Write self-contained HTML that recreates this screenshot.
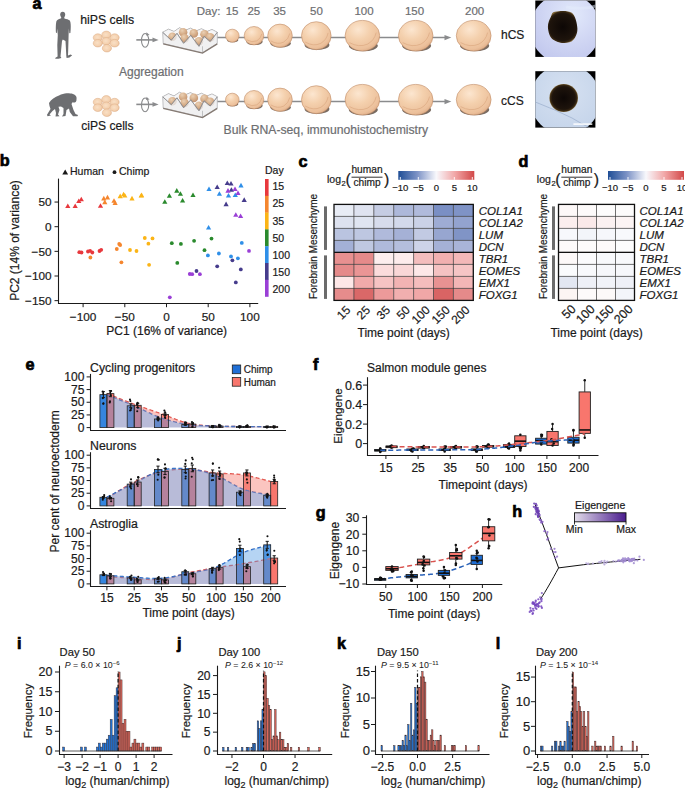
<!DOCTYPE html>
<html><head><meta charset="utf-8"><style>
html,body{margin:0;padding:0;background:#fff;width:685px;height:790px;overflow:hidden}
svg{display:block;font-family:"Liberation Sans", sans-serif}

</style></head><body>
<svg width="685" height="790" viewBox="0 0 685 790">
<text x="32.50" y="9.30" font-size="16.2" font-weight="bold" fill="#000" stroke="#000" stroke-width="0.7">a</text>
<defs>
<radialGradient id="org" cx="0.38" cy="0.3" r="0.75">
 <stop offset="0" stop-color="#fce6d0"/><stop offset="0.45" stop-color="#f4d0ad"/>
 <stop offset="0.85" stop-color="#ecc09b"/><stop offset="1" stop-color="#dcab86"/>
</radialGradient>
<radialGradient id="cell" cx="0.45" cy="0.45" r="0.6">
 <stop offset="0" stop-color="#f9e0c6"/><stop offset="0.7" stop-color="#f4d0ae"/><stop offset="1" stop-color="#e6b690"/>
</radialGradient>
<radialGradient id="ph1" cx="0.6" cy="0.3" r="0.7">
 <stop offset="0" stop-color="#e2e9fb"/><stop offset="0.6" stop-color="#cfd5f3"/><stop offset="1" stop-color="#c3c9ee"/>
</radialGradient>
<radialGradient id="ph2" cx="0.5" cy="0.4" r="0.7">
 <stop offset="0" stop-color="#d6e1f1"/><stop offset="1" stop-color="#c2d2e9"/>
</radialGradient>
<radialGradient id="dark" cx="0.5" cy="0.5" r="0.5">
 <stop offset="0" stop-color="#0d0705"/><stop offset="0.8" stop-color="#1e140c"/><stop offset="0.93" stop-color="#3a2a14"/><stop offset="1" stop-color="#7d6436"/>
</radialGradient>
</defs>
<ellipse cx="62.7" cy="14.6" rx="2.5" ry="2.9" fill="#6d6e71"/>
<path fill="#6d6e71" d="M61.2,16.6 L64.2,16.6 L64.4,18.4 C66.5,19 68.8,19.4 69.8,20.5 C70.8,22 70.9,26 70.7,29 L70.4,33 L69.3,33.2 L68.9,28.5 L68.6,35 C68.4,42 68.3,50 68,55.5 L70.5,54.6 L72.2,55.2 L69.5,57.5 L66.6,58 L66.3,56 L65.5,41 L62.8,39.5 L62,41 L60.5,56.5 L61.4,58 L58.5,58.8 L55.2,58.8 L55.5,57.8 L57.6,56.5 L57.3,45 L57.8,35 L57.1,28.5 L56.9,33 L56,32.8 C55.7,29 55.8,23 56.5,21 C57.5,19.4 59.5,18.9 61.2,18.3 Z"/>
<path fill="#6d6e71" d="M49,103 C51,99.5 55,97 59,95.5 C62,94 65,93 67.5,93.3 C69.5,93.6 71,93.2 73,94 C75.5,94.6 76.5,96.5 76.6,98 C76.3,99.5 76.8,100.5 76,101.5 C75.6,102.6 74,102.8 72.5,102.3 L71.5,104 L73.5,110 L75.5,114 L78,115 L77.5,116.3 L73,116.3 L69.8,112 L69,108.5 L66.5,110 L65.5,116 L62,116.5 L63.5,114 L63.5,108 L61,106.5 L58.5,106.8 L59.5,110 L58,114.5 L59.5,116.2 L55.5,116.5 L56,113 L55,109 L52.5,111 L49.5,114.5 L51,115.5 L47.5,116.3 L47,114.8 L50.5,109 L49.5,106 Z"/>
<text x="80.20" y="24.00" font-size="12.3" fill="#1a1a1a" stroke="#1a1a1a" stroke-width="0.2">hiPS cells</text>
<text x="81.20" y="130.30" font-size="12.1" fill="#1a1a1a" stroke="#1a1a1a" stroke-width="0.2">ciPS cells</text>
<text x="119.00" y="76.30" font-size="12" fill="#6d6e71" stroke="#6d6e71" stroke-width="0.2">Aggregation</text>
<text x="223.60" y="134.20" font-size="12.2" fill="#6d6e71" stroke="#6d6e71" stroke-width="0.2">Bulk RNA-seq, immunohistochemistry</text>
<ellipse cx="97.8" cy="37.6" rx="4.6" ry="3.8" fill="url(#cell)" stroke="#dcae88" stroke-width="0.5"/>
<ellipse cx="114.6" cy="37.6" rx="4.6" ry="3.8" fill="url(#cell)" stroke="#dcae88" stroke-width="0.5"/>
<ellipse cx="106.3" cy="34.9" rx="4.6" ry="3.8" fill="url(#cell)" stroke="#dcae88" stroke-width="0.5"/>
<ellipse cx="106.3" cy="41.3" rx="4.6" ry="3.8" fill="url(#cell)" stroke="#dcae88" stroke-width="0.5"/>
<ellipse cx="97.8" cy="43.2" rx="4.6" ry="3.8" fill="url(#cell)" stroke="#dcae88" stroke-width="0.5"/>
<ellipse cx="114.6" cy="43.2" rx="4.6" ry="3.8" fill="url(#cell)" stroke="#dcae88" stroke-width="0.5"/>
<ellipse cx="106.9" cy="48.2" rx="4.6" ry="3.8" fill="url(#cell)" stroke="#dcae88" stroke-width="0.5"/>
<ellipse cx="97.8" cy="102.1" rx="4.6" ry="3.8" fill="url(#cell)" stroke="#dcae88" stroke-width="0.5"/>
<ellipse cx="114.6" cy="102.1" rx="4.6" ry="3.8" fill="url(#cell)" stroke="#dcae88" stroke-width="0.5"/>
<ellipse cx="106.3" cy="99.4" rx="4.6" ry="3.8" fill="url(#cell)" stroke="#dcae88" stroke-width="0.5"/>
<ellipse cx="106.3" cy="105.8" rx="4.6" ry="3.8" fill="url(#cell)" stroke="#dcae88" stroke-width="0.5"/>
<ellipse cx="97.8" cy="107.7" rx="4.6" ry="3.8" fill="url(#cell)" stroke="#dcae88" stroke-width="0.5"/>
<ellipse cx="114.6" cy="107.7" rx="4.6" ry="3.8" fill="url(#cell)" stroke="#dcae88" stroke-width="0.5"/>
<ellipse cx="106.9" cy="112.7" rx="4.6" ry="3.8" fill="url(#cell)" stroke="#dcae88" stroke-width="0.5"/>
<line x1="136.30" y1="39.90" x2="153.50" y2="39.90" stroke="#8a8b8d" stroke-width="1.6"/>
<path d="M152.5,37.5 L158.6,39.9 L152.5,42.3Z" fill="#8a8b8d"/>
<ellipse cx="145.1" cy="40.4" rx="3.6" ry="6.9" fill="none" stroke="#8a8b8d" stroke-width="1.1"/>
<path d="M146.5,32.3 L149.6,35.1 L146.2,35.5Z" fill="#8a8b8d"/>
<line x1="136.30" y1="104.40" x2="153.50" y2="104.40" stroke="#8a8b8d" stroke-width="1.6"/>
<path d="M152.5,102.0 L158.6,104.4 L152.5,106.8Z" fill="#8a8b8d"/>
<ellipse cx="145.1" cy="104.9" rx="3.6" ry="6.9" fill="none" stroke="#8a8b8d" stroke-width="1.1"/>
<path d="M146.5,96.8 L149.6,99.6 L146.2,100.0Z" fill="#8a8b8d"/>
<defs><radialGradient id="pcell" cx="0.4" cy="0.3" r="0.7">
 <stop offset="0" stop-color="#ead0b4"/><stop offset="0.6" stop-color="#d6ad88"/><stop offset="1" stop-color="#c19372"/></radialGradient></defs>
<polyline points="162.7,32.3 168.5,29.2 174,31.5 179.5,27.8 185,30.5 190.5,28.2 196,31.0 201.5,28.8 207,31.5 212,29.5 217.3,32.3" fill="none" stroke="#7f8083" stroke-width="0.7"/>
<polygon points="162.7,32.3 168.5,29.2 174,31.5 179.5,27.8 185,30.5 190.5,28.2 196,31.0 201.5,28.8 207,31.5 212,29.5 217.3,32.3 217.3,36.0 162.7,36.0" fill="#f0f0f1" fill-opacity="0.6"/>
<circle cx="183.1" cy="32.2" r="4.3" fill="url(#pcell)"/>
<circle cx="193.8" cy="33.4" r="4.3" fill="url(#pcell)"/>
<circle cx="204.5" cy="34.2" r="4.3" fill="url(#pcell)"/>
<circle cx="172.4" cy="36.8" r="4.3" fill="url(#pcell)"/>
<circle cx="184.6" cy="38.4" r="4.3" fill="url(#pcell)"/>
<circle cx="198.9" cy="41.2" r="4.3" fill="url(#pcell)"/>
<circle cx="210.2" cy="37.4" r="4.3" fill="url(#pcell)"/>
<polygon points="162.7,32.3 171.3,40.2 177,33.3 183.6,43.3 190.8,35.3 199,46.3 204,36.3 210.2,41.5 217.3,32.3 217.3,43.5 202.5,52.7 163.2,43.5" fill="#ececed" fill-opacity="0.78" stroke="#9a9b9d" stroke-width="0.6"/>
<polyline points="162.7,32.3 171.3,40.2 177,33.3 183.6,43.3 190.8,35.3 199,46.3 204,36.3 210.2,41.5 217.3,32.3" fill="none" stroke="#7f8083" stroke-width="0.7"/>
<line x1="202.5" y1="46.3" x2="202.5" y2="52.7" stroke="#a0a1a3" stroke-width="0.6"/>
<polyline points="163.2,43.9 202.5,53.1 217.3,43.9" fill="none" stroke="#857a73" stroke-width="1.3"/>
<polyline points="162.7,96.8 168.5,93.7 174,96.0 179.5,92.3 185,95.0 190.5,92.7 196,95.5 201.5,93.3 207,96.0 212,94.0 217.3,96.8" fill="none" stroke="#7f8083" stroke-width="0.7"/>
<polygon points="162.7,96.8 168.5,93.7 174,96.0 179.5,92.3 185,95.0 190.5,92.7 196,95.5 201.5,93.3 207,96.0 212,94.0 217.3,96.8 217.3,100.5 162.7,100.5" fill="#f0f0f1" fill-opacity="0.6"/>
<circle cx="183.1" cy="96.7" r="4.3" fill="url(#pcell)"/>
<circle cx="193.8" cy="97.9" r="4.3" fill="url(#pcell)"/>
<circle cx="204.5" cy="98.7" r="4.3" fill="url(#pcell)"/>
<circle cx="172.4" cy="101.3" r="4.3" fill="url(#pcell)"/>
<circle cx="184.6" cy="102.9" r="4.3" fill="url(#pcell)"/>
<circle cx="198.9" cy="105.7" r="4.3" fill="url(#pcell)"/>
<circle cx="210.2" cy="101.9" r="4.3" fill="url(#pcell)"/>
<polygon points="162.7,96.8 171.3,104.7 177,97.8 183.6,107.8 190.8,99.8 199,110.8 204,100.8 210.2,106.0 217.3,96.8 217.3,108.0 202.5,117.2 163.2,108.0" fill="#ececed" fill-opacity="0.78" stroke="#9a9b9d" stroke-width="0.6"/>
<polyline points="162.7,96.8 171.3,104.7 177,97.8 183.6,107.8 190.8,99.8 199,110.8 204,100.8 210.2,106.0 217.3,96.8" fill="none" stroke="#7f8083" stroke-width="0.7"/>
<line x1="202.5" y1="110.8" x2="202.5" y2="117.2" stroke="#a0a1a3" stroke-width="0.6"/>
<polyline points="163.2,108.4 202.5,117.6 217.3,108.4" fill="none" stroke="#857a73" stroke-width="1.3"/>
<line x1="217.50" y1="37.60" x2="445.00" y2="37.60" stroke="#8a8b8d" stroke-width="1.5"/>
<path d="M444.5,35.0 L451.3,37.6 L444.5,40.2Z" fill="#8a8b8d"/>
<ellipse cx="232.6" cy="40.0" rx="5.7" ry="2.3" fill="#7a6c62"/>
<ellipse cx="232.3" cy="35.7" rx="6.8" ry="6.5" fill="url(#org)" stroke="#c08c66" stroke-width="0.6"/>
<ellipse cx="254.5" cy="41.8" rx="8.2" ry="3.3" fill="#7a6c62"/>
<ellipse cx="254.0" cy="35.7" rx="9.8" ry="9.2" fill="url(#org)" stroke="#c08c66" stroke-width="0.6"/>
<path d="M246.7,39.8 Q252.0,43.1 256.9,40.8 Q260.9,38.5 261.8,33.9" fill="none" stroke="#d9a47c" stroke-width="0.6"/>
<ellipse cx="280.6" cy="43.4" rx="10.3" ry="4.2" fill="#7a6c62"/>
<ellipse cx="280.0" cy="35.7" rx="12.3" ry="11.6" fill="url(#org)" stroke="#c08c66" stroke-width="0.6"/>
<path d="M270.8,40.9 Q277.5,45.0 283.7,42.1 Q288.6,39.2 289.8,33.4" fill="none" stroke="#d9a47c" stroke-width="0.6"/>
<ellipse cx="317.0" cy="44.9" rx="12.4" ry="5.0" fill="#7a6c62"/>
<ellipse cx="316.3" cy="35.7" rx="14.8" ry="14.0" fill="url(#org)" stroke="#c08c66" stroke-width="0.6"/>
<path d="M305.2,42.0 Q313.3,46.9 320.7,43.4 Q326.7,39.9 328.1,32.9" fill="none" stroke="#d9a47c" stroke-width="0.6"/>
<ellipse cx="363.3" cy="45.8" rx="14.5" ry="5.5" fill="#7a6c62"/>
<ellipse cx="362.4" cy="35.7" rx="17.3" ry="15.3" fill="url(#org)" stroke="#c08c66" stroke-width="0.6"/>
<path d="M349.4,42.6 Q358.9,47.9 367.6,44.1 Q374.5,40.3 376.2,32.6" fill="none" stroke="#d9a47c" stroke-width="0.6"/>
<ellipse cx="416.6" cy="45.8" rx="14.5" ry="5.5" fill="#7a6c62"/>
<ellipse cx="415.7" cy="35.7" rx="17.3" ry="15.3" fill="url(#org)" stroke="#c08c66" stroke-width="0.6"/>
<path d="M402.7,42.6 Q412.2,47.9 420.9,44.1 Q427.8,40.3 429.5,32.6" fill="none" stroke="#d9a47c" stroke-width="0.6"/>
<ellipse cx="474.6" cy="45.8" rx="14.6" ry="5.5" fill="#7a6c62"/>
<ellipse cx="473.7" cy="35.7" rx="17.4" ry="15.3" fill="url(#org)" stroke="#c08c66" stroke-width="0.6"/>
<path d="M460.6,42.6 Q470.2,47.9 478.9,44.1 Q485.9,40.3 487.6,32.6" fill="none" stroke="#d9a47c" stroke-width="0.6"/>
<line x1="217.50" y1="101.60" x2="445.00" y2="101.60" stroke="#8a8b8d" stroke-width="1.5"/>
<path d="M444.5,99.0 L451.3,101.6 L444.5,104.2Z" fill="#8a8b8d"/>
<ellipse cx="232.6" cy="104.0" rx="5.7" ry="2.3" fill="#7a6c62"/>
<ellipse cx="232.3" cy="99.7" rx="6.8" ry="6.5" fill="url(#org)" stroke="#c08c66" stroke-width="0.6"/>
<ellipse cx="254.5" cy="105.8" rx="8.2" ry="3.3" fill="#7a6c62"/>
<ellipse cx="254.0" cy="99.7" rx="9.8" ry="9.2" fill="url(#org)" stroke="#c08c66" stroke-width="0.6"/>
<path d="M246.7,103.8 Q252.0,107.1 256.9,104.8 Q260.9,102.5 261.8,97.9" fill="none" stroke="#d9a47c" stroke-width="0.6"/>
<ellipse cx="280.6" cy="107.4" rx="10.3" ry="4.2" fill="#7a6c62"/>
<ellipse cx="280.0" cy="99.7" rx="12.3" ry="11.6" fill="url(#org)" stroke="#c08c66" stroke-width="0.6"/>
<path d="M270.8,104.9 Q277.5,109.0 283.7,106.1 Q288.6,103.2 289.8,97.4" fill="none" stroke="#d9a47c" stroke-width="0.6"/>
<ellipse cx="317.0" cy="108.9" rx="12.4" ry="5.0" fill="#7a6c62"/>
<ellipse cx="316.3" cy="99.7" rx="14.8" ry="14.0" fill="url(#org)" stroke="#c08c66" stroke-width="0.6"/>
<path d="M305.2,106.0 Q313.3,110.9 320.7,107.4 Q326.7,103.9 328.1,96.9" fill="none" stroke="#d9a47c" stroke-width="0.6"/>
<ellipse cx="363.3" cy="109.8" rx="14.5" ry="5.5" fill="#7a6c62"/>
<ellipse cx="362.4" cy="99.7" rx="17.3" ry="15.3" fill="url(#org)" stroke="#c08c66" stroke-width="0.6"/>
<path d="M349.4,106.6 Q358.9,111.9 367.6,108.1 Q374.5,104.3 376.2,96.6" fill="none" stroke="#d9a47c" stroke-width="0.6"/>
<ellipse cx="416.6" cy="109.8" rx="14.5" ry="5.5" fill="#7a6c62"/>
<ellipse cx="415.7" cy="99.7" rx="17.3" ry="15.3" fill="url(#org)" stroke="#c08c66" stroke-width="0.6"/>
<path d="M402.7,106.6 Q412.2,111.9 420.9,108.1 Q427.8,104.3 429.5,96.6" fill="none" stroke="#d9a47c" stroke-width="0.6"/>
<ellipse cx="474.6" cy="109.8" rx="14.6" ry="5.5" fill="#7a6c62"/>
<ellipse cx="473.7" cy="99.7" rx="17.4" ry="15.3" fill="url(#org)" stroke="#c08c66" stroke-width="0.6"/>
<path d="M460.6,106.6 Q470.2,111.9 478.9,108.1 Q485.9,104.3 487.6,96.6" fill="none" stroke="#d9a47c" stroke-width="0.6"/>
<text x="196.80" y="15.20" font-size="11.5" fill="#6d6e71" stroke="#6d6e71" stroke-width="0.2">Day:</text>
<text x="232.10" y="15.20" font-size="11.5" text-anchor="middle" fill="#6d6e71" stroke="#6d6e71" stroke-width="0.2">15</text>
<text x="253.80" y="15.20" font-size="11.5" text-anchor="middle" fill="#6d6e71" stroke="#6d6e71" stroke-width="0.2">25</text>
<text x="279.60" y="15.20" font-size="11.5" text-anchor="middle" fill="#6d6e71" stroke="#6d6e71" stroke-width="0.2">35</text>
<text x="316.50" y="15.20" font-size="11.5" text-anchor="middle" fill="#6d6e71" stroke="#6d6e71" stroke-width="0.2">50</text>
<text x="364.00" y="15.20" font-size="11.5" text-anchor="middle" fill="#6d6e71" stroke="#6d6e71" stroke-width="0.2">100</text>
<text x="414.50" y="15.20" font-size="11.5" text-anchor="middle" fill="#6d6e71" stroke="#6d6e71" stroke-width="0.2">150</text>
<text x="474.60" y="15.20" font-size="11.5" text-anchor="middle" fill="#6d6e71" stroke="#6d6e71" stroke-width="0.2">200</text>
<text x="501.00" y="38.70" font-size="12" fill="#1a1a1a" stroke="#1a1a1a" stroke-width="0.2">hCS</text>
<text x="501.00" y="104.70" font-size="12" fill="#1a1a1a" stroke="#1a1a1a" stroke-width="0.2">cCS</text>
<defs><radialGradient id="dark2" gradientUnits="userSpaceOnUse" cx="562.8" cy="27" r="16.5"><stop offset="0" stop-color="#0d0705"/><stop offset="0.82" stop-color="#1e140c"/><stop offset="0.94" stop-color="#3a2a14"/><stop offset="1" stop-color="#7d6436"/></radialGradient></defs>
<clipPath id="cp0"><rect x="535.3" y="0.5" width="60.1" height="56.4"/></clipPath>
<rect x="535.30" y="0.50" width="60.10" height="56.40" fill="#000" stroke="none" stroke-width="0"/>
<circle cx="565.3" cy="28.7" r="35.2" fill="url(#ph1)" clip-path="url(#cp0)"/>
<ellipse cx="562.8" cy="26.5" rx="0.01" ry="0.01" fill="url(#dark)"/>
<path d="M555.00,11.70 C558.48,11.05 568.07,10.02 571.80,12.80 C575.53,15.58 577.17,23.87 577.40,28.40 C577.63,32.93 575.53,37.57 573.20,40.00 C570.87,42.43 566.98,43.27 563.40,43.00 C559.82,42.73 554.28,41.12 551.70,38.40 C549.12,35.68 548.03,30.32 547.90,26.70 C547.77,23.08 549.72,19.20 550.90,16.70 C552.08,14.20 551.52,12.35 555.00,11.70 Z" fill="url(#dark2)"/>
<path d="M596,6 Q585,10 566,7" fill="none" stroke="#e3ebfb" stroke-width="3" stroke-opacity="0.5" clip-path="url(#cp0)"/>
<clipPath id="cp71"><rect x="535.3" y="71.2" width="60.1" height="56.4"/></clipPath>
<rect x="535.30" y="71.20" width="60.10" height="56.40" fill="#000" stroke="none" stroke-width="0"/>
<circle cx="565.3" cy="99.4" r="35.2" fill="url(#ph2)" clip-path="url(#cp71)"/>
<path d="M535.3,102 Q556,110 572,118 Q582,124 590,128" fill="none" stroke="#9fb2cf" stroke-width="0.8" clip-path="url(#cp71)"/>
<ellipse cx="563.7" cy="98" rx="14.3" ry="14.1" fill="url(#dark)"/>
<rect x="573.40" y="123.40" width="18.90" height="1.40" fill="#ffffff" stroke="none" stroke-width="0"/>
<text x="-0.30" y="165.60" font-size="16.2" font-weight="bold" fill="#000" stroke="#000" stroke-width="0.7">b</text>
<line x1="58.50" y1="178.60" x2="58.50" y2="304.00" stroke="#1a1a1a" stroke-width="1.1"/>
<line x1="58.00" y1="303.50" x2="258.20" y2="303.50" stroke="#1a1a1a" stroke-width="1.1"/>
<line x1="54.50" y1="202.05" x2="58.50" y2="202.05" stroke="#1a1a1a" stroke-width="1"/>
<text x="51.60" y="206.25" font-size="11.8" text-anchor="end" fill="#1a1a1a" stroke="#1a1a1a" stroke-width="0.2">50</text>
<line x1="54.50" y1="226.70" x2="58.50" y2="226.70" stroke="#1a1a1a" stroke-width="1"/>
<text x="51.60" y="230.90" font-size="11.8" text-anchor="end" fill="#1a1a1a" stroke="#1a1a1a" stroke-width="0.2">0</text>
<line x1="54.50" y1="251.35" x2="58.50" y2="251.35" stroke="#1a1a1a" stroke-width="1"/>
<text x="51.60" y="255.55" font-size="11.8" text-anchor="end" fill="#1a1a1a" stroke="#1a1a1a" stroke-width="0.2">−50</text>
<line x1="54.50" y1="276.00" x2="58.50" y2="276.00" stroke="#1a1a1a" stroke-width="1"/>
<text x="51.60" y="280.20" font-size="11.8" text-anchor="end" fill="#1a1a1a" stroke="#1a1a1a" stroke-width="0.2">−100</text>
<line x1="54.50" y1="300.65" x2="58.50" y2="300.65" stroke="#1a1a1a" stroke-width="1"/>
<text x="51.60" y="304.85" font-size="11.8" text-anchor="end" fill="#1a1a1a" stroke="#1a1a1a" stroke-width="0.2">−150</text>
<line x1="83.10" y1="303.50" x2="83.10" y2="307.20" stroke="#1a1a1a" stroke-width="1"/>
<text x="83.10" y="321.30" font-size="11.8" text-anchor="middle" fill="#1a1a1a" stroke="#1a1a1a" stroke-width="0.2">−100</text>
<line x1="124.80" y1="303.50" x2="124.80" y2="307.20" stroke="#1a1a1a" stroke-width="1"/>
<text x="124.80" y="321.30" font-size="11.8" text-anchor="middle" fill="#1a1a1a" stroke="#1a1a1a" stroke-width="0.2">−50</text>
<line x1="166.50" y1="303.50" x2="166.50" y2="307.20" stroke="#1a1a1a" stroke-width="1"/>
<text x="166.50" y="321.30" font-size="11.8" text-anchor="middle" fill="#1a1a1a" stroke="#1a1a1a" stroke-width="0.2">0</text>
<line x1="208.20" y1="303.50" x2="208.20" y2="307.20" stroke="#1a1a1a" stroke-width="1"/>
<text x="208.20" y="321.30" font-size="11.8" text-anchor="middle" fill="#1a1a1a" stroke="#1a1a1a" stroke-width="0.2">50</text>
<line x1="249.90" y1="303.50" x2="249.90" y2="307.20" stroke="#1a1a1a" stroke-width="1"/>
<text x="249.90" y="321.30" font-size="11.8" text-anchor="middle" fill="#1a1a1a" stroke="#1a1a1a" stroke-width="0.2">100</text>
<text x="166.70" y="334.80" font-size="12" text-anchor="middle" fill="#1a1a1a" stroke="#1a1a1a" stroke-width="0.2">PC1 (16% of variance)</text>
<text x="18.60" y="240.50" font-size="12" text-anchor="middle" fill="#1a1a1a" transform="rotate(-90 18.6 240.5)" stroke="#1a1a1a" stroke-width="0.2">PC2 (14% of variance)</text>
<path d="M62.3,174.6 L65.2,169.5 L68.1,174.6Z" fill="#1a1a1a"/>
<text x="70.00" y="174.60" font-size="10.5" fill="#1a1a1a" stroke="#1a1a1a" stroke-width="0.2">Human</text>
<circle cx="114.50" cy="172.20" r="1.9" fill="#1a1a1a"/>
<text x="119.00" y="174.60" font-size="10.5" fill="#1a1a1a" stroke="#1a1a1a" stroke-width="0.2">Chimp</text>
<text x="265.00" y="174.30" font-size="10.5" fill="#1a1a1a" stroke="#1a1a1a" stroke-width="0.2">Day</text>
<rect x="265.00" y="179.00" width="3.60" height="17.00" fill="#e8383d" stroke="none" stroke-width="0"/>
<rect x="265.00" y="195.80" width="3.60" height="17.00" fill="#f5862e" stroke="none" stroke-width="0"/>
<rect x="265.00" y="212.60" width="3.60" height="17.00" fill="#fbb416" stroke="none" stroke-width="0"/>
<rect x="265.00" y="229.40" width="3.60" height="17.00" fill="#2a8a2d" stroke="none" stroke-width="0"/>
<rect x="265.00" y="246.20" width="3.60" height="17.00" fill="#2f8fe8" stroke="none" stroke-width="0"/>
<rect x="265.00" y="263.00" width="3.60" height="17.00" fill="#463c8c" stroke="none" stroke-width="0"/>
<rect x="265.00" y="279.80" width="3.60" height="17.00" fill="#9a3fd6" stroke="none" stroke-width="0"/>
<text x="272.50" y="190.30" font-size="10.5" fill="#1a1a1a" stroke="#1a1a1a" stroke-width="0.2">15</text>
<text x="272.50" y="207.45" font-size="10.5" fill="#1a1a1a" stroke="#1a1a1a" stroke-width="0.2">25</text>
<text x="272.50" y="224.60" font-size="10.5" fill="#1a1a1a" stroke="#1a1a1a" stroke-width="0.2">35</text>
<text x="272.50" y="241.75" font-size="10.5" fill="#1a1a1a" stroke="#1a1a1a" stroke-width="0.2">50</text>
<text x="272.50" y="258.90" font-size="10.5" fill="#1a1a1a" stroke="#1a1a1a" stroke-width="0.2">100</text>
<text x="272.50" y="276.05" font-size="10.5" fill="#1a1a1a" stroke="#1a1a1a" stroke-width="0.2">150</text>
<text x="272.50" y="293.20" font-size="10.5" fill="#1a1a1a" stroke="#1a1a1a" stroke-width="0.2">200</text>
<path d="M65.2,208.0 L67.8,203.4 L70.4,208.0Z" fill="#e8383d"/>
<path d="M72.6,208.0 L75.2,203.4 L77.8,208.0Z" fill="#e8383d"/>
<path d="M76.2,203.0 L78.8,198.4 L81.4,203.0Z" fill="#e8383d"/>
<path d="M78.7,201.3 L81.3,196.7 L83.9,201.3Z" fill="#e8383d"/>
<path d="M97.9,207.8 L100.5,203.2 L103.1,207.8Z" fill="#e8383d"/>
<path d="M101.2,200.4 L103.8,195.8 L106.4,200.4Z" fill="#f5862e"/>
<path d="M104.9,199.4 L107.5,194.8 L110.1,199.4Z" fill="#f5862e"/>
<path d="M102.2,204.2 L104.8,199.6 L107.4,204.2Z" fill="#f5862e"/>
<path d="M111.4,202.8 L114.0,198.2 L116.6,202.8Z" fill="#f5862e"/>
<path d="M112.5,205.0 L115.1,200.4 L117.7,205.0Z" fill="#f5862e"/>
<path d="M117.6,198.2 L120.2,193.6 L122.8,198.2Z" fill="#fbb416"/>
<path d="M121.0,196.3 L123.6,191.7 L126.2,196.3Z" fill="#fbb416"/>
<path d="M122.2,197.5 L124.8,192.9 L127.4,197.5Z" fill="#fbb416"/>
<path d="M129.4,200.4 L132.0,195.8 L134.6,200.4Z" fill="#fbb416"/>
<path d="M139.0,197.2 L141.6,192.6 L144.2,197.2Z" fill="#fbb416"/>
<path d="M138.6,197.5 L141.2,192.9 L143.8,197.5Z" fill="#fbb416"/>
<path d="M162.2,203.8 L164.8,199.2 L167.4,203.8Z" fill="#2a8a2d"/>
<path d="M166.8,197.8 L169.4,193.2 L172.0,197.8Z" fill="#2a8a2d"/>
<path d="M174.2,192.7 L176.8,188.1 L179.4,192.7Z" fill="#2a8a2d"/>
<path d="M177.8,195.8 L180.4,191.2 L183.0,195.8Z" fill="#2a8a2d"/>
<path d="M180.0,202.6 L182.6,198.0 L185.2,202.6Z" fill="#2a8a2d"/>
<path d="M190.4,197.0 L193.0,192.4 L195.6,197.0Z" fill="#2a8a2d"/>
<path d="M206.4,191.0 L209.0,186.4 L211.6,191.0Z" fill="#2f8fe8"/>
<path d="M216.8,195.8 L219.4,191.2 L222.0,195.8Z" fill="#2f8fe8"/>
<path d="M225.9,197.5 L228.5,192.9 L231.1,197.5Z" fill="#2f8fe8"/>
<path d="M232.7,197.0 L235.3,192.4 L237.9,197.0Z" fill="#2f8fe8"/>
<path d="M238.4,187.4 L241.0,182.8 L243.6,187.4Z" fill="#2f8fe8"/>
<path d="M206.0,229.5 L208.6,224.9 L211.2,229.5Z" fill="#2f8fe8"/>
<path d="M214.6,189.0 L217.2,184.4 L219.8,189.0Z" fill="#463c8c"/>
<path d="M224.7,185.0 L227.3,180.4 L229.9,185.0Z" fill="#463c8c"/>
<path d="M228.4,185.5 L231.0,180.9 L233.6,185.5Z" fill="#463c8c"/>
<path d="M228.8,191.8 L231.4,187.2 L234.0,191.8Z" fill="#463c8c"/>
<path d="M223.5,206.2 L226.1,201.6 L228.7,206.2Z" fill="#463c8c"/>
<path d="M241.6,201.9 L244.2,197.3 L246.8,201.9Z" fill="#463c8c"/>
<path d="M225.4,192.7 L228.0,188.1 L230.6,192.7Z" fill="#9a3fd6"/>
<path d="M232.4,191.0 L235.0,186.4 L237.6,191.0Z" fill="#9a3fd6"/>
<path d="M235.4,195.0 L238.0,190.4 L240.6,195.0Z" fill="#9a3fd6"/>
<path d="M233.2,216.8 L235.8,212.2 L238.4,216.8Z" fill="#9a3fd6"/>
<path d="M238.0,218.0 L240.6,213.4 L243.2,218.0Z" fill="#9a3fd6"/>
<circle cx="79.30" cy="252.20" r="1.9" fill="#e8383d"/>
<circle cx="81.50" cy="252.50" r="1.9" fill="#e8383d"/>
<circle cx="88.00" cy="251.50" r="1.9" fill="#e8383d"/>
<circle cx="90.10" cy="250.80" r="1.9" fill="#e8383d"/>
<circle cx="92.30" cy="252.50" r="1.9" fill="#e8383d"/>
<circle cx="99.50" cy="251.00" r="1.9" fill="#e8383d"/>
<circle cx="101.20" cy="249.80" r="1.9" fill="#e8383d"/>
<circle cx="90.40" cy="257.50" r="1.9" fill="#f5862e"/>
<circle cx="116.80" cy="249.00" r="1.9" fill="#f5862e"/>
<circle cx="119.20" cy="244.00" r="1.9" fill="#f5862e"/>
<circle cx="120.20" cy="245.00" r="1.9" fill="#f5862e"/>
<circle cx="121.40" cy="262.30" r="1.9" fill="#f5862e"/>
<circle cx="130.00" cy="250.00" r="1.9" fill="#fbb416"/>
<circle cx="136.50" cy="251.00" r="1.9" fill="#fbb416"/>
<circle cx="144.80" cy="238.00" r="1.9" fill="#fbb416"/>
<circle cx="148.40" cy="243.70" r="1.9" fill="#fbb416"/>
<circle cx="152.50" cy="238.40" r="1.9" fill="#fbb416"/>
<circle cx="149.10" cy="264.80" r="1.9" fill="#fbb416"/>
<circle cx="171.80" cy="243.20" r="1.9" fill="#2a8a2d"/>
<circle cx="180.90" cy="243.90" r="1.9" fill="#2a8a2d"/>
<circle cx="194.10" cy="240.80" r="1.9" fill="#2a8a2d"/>
<circle cx="211.50" cy="238.60" r="1.9" fill="#2a8a2d"/>
<circle cx="204.50" cy="250.20" r="1.9" fill="#2a8a2d"/>
<circle cx="177.30" cy="262.90" r="1.9" fill="#2a8a2d"/>
<circle cx="207.90" cy="255.40" r="1.9" fill="#2f8fe8"/>
<circle cx="218.90" cy="253.50" r="1.9" fill="#2f8fe8"/>
<circle cx="231.00" cy="256.40" r="1.9" fill="#2f8fe8"/>
<circle cx="237.90" cy="258.30" r="1.9" fill="#2f8fe8"/>
<circle cx="241.80" cy="242.90" r="1.9" fill="#2f8fe8"/>
<circle cx="196.50" cy="271.00" r="1.9" fill="#463c8c"/>
<circle cx="217.20" cy="266.30" r="1.9" fill="#463c8c"/>
<circle cx="232.40" cy="260.30" r="1.9" fill="#463c8c"/>
<circle cx="240.80" cy="269.40" r="1.9" fill="#463c8c"/>
<circle cx="235.80" cy="282.40" r="1.9" fill="#463c8c"/>
<circle cx="189.80" cy="274.00" r="1.9" fill="#9a3fd6"/>
<circle cx="192.20" cy="274.20" r="1.9" fill="#9a3fd6"/>
<circle cx="199.90" cy="274.20" r="1.9" fill="#9a3fd6"/>
<circle cx="249.00" cy="250.90" r="1.9" fill="#9a3fd6"/>
<circle cx="169.80" cy="297.30" r="1.9" fill="#9a3fd6"/>
<defs><linearGradient id="hmgrad" x1="0" x2="1" y1="0" y2="0"><stop offset="0" stop-color="#1f4e96"/><stop offset="0.25" stop-color="#7d93c6"/><stop offset="0.5" stop-color="#f8f8fc"/><stop offset="0.75" stop-color="#f1a5a5"/><stop offset="1" stop-color="#d24848"/></linearGradient></defs>
<text x="298.50" y="166.50" font-size="16.2" font-weight="bold" fill="#000" stroke="#000" stroke-width="0.7">c</text>
<rect x="334.00" y="204.40" width="19.90" height="12.00" fill="#e8ecf5" stroke="none" stroke-width="0"/>
<rect x="353.90" y="204.40" width="19.90" height="12.00" fill="#dfe3f0" stroke="none" stroke-width="0"/>
<rect x="373.80" y="204.40" width="19.90" height="12.00" fill="#c5cce3" stroke="none" stroke-width="0"/>
<rect x="393.70" y="204.40" width="19.90" height="12.00" fill="#adb8da" stroke="none" stroke-width="0"/>
<rect x="413.60" y="204.40" width="19.90" height="12.00" fill="#b0badb" stroke="none" stroke-width="0"/>
<rect x="433.50" y="204.40" width="19.90" height="12.00" fill="#7a8fc4" stroke="none" stroke-width="0"/>
<rect x="453.40" y="204.40" width="19.90" height="12.00" fill="#7f93c6" stroke="none" stroke-width="0"/>
<rect x="334.00" y="216.40" width="19.90" height="12.00" fill="#dde2ef" stroke="none" stroke-width="0"/>
<rect x="353.90" y="216.40" width="19.90" height="12.00" fill="#e0e5f1" stroke="none" stroke-width="0"/>
<rect x="373.80" y="216.40" width="19.90" height="12.00" fill="#d7dcec" stroke="none" stroke-width="0"/>
<rect x="393.70" y="216.40" width="19.90" height="12.00" fill="#d3d9eb" stroke="none" stroke-width="0"/>
<rect x="413.60" y="216.40" width="19.90" height="12.00" fill="#cbd2e7" stroke="none" stroke-width="0"/>
<rect x="433.50" y="216.40" width="19.90" height="12.00" fill="#9eacd4" stroke="none" stroke-width="0"/>
<rect x="453.40" y="216.40" width="19.90" height="12.00" fill="#93a3cf" stroke="none" stroke-width="0"/>
<rect x="334.00" y="228.40" width="19.90" height="12.00" fill="#bac4e0" stroke="none" stroke-width="0"/>
<rect x="353.90" y="228.40" width="19.90" height="12.00" fill="#bec7e1" stroke="none" stroke-width="0"/>
<rect x="373.80" y="228.40" width="19.90" height="12.00" fill="#b0badb" stroke="none" stroke-width="0"/>
<rect x="393.70" y="228.40" width="19.90" height="12.00" fill="#a5b1d6" stroke="none" stroke-width="0"/>
<rect x="413.60" y="228.40" width="19.90" height="12.00" fill="#c2cae3" stroke="none" stroke-width="0"/>
<rect x="433.50" y="228.40" width="19.90" height="12.00" fill="#97a6d0" stroke="none" stroke-width="0"/>
<rect x="453.40" y="228.40" width="19.90" height="12.00" fill="#8094c6" stroke="none" stroke-width="0"/>
<rect x="334.00" y="240.40" width="19.90" height="12.00" fill="#a3b0d6" stroke="none" stroke-width="0"/>
<rect x="353.90" y="240.40" width="19.90" height="12.00" fill="#bfc8e1" stroke="none" stroke-width="0"/>
<rect x="373.80" y="240.40" width="19.90" height="12.00" fill="#afbadb" stroke="none" stroke-width="0"/>
<rect x="393.70" y="240.40" width="19.90" height="12.00" fill="#b4bedd" stroke="none" stroke-width="0"/>
<rect x="413.60" y="240.40" width="19.90" height="12.00" fill="#cdd3e8" stroke="none" stroke-width="0"/>
<rect x="433.50" y="240.40" width="19.90" height="12.00" fill="#a5b1d6" stroke="none" stroke-width="0"/>
<rect x="453.40" y="240.40" width="19.90" height="12.00" fill="#a9b4d8" stroke="none" stroke-width="0"/>
<rect x="334.00" y="252.40" width="19.90" height="12.00" fill="#e89090" stroke="none" stroke-width="0"/>
<rect x="353.90" y="252.40" width="19.90" height="12.00" fill="#e58a8a" stroke="none" stroke-width="0"/>
<rect x="373.80" y="252.40" width="19.90" height="12.00" fill="#fdeeee" stroke="none" stroke-width="0"/>
<rect x="393.70" y="252.40" width="19.90" height="12.00" fill="#fdecec" stroke="none" stroke-width="0"/>
<rect x="413.60" y="252.40" width="19.90" height="12.00" fill="#f4bdbd" stroke="none" stroke-width="0"/>
<rect x="433.50" y="252.40" width="19.90" height="12.00" fill="#f1b0b0" stroke="none" stroke-width="0"/>
<rect x="453.40" y="252.40" width="19.90" height="12.00" fill="#f3b8b8" stroke="none" stroke-width="0"/>
<rect x="334.00" y="264.40" width="19.90" height="12.00" fill="#e58a8a" stroke="none" stroke-width="0"/>
<rect x="353.90" y="264.40" width="19.90" height="12.00" fill="#ea9595" stroke="none" stroke-width="0"/>
<rect x="373.80" y="264.40" width="19.90" height="12.00" fill="#fbdcdc" stroke="none" stroke-width="0"/>
<rect x="393.70" y="264.40" width="19.90" height="12.00" fill="#f9d7d7" stroke="none" stroke-width="0"/>
<rect x="413.60" y="264.40" width="19.90" height="12.00" fill="#fde8e8" stroke="none" stroke-width="0"/>
<rect x="433.50" y="264.40" width="19.90" height="12.00" fill="#f5c2c2" stroke="none" stroke-width="0"/>
<rect x="453.40" y="264.40" width="19.90" height="12.00" fill="#f6c5c5" stroke="none" stroke-width="0"/>
<rect x="334.00" y="276.40" width="19.90" height="12.00" fill="#fde7e7" stroke="none" stroke-width="0"/>
<rect x="353.90" y="276.40" width="19.90" height="12.00" fill="#f1aaaa" stroke="none" stroke-width="0"/>
<rect x="373.80" y="276.40" width="19.90" height="12.00" fill="#f6c3c3" stroke="none" stroke-width="0"/>
<rect x="393.70" y="276.40" width="19.90" height="12.00" fill="#f2b3b3" stroke="none" stroke-width="0"/>
<rect x="413.60" y="276.40" width="19.90" height="12.00" fill="#f5bdbd" stroke="none" stroke-width="0"/>
<rect x="433.50" y="276.40" width="19.90" height="12.00" fill="#e89292" stroke="none" stroke-width="0"/>
<rect x="453.40" y="276.40" width="19.90" height="12.00" fill="#f3b6b6" stroke="none" stroke-width="0"/>
<rect x="334.00" y="288.40" width="19.90" height="12.00" fill="#e68c8c" stroke="none" stroke-width="0"/>
<rect x="353.90" y="288.40" width="19.90" height="12.00" fill="#da6868" stroke="none" stroke-width="0"/>
<rect x="373.80" y="288.40" width="19.90" height="12.00" fill="#ec9a9a" stroke="none" stroke-width="0"/>
<rect x="393.70" y="288.40" width="19.90" height="12.00" fill="#f1afaf" stroke="none" stroke-width="0"/>
<rect x="413.60" y="288.40" width="19.90" height="12.00" fill="#f0a7a7" stroke="none" stroke-width="0"/>
<rect x="433.50" y="288.40" width="19.90" height="12.00" fill="#d96464" stroke="none" stroke-width="0"/>
<rect x="453.40" y="288.40" width="19.90" height="12.00" fill="#e58a8a" stroke="none" stroke-width="0"/>
<line x1="334.00" y1="216.40" x2="473.30" y2="216.40" stroke="#333" stroke-width="0.7"/>
<line x1="334.00" y1="228.40" x2="473.30" y2="228.40" stroke="#333" stroke-width="0.7"/>
<line x1="334.00" y1="240.40" x2="473.30" y2="240.40" stroke="#333" stroke-width="0.7"/>
<line x1="334.00" y1="252.40" x2="473.30" y2="252.40" stroke="#333" stroke-width="0.7"/>
<line x1="334.00" y1="264.40" x2="473.30" y2="264.40" stroke="#333" stroke-width="0.7"/>
<line x1="334.00" y1="276.40" x2="473.30" y2="276.40" stroke="#333" stroke-width="0.7"/>
<line x1="334.00" y1="288.40" x2="473.30" y2="288.40" stroke="#333" stroke-width="0.7"/>
<line x1="353.90" y1="204.40" x2="353.90" y2="300.40" stroke="#333" stroke-width="0.7"/>
<line x1="373.80" y1="204.40" x2="373.80" y2="300.40" stroke="#333" stroke-width="0.7"/>
<line x1="393.70" y1="204.40" x2="393.70" y2="300.40" stroke="#333" stroke-width="0.7"/>
<line x1="413.60" y1="204.40" x2="413.60" y2="300.40" stroke="#333" stroke-width="0.7"/>
<line x1="433.50" y1="204.40" x2="433.50" y2="300.40" stroke="#333" stroke-width="0.7"/>
<line x1="453.40" y1="204.40" x2="453.40" y2="300.40" stroke="#333" stroke-width="0.7"/>
<rect x="334.00" y="204.40" width="139.30" height="96.00" fill="none" stroke="#111" stroke-width="1.3"/>
<line x1="334.00" y1="252.40" x2="473.30" y2="252.40" stroke="#111" stroke-width="1.4"/>
<rect x="324.00" y="206.40" width="3.00" height="43.50" fill="#6b6b6b" stroke="none" stroke-width="0"/>
<rect x="324.00" y="255.40" width="3.00" height="43.50" fill="#6b6b6b" stroke="none" stroke-width="0"/>
<text x="317.50" y="223.60" font-size="10" text-anchor="middle" fill="#1a1a1a" transform="rotate(-90 317.5 223.6)" stroke="#1a1a1a" stroke-width="0.2">Mesenchyme</text>
<text x="317.50" y="277.60" font-size="10" text-anchor="middle" fill="#1a1a1a" transform="rotate(-90 317.5 277.59999999999997)" stroke="#1a1a1a" stroke-width="0.2">Forebrain</text>
<text x="478.70" y="214.50" font-size="11.5" font-style="italic" fill="#1a1a1a" stroke="#1a1a1a" stroke-width="0.2">COL1A1</text>
<text x="478.70" y="226.50" font-size="11.5" font-style="italic" fill="#1a1a1a" stroke="#1a1a1a" stroke-width="0.2">COL1A2</text>
<text x="478.70" y="238.50" font-size="11.5" font-style="italic" fill="#1a1a1a" stroke="#1a1a1a" stroke-width="0.2">LUM</text>
<text x="478.70" y="250.50" font-size="11.5" font-style="italic" fill="#1a1a1a" stroke="#1a1a1a" stroke-width="0.2">DCN</text>
<text x="478.70" y="262.50" font-size="11.5" font-style="italic" fill="#1a1a1a" stroke="#1a1a1a" stroke-width="0.2">TBR1</text>
<text x="478.70" y="274.50" font-size="11.5" font-style="italic" fill="#1a1a1a" stroke="#1a1a1a" stroke-width="0.2">EOMES</text>
<text x="478.70" y="286.50" font-size="11.5" font-style="italic" fill="#1a1a1a" stroke="#1a1a1a" stroke-width="0.2">EMX1</text>
<text x="478.70" y="298.50" font-size="11.5" font-style="italic" fill="#1a1a1a" stroke="#1a1a1a" stroke-width="0.2">FOXG1</text>
<text x="351.15" y="310.70" font-size="12" text-anchor="end" fill="#1a1a1a" transform="rotate(-45 351.15 310.7)" stroke="#1a1a1a" stroke-width="0.2">15</text>
<text x="371.05" y="310.70" font-size="12" text-anchor="end" fill="#1a1a1a" transform="rotate(-45 371.05 310.7)" stroke="#1a1a1a" stroke-width="0.2">25</text>
<text x="390.95" y="310.70" font-size="12" text-anchor="end" fill="#1a1a1a" transform="rotate(-45 390.95 310.7)" stroke="#1a1a1a" stroke-width="0.2">35</text>
<text x="410.85" y="310.70" font-size="12" text-anchor="end" fill="#1a1a1a" transform="rotate(-45 410.84999999999997 310.7)" stroke="#1a1a1a" stroke-width="0.2">50</text>
<text x="430.75" y="310.70" font-size="12" text-anchor="end" fill="#1a1a1a" transform="rotate(-45 430.75 310.7)" stroke="#1a1a1a" stroke-width="0.2">100</text>
<text x="450.65" y="310.70" font-size="12" text-anchor="end" fill="#1a1a1a" transform="rotate(-45 450.65 310.7)" stroke="#1a1a1a" stroke-width="0.2">150</text>
<text x="470.55" y="310.70" font-size="12" text-anchor="end" fill="#1a1a1a" transform="rotate(-45 470.55 310.7)" stroke="#1a1a1a" stroke-width="0.2">200</text>
<text x="403.65" y="336.60" font-size="12" text-anchor="middle" fill="#1a1a1a" stroke="#1a1a1a" stroke-width="0.2">Time point (days)</text>
<text x="327.00" y="182.50" font-size="10.5" fill="#1a1a1a" stroke="#1a1a1a" stroke-width="0.2">log</text>
<text x="341.60" y="185.50" font-size="7.5" fill="#1a1a1a" stroke="#1a1a1a" stroke-width="0.2">2</text>
<text x="345.50" y="184.50" font-size="16" fill="#1a1a1a" stroke="#1a1a1a" stroke-width="0.2">(</text>
<text x="367.00" y="173.30" font-size="10.2" text-anchor="middle" fill="#1a1a1a" stroke="#1a1a1a" stroke-width="0.2">human</text>
<line x1="351.50" y1="177.20" x2="382.50" y2="177.20" stroke="#1a1a1a" stroke-width="0.9"/>
<text x="367.00" y="185.50" font-size="10.2" text-anchor="middle" fill="#1a1a1a" stroke="#1a1a1a" stroke-width="0.2">chimp</text>
<text x="384.00" y="184.50" font-size="16" fill="#1a1a1a" stroke="#1a1a1a" stroke-width="0.2">)</text>
<rect x="398.3" y="171" width="76" height="8.8" fill="url(#hmgrad)"/>
<line x1="400.30" y1="177.00" x2="400.30" y2="179.80" stroke="#fff" stroke-width="0.9"/>
<line x1="418.30" y1="177.00" x2="418.30" y2="179.80" stroke="#fff" stroke-width="0.9"/>
<line x1="454.30" y1="177.00" x2="454.30" y2="179.80" stroke="#fff" stroke-width="0.9"/>
<line x1="472.30" y1="177.00" x2="472.30" y2="179.80" stroke="#fff" stroke-width="0.9"/>
<text x="400.30" y="190.70" font-size="9.5" text-anchor="middle" fill="#1a1a1a" stroke="#1a1a1a" stroke-width="0.2">−10</text>
<text x="418.30" y="190.70" font-size="9.5" text-anchor="middle" fill="#1a1a1a" stroke="#1a1a1a" stroke-width="0.2">−5</text>
<text x="436.30" y="190.70" font-size="9.5" text-anchor="middle" fill="#1a1a1a" stroke="#1a1a1a" stroke-width="0.2">0</text>
<text x="454.30" y="190.70" font-size="9.5" text-anchor="middle" fill="#1a1a1a" stroke="#1a1a1a" stroke-width="0.2">5</text>
<text x="472.30" y="190.70" font-size="9.5" text-anchor="middle" fill="#1a1a1a" stroke="#1a1a1a" stroke-width="0.2">10</text>
<text x="518.50" y="166.50" font-size="16.2" font-weight="bold" fill="#000" stroke="#000" stroke-width="0.7">d</text>
<rect x="558.50" y="204.40" width="19.00" height="12.00" fill="#fdf8f8" stroke="none" stroke-width="0"/>
<rect x="577.50" y="204.40" width="19.00" height="12.00" fill="#fdfafa" stroke="none" stroke-width="0"/>
<rect x="596.50" y="204.40" width="19.00" height="12.00" fill="#fdfcfc" stroke="none" stroke-width="0"/>
<rect x="615.50" y="204.40" width="19.00" height="12.00" fill="#fcfbfb" stroke="none" stroke-width="0"/>
<rect x="558.50" y="216.40" width="19.00" height="12.00" fill="#fbeeee" stroke="none" stroke-width="0"/>
<rect x="577.50" y="216.40" width="19.00" height="12.00" fill="#fae9e9" stroke="none" stroke-width="0"/>
<rect x="596.50" y="216.40" width="19.00" height="12.00" fill="#fbf1f1" stroke="none" stroke-width="0"/>
<rect x="615.50" y="216.40" width="19.00" height="12.00" fill="#fcf4f4" stroke="none" stroke-width="0"/>
<rect x="558.50" y="228.40" width="19.00" height="12.00" fill="#f7f8fc" stroke="none" stroke-width="0"/>
<rect x="577.50" y="228.40" width="19.00" height="12.00" fill="#f3f5fa" stroke="none" stroke-width="0"/>
<rect x="596.50" y="228.40" width="19.00" height="12.00" fill="#f6f7fb" stroke="none" stroke-width="0"/>
<rect x="615.50" y="228.40" width="19.00" height="12.00" fill="#f8f9fc" stroke="none" stroke-width="0"/>
<rect x="558.50" y="240.40" width="19.00" height="12.00" fill="#fdfafa" stroke="none" stroke-width="0"/>
<rect x="577.50" y="240.40" width="19.00" height="12.00" fill="#fdfbfb" stroke="none" stroke-width="0"/>
<rect x="596.50" y="240.40" width="19.00" height="12.00" fill="#fdfafa" stroke="none" stroke-width="0"/>
<rect x="615.50" y="240.40" width="19.00" height="12.00" fill="#fcfcfd" stroke="none" stroke-width="0"/>
<rect x="558.50" y="252.40" width="19.00" height="12.00" fill="#fdf9f9" stroke="none" stroke-width="0"/>
<rect x="577.50" y="252.40" width="19.00" height="12.00" fill="#fbfbfd" stroke="none" stroke-width="0"/>
<rect x="596.50" y="252.40" width="19.00" height="12.00" fill="#f8f9fc" stroke="none" stroke-width="0"/>
<rect x="615.50" y="252.40" width="19.00" height="12.00" fill="#f8f9fc" stroke="none" stroke-width="0"/>
<rect x="558.50" y="264.40" width="19.00" height="12.00" fill="#fafbfd" stroke="none" stroke-width="0"/>
<rect x="577.50" y="264.40" width="19.00" height="12.00" fill="#f8f9fc" stroke="none" stroke-width="0"/>
<rect x="596.50" y="264.40" width="19.00" height="12.00" fill="#f6f7fb" stroke="none" stroke-width="0"/>
<rect x="615.50" y="264.40" width="19.00" height="12.00" fill="#f6f7fb" stroke="none" stroke-width="0"/>
<rect x="558.50" y="276.40" width="19.00" height="12.00" fill="#e3e7f2" stroke="none" stroke-width="0"/>
<rect x="577.50" y="276.40" width="19.00" height="12.00" fill="#eef0f7" stroke="none" stroke-width="0"/>
<rect x="596.50" y="276.40" width="19.00" height="12.00" fill="#f1f3f9" stroke="none" stroke-width="0"/>
<rect x="615.50" y="276.40" width="19.00" height="12.00" fill="#eef0f7" stroke="none" stroke-width="0"/>
<rect x="558.50" y="288.40" width="19.00" height="12.00" fill="#fcf5f3" stroke="none" stroke-width="0"/>
<rect x="577.50" y="288.40" width="19.00" height="12.00" fill="#fdfafa" stroke="none" stroke-width="0"/>
<rect x="596.50" y="288.40" width="19.00" height="12.00" fill="#fcf9f9" stroke="none" stroke-width="0"/>
<rect x="615.50" y="288.40" width="19.00" height="12.00" fill="#f3f5fa" stroke="none" stroke-width="0"/>
<line x1="558.50" y1="216.40" x2="634.50" y2="216.40" stroke="#333" stroke-width="0.7"/>
<line x1="558.50" y1="228.40" x2="634.50" y2="228.40" stroke="#333" stroke-width="0.7"/>
<line x1="558.50" y1="240.40" x2="634.50" y2="240.40" stroke="#333" stroke-width="0.7"/>
<line x1="558.50" y1="252.40" x2="634.50" y2="252.40" stroke="#333" stroke-width="0.7"/>
<line x1="558.50" y1="264.40" x2="634.50" y2="264.40" stroke="#333" stroke-width="0.7"/>
<line x1="558.50" y1="276.40" x2="634.50" y2="276.40" stroke="#333" stroke-width="0.7"/>
<line x1="558.50" y1="288.40" x2="634.50" y2="288.40" stroke="#333" stroke-width="0.7"/>
<line x1="577.50" y1="204.40" x2="577.50" y2="300.40" stroke="#333" stroke-width="0.7"/>
<line x1="596.50" y1="204.40" x2="596.50" y2="300.40" stroke="#333" stroke-width="0.7"/>
<line x1="615.50" y1="204.40" x2="615.50" y2="300.40" stroke="#333" stroke-width="0.7"/>
<rect x="558.50" y="204.40" width="76.00" height="96.00" fill="none" stroke="#111" stroke-width="1.3"/>
<line x1="558.50" y1="252.40" x2="634.50" y2="252.40" stroke="#111" stroke-width="1.4"/>
<rect x="552.00" y="206.40" width="3.00" height="43.50" fill="#6b6b6b" stroke="none" stroke-width="0"/>
<rect x="552.00" y="255.40" width="3.00" height="43.50" fill="#6b6b6b" stroke="none" stroke-width="0"/>
<text x="546.80" y="223.60" font-size="10" text-anchor="middle" fill="#1a1a1a" transform="rotate(-90 546.8 223.6)" stroke="#1a1a1a" stroke-width="0.2">Mesenchyme</text>
<text x="546.80" y="277.60" font-size="10" text-anchor="middle" fill="#1a1a1a" transform="rotate(-90 546.8 277.59999999999997)" stroke="#1a1a1a" stroke-width="0.2">Forebrain</text>
<text x="639.50" y="214.50" font-size="11.5" font-style="italic" fill="#1a1a1a" stroke="#1a1a1a" stroke-width="0.2">COL1A1</text>
<text x="639.50" y="226.50" font-size="11.5" font-style="italic" fill="#1a1a1a" stroke="#1a1a1a" stroke-width="0.2">COL1A2</text>
<text x="639.50" y="238.50" font-size="11.5" font-style="italic" fill="#1a1a1a" stroke="#1a1a1a" stroke-width="0.2">LUM</text>
<text x="639.50" y="250.50" font-size="11.5" font-style="italic" fill="#1a1a1a" stroke="#1a1a1a" stroke-width="0.2">DCN</text>
<text x="639.50" y="262.50" font-size="11.5" font-style="italic" fill="#1a1a1a" stroke="#1a1a1a" stroke-width="0.2">TBR1</text>
<text x="639.50" y="274.50" font-size="11.5" font-style="italic" fill="#1a1a1a" stroke="#1a1a1a" stroke-width="0.2">EOMES</text>
<text x="639.50" y="286.50" font-size="11.5" font-style="italic" fill="#1a1a1a" stroke="#1a1a1a" stroke-width="0.2">EMX1</text>
<text x="639.50" y="298.50" font-size="11.5" font-style="italic" fill="#1a1a1a" stroke="#1a1a1a" stroke-width="0.2">FOXG1</text>
<text x="576.60" y="309.80" font-size="12.4" text-anchor="end" fill="#1a1a1a" transform="rotate(-45 576.6 309.8)" stroke="#1a1a1a" stroke-width="0.2">50</text>
<text x="595.60" y="309.80" font-size="12.4" text-anchor="end" fill="#1a1a1a" transform="rotate(-45 595.6 309.8)" stroke="#1a1a1a" stroke-width="0.2">100</text>
<text x="614.60" y="309.80" font-size="12.4" text-anchor="end" fill="#1a1a1a" transform="rotate(-45 614.6 309.8)" stroke="#1a1a1a" stroke-width="0.2">150</text>
<text x="633.60" y="309.80" font-size="12.4" text-anchor="end" fill="#1a1a1a" transform="rotate(-45 633.6 309.8)" stroke="#1a1a1a" stroke-width="0.2">200</text>
<text x="596.50" y="336.60" font-size="12" text-anchor="middle" fill="#1a1a1a" stroke="#1a1a1a" stroke-width="0.2">Time point (days)</text>
<text x="536.80" y="182.50" font-size="10.5" fill="#1a1a1a" stroke="#1a1a1a" stroke-width="0.2">log</text>
<text x="551.40" y="185.50" font-size="7.5" fill="#1a1a1a" stroke="#1a1a1a" stroke-width="0.2">2</text>
<text x="555.30" y="184.50" font-size="16" fill="#1a1a1a" stroke="#1a1a1a" stroke-width="0.2">(</text>
<text x="576.80" y="173.30" font-size="10.2" text-anchor="middle" fill="#1a1a1a" stroke="#1a1a1a" stroke-width="0.2">human</text>
<line x1="561.30" y1="177.20" x2="592.30" y2="177.20" stroke="#1a1a1a" stroke-width="0.9"/>
<text x="576.80" y="185.50" font-size="10.2" text-anchor="middle" fill="#1a1a1a" stroke="#1a1a1a" stroke-width="0.2">chimp</text>
<text x="593.80" y="184.50" font-size="16" fill="#1a1a1a" stroke="#1a1a1a" stroke-width="0.2">)</text>
<rect x="608" y="171" width="76" height="8.8" fill="url(#hmgrad)"/>
<line x1="610.00" y1="177.00" x2="610.00" y2="179.80" stroke="#fff" stroke-width="0.9"/>
<line x1="628.00" y1="177.00" x2="628.00" y2="179.80" stroke="#fff" stroke-width="0.9"/>
<line x1="664.00" y1="177.00" x2="664.00" y2="179.80" stroke="#fff" stroke-width="0.9"/>
<line x1="682.00" y1="177.00" x2="682.00" y2="179.80" stroke="#fff" stroke-width="0.9"/>
<text x="610.00" y="190.70" font-size="9.5" text-anchor="middle" fill="#1a1a1a" stroke="#1a1a1a" stroke-width="0.2">−10</text>
<text x="628.00" y="190.70" font-size="9.5" text-anchor="middle" fill="#1a1a1a" stroke="#1a1a1a" stroke-width="0.2">−5</text>
<text x="646.00" y="190.70" font-size="9.5" text-anchor="middle" fill="#1a1a1a" stroke="#1a1a1a" stroke-width="0.2">0</text>
<text x="664.00" y="190.70" font-size="9.5" text-anchor="middle" fill="#1a1a1a" stroke="#1a1a1a" stroke-width="0.2">5</text>
<text x="682.00" y="190.70" font-size="9.5" text-anchor="middle" fill="#1a1a1a" stroke="#1a1a1a" stroke-width="0.2">10</text>
<text x="25.60" y="369.90" font-size="16.2" font-weight="bold" fill="#000" stroke="#000" stroke-width="0.7">e</text>
<line x1="90.50" y1="373.90" x2="90.50" y2="430.60" stroke="#1a1a1a" stroke-width="1.1"/>
<line x1="90.00" y1="430.50" x2="286.00" y2="430.50" stroke="#1a1a1a" stroke-width="1.1"/>
<line x1="86.60" y1="427.60" x2="90.50" y2="427.60" stroke="#1a1a1a" stroke-width="1"/>
<text x="84.40" y="431.80" font-size="12" text-anchor="end" fill="#1a1a1a" stroke="#1a1a1a" stroke-width="0.2">0</text>
<line x1="86.60" y1="414.93" x2="90.50" y2="414.93" stroke="#1a1a1a" stroke-width="1"/>
<text x="84.40" y="419.12" font-size="12" text-anchor="end" fill="#1a1a1a" stroke="#1a1a1a" stroke-width="0.2">25</text>
<line x1="86.60" y1="402.25" x2="90.50" y2="402.25" stroke="#1a1a1a" stroke-width="1"/>
<text x="84.40" y="406.45" font-size="12" text-anchor="end" fill="#1a1a1a" stroke="#1a1a1a" stroke-width="0.2">50</text>
<line x1="86.60" y1="389.58" x2="90.50" y2="389.58" stroke="#1a1a1a" stroke-width="1"/>
<text x="84.40" y="393.78" font-size="12" text-anchor="end" fill="#1a1a1a" stroke="#1a1a1a" stroke-width="0.2">75</text>
<line x1="86.60" y1="376.90" x2="90.50" y2="376.90" stroke="#1a1a1a" stroke-width="1"/>
<text x="84.40" y="381.10" font-size="12" text-anchor="end" fill="#1a1a1a" stroke="#1a1a1a" stroke-width="0.2">100</text>
<text x="90.00" y="371.60" font-size="12.3" fill="#1a1a1a" stroke="#1a1a1a" stroke-width="0.2">Cycling progenitors</text>
<rect x="99.90" y="394.65" width="7.00" height="32.95" fill="#3585de" stroke="none" stroke-width="0"/>
<rect x="106.90" y="393.63" width="7.00" height="33.97" fill="#f8766d" stroke="none" stroke-width="0"/>
<rect x="127.20" y="405.80" width="7.00" height="21.80" fill="#3585de" stroke="none" stroke-width="0"/>
<rect x="134.20" y="405.29" width="7.00" height="22.31" fill="#f8766d" stroke="none" stroke-width="0"/>
<rect x="154.50" y="418.98" width="7.00" height="8.62" fill="#3585de" stroke="none" stroke-width="0"/>
<rect x="161.50" y="414.42" width="7.00" height="13.18" fill="#f8766d" stroke="none" stroke-width="0"/>
<rect x="181.80" y="424.56" width="7.00" height="3.04" fill="#3585de" stroke="none" stroke-width="0"/>
<rect x="188.80" y="424.05" width="7.00" height="3.55" fill="#f8766d" stroke="none" stroke-width="0"/>
<rect x="209.10" y="426.08" width="7.00" height="1.52" fill="#3585de" stroke="none" stroke-width="0"/>
<rect x="216.10" y="426.08" width="7.00" height="1.52" fill="#f8766d" stroke="none" stroke-width="0"/>
<rect x="236.40" y="426.59" width="7.00" height="1.01" fill="#3585de" stroke="none" stroke-width="0"/>
<rect x="243.40" y="426.59" width="7.00" height="1.01" fill="#f8766d" stroke="none" stroke-width="0"/>
<rect x="263.70" y="426.59" width="7.00" height="1.01" fill="#3585de" stroke="none" stroke-width="0"/>
<rect x="270.70" y="426.59" width="7.00" height="1.01" fill="#f8766d" stroke="none" stroke-width="0"/>
<polyline points="106.90,393.63 107.52,393.87 108.22,394.15 109.01,394.46 109.87,394.80 110.81,395.17 111.81,395.57 112.86,395.99 113.98,396.43 115.14,396.89 116.34,397.36 117.58,397.85 118.84,398.35 120.13,398.86 121.44,399.37 122.76,399.89 124.09,400.41 125.41,400.93 126.74,401.44 128.04,401.94 129.33,402.44 130.60,402.92 131.84,403.39 133.04,403.84 134.20,404.28 135.34,404.70 136.48,405.12 137.61,405.53 138.75,405.94 139.89,406.35 141.03,406.76 142.16,407.16 143.30,407.56 144.44,407.96 145.58,408.36 146.71,408.76 147.85,409.16 148.99,409.55 150.12,409.95 151.26,410.34 152.40,410.74 153.54,411.13 154.67,411.53 155.81,411.92 156.95,412.32 158.09,412.71 159.22,413.11 160.36,413.51 161.50,413.91 162.64,414.32 163.78,414.74 164.91,415.16 166.05,415.60 167.19,416.04 168.32,416.49 169.46,416.93 170.60,417.38 171.74,417.84 172.88,418.28 174.01,418.73 175.15,419.17 176.29,419.61 177.43,420.03 178.56,420.45 179.70,420.86 180.84,421.25 181.97,421.63 183.11,422.00 184.25,422.35 185.39,422.68 186.53,422.99 187.66,423.28 188.80,423.54 189.94,423.79 191.08,424.01 192.21,424.21 193.35,424.40 194.49,424.57 195.62,424.72 196.76,424.86 197.90,424.99 199.04,425.10 200.18,425.21 201.31,425.30 202.45,425.38 203.59,425.46 204.73,425.53 205.86,425.59 207.00,425.65 208.14,425.70 209.28,425.75 210.41,425.81 211.55,425.86 212.69,425.91 213.83,425.96 214.96,426.02 216.10,426.08 217.24,426.14 218.38,426.19 219.51,426.24 220.65,426.29 221.79,426.33 222.93,426.36 224.06,426.39 225.20,426.42 226.34,426.44 227.48,426.46 228.61,426.48 229.75,426.49 230.89,426.50 232.03,426.51 233.16,426.52 234.30,426.53 235.44,426.54 236.58,426.54 237.71,426.55 238.85,426.55 239.99,426.56 241.13,426.57 242.26,426.58 243.40,426.59 244.56,426.60 245.76,426.60 247.00,426.61 248.27,426.62 249.56,426.62 250.86,426.62 252.19,426.62 253.51,426.62 254.84,426.62 256.16,426.62 257.47,426.62 258.76,426.62 260.02,426.61 261.26,426.61 262.46,426.61 263.62,426.60 264.74,426.60 265.79,426.60 266.79,426.59 267.73,426.59 268.59,426.59 269.38,426.59 270.08,426.59 270.70,426.59" fill="none" stroke="#e0534c" stroke-width="1.4" stroke-dasharray="4,2.5"/>
<polyline points="106.90,394.65 107.52,394.90 108.22,395.18 109.01,395.50 109.87,395.85 110.81,396.22 111.81,396.63 112.86,397.05 113.98,397.50 115.14,397.97 116.34,398.45 117.58,398.95 118.84,399.46 120.13,399.98 121.44,400.51 122.76,401.05 124.09,401.59 125.41,402.14 126.74,402.68 128.04,403.22 129.33,403.75 130.60,404.28 131.84,404.80 133.04,405.31 134.20,405.80 135.34,406.29 136.48,406.80 137.61,407.31 138.75,407.83 139.89,408.36 141.03,408.90 142.16,409.44 143.30,409.99 144.44,410.53 145.58,411.08 146.71,411.63 147.85,412.17 148.99,412.71 150.12,413.24 151.26,413.77 152.40,414.29 153.54,414.80 154.67,415.29 155.81,415.78 156.95,416.25 158.09,416.71 159.22,417.15 160.36,417.57 161.50,417.97 162.64,418.35 163.78,418.73 164.91,419.09 166.05,419.45 167.19,419.79 168.32,420.13 169.46,420.45 170.60,420.76 171.74,421.07 172.88,421.37 174.01,421.65 175.15,421.93 176.29,422.20 177.43,422.45 178.56,422.70 179.70,422.94 180.84,423.17 181.97,423.40 183.11,423.61 184.25,423.82 185.39,424.01 186.53,424.20 187.66,424.39 188.80,424.56 189.94,424.72 191.08,424.87 192.21,425.00 193.35,425.12 194.49,425.22 195.62,425.32 196.76,425.40 197.90,425.48 199.04,425.54 200.18,425.60 201.31,425.65 202.45,425.70 203.59,425.74 204.73,425.77 205.86,425.81 207.00,425.83 208.14,425.86 209.28,425.89 210.41,425.92 211.55,425.94 212.69,425.97 213.83,426.00 214.96,426.04 216.10,426.08 217.24,426.12 218.38,426.16 219.51,426.19 220.65,426.23 221.79,426.26 222.93,426.29 224.06,426.32 225.20,426.34 226.34,426.37 227.48,426.39 228.61,426.41 229.75,426.43 230.89,426.45 232.03,426.46 233.16,426.48 234.30,426.49 235.44,426.51 236.58,426.52 237.71,426.53 238.85,426.54 239.99,426.55 241.13,426.56 242.26,426.58 243.40,426.59 244.56,426.60 245.76,426.60 247.00,426.61 248.27,426.62 249.56,426.62 250.86,426.62 252.19,426.62 253.51,426.62 254.84,426.62 256.16,426.62 257.47,426.62 258.76,426.62 260.02,426.61 261.26,426.61 262.46,426.61 263.62,426.60 264.74,426.60 265.79,426.60 266.79,426.59 267.73,426.59 268.59,426.59 269.38,426.59 270.08,426.59 270.70,426.59" fill="none" stroke="#2c66c0" stroke-width="1.4" stroke-dasharray="4,2.5"/>
<polygon points="106.90,394.65 107.52,394.90 108.22,395.18 109.01,395.50 109.87,395.85 110.81,396.22 111.81,396.63 112.86,397.05 113.98,397.50 115.14,397.97 116.34,398.45 117.58,398.95 118.84,399.46 120.13,399.98 121.44,400.51 122.76,401.05 124.09,401.59 125.41,402.14 126.74,402.68 128.04,403.22 129.33,403.75 130.60,404.28 131.84,404.80 133.04,405.31 134.20,405.80 135.34,406.29 136.48,406.80 137.61,407.31 138.75,407.83 139.89,408.36 141.03,408.90 142.16,409.44 143.30,409.99 144.44,410.53 145.58,411.08 146.71,411.63 147.85,412.17 148.99,412.71 150.12,413.24 151.26,413.77 152.40,414.29 153.54,414.80 154.67,415.29 155.81,415.78 156.95,416.25 158.09,416.71 159.22,417.15 160.36,417.57 161.50,417.97 162.64,418.35 163.78,418.73 164.91,419.09 166.05,419.45 167.19,419.79 168.32,420.13 169.46,420.45 170.60,420.76 171.74,421.07 172.88,421.37 174.01,421.65 175.15,421.93 176.29,422.20 177.43,422.45 178.56,422.70 179.70,422.94 180.84,423.17 181.97,423.40 183.11,423.61 184.25,423.82 185.39,424.01 186.53,424.20 187.66,424.39 188.80,424.56 189.94,424.72 191.08,424.87 192.21,425.00 193.35,425.12 194.49,425.22 195.62,425.32 196.76,425.40 197.90,425.48 199.04,425.54 200.18,425.60 201.31,425.65 202.45,425.70 203.59,425.74 204.73,425.77 205.86,425.81 207.00,425.83 208.14,425.86 209.28,425.89 210.41,425.92 211.55,425.94 212.69,425.97 213.83,426.00 214.96,426.04 216.10,426.08 217.24,426.14 218.38,426.19 219.51,426.24 220.65,426.29 221.79,426.33 222.93,426.36 224.06,426.39 225.20,426.42 226.34,426.44 227.48,426.46 228.61,426.48 229.75,426.49 230.89,426.50 232.03,426.51 233.16,426.52 234.30,426.53 235.44,426.54 236.58,426.54 237.71,426.55 238.85,426.55 239.99,426.56 241.13,426.57 242.26,426.58 243.40,426.59 244.56,426.60 245.76,426.60 247.00,426.61 248.27,426.62 249.56,426.62 250.86,426.62 252.19,426.62 253.51,426.62 254.84,426.62 256.16,426.62 257.47,426.62 258.76,426.62 260.02,426.61 261.26,426.61 262.46,426.61 263.62,426.60 264.74,426.60 265.79,426.60 266.79,426.59 267.73,426.59 268.59,426.59 269.38,426.59 270.08,426.59 270.70,426.59 270.70,427.60 106.90,427.60" fill="rgb(135,140,189)" fill-opacity="0.59"/>
<polygon points="106.90,394.65 107.52,394.90 108.22,395.18 109.01,395.50 109.87,395.85 110.81,396.22 111.81,396.63 112.86,397.05 113.98,397.50 115.14,397.97 116.34,398.45 117.58,398.95 118.84,399.46 120.13,399.98 121.44,400.51 122.76,401.05 124.09,401.59 125.41,402.14 126.74,402.68 128.04,403.22 129.33,403.75 130.60,404.28 131.84,404.80 133.04,405.31 134.20,405.80 135.34,406.29 136.48,406.80 137.61,407.31 138.75,407.83 139.89,408.36 141.03,408.90 142.16,409.44 143.30,409.99 144.44,410.53 145.58,411.08 146.71,411.63 147.85,412.17 148.99,412.71 150.12,413.24 151.26,413.77 152.40,414.29 153.54,414.80 154.67,415.29 155.81,415.78 156.95,416.25 158.09,416.71 159.22,417.15 160.36,417.57 161.50,417.97 162.64,418.35 163.78,418.73 164.91,419.09 166.05,419.45 167.19,419.79 168.32,420.13 169.46,420.45 170.60,420.76 171.74,421.07 172.88,421.37 174.01,421.65 175.15,421.93 176.29,422.20 177.43,422.45 178.56,422.70 179.70,422.94 180.84,423.17 181.97,423.40 183.11,423.61 184.25,423.82 185.39,424.01 186.53,424.20 187.66,424.39 188.80,424.56 189.94,424.72 191.08,424.87 192.21,425.00 193.35,425.12 194.49,425.22 195.62,425.32 196.76,425.40 197.90,425.48 199.04,425.54 200.18,425.60 201.31,425.65 202.45,425.70 203.59,425.74 204.73,425.77 205.86,425.81 207.00,425.83 208.14,425.86 209.28,425.89 210.41,425.92 211.55,425.94 212.69,425.97 213.83,426.00 214.96,426.04 216.10,426.08 217.24,426.12 218.38,426.16 219.51,426.19 220.65,426.23 221.79,426.26 222.93,426.29 224.06,426.32 225.20,426.34 226.34,426.37 227.48,426.39 228.61,426.41 229.75,426.43 230.89,426.45 232.03,426.46 233.16,426.48 234.30,426.49 235.44,426.51 236.58,426.52 237.71,426.53 238.85,426.54 239.99,426.55 241.13,426.56 242.26,426.58 243.40,426.59 244.56,426.60 245.76,426.60 247.00,426.61 248.27,426.62 249.56,426.62 250.86,426.62 252.19,426.62 253.51,426.62 254.84,426.62 256.16,426.62 257.47,426.62 258.76,426.62 260.02,426.61 261.26,426.61 262.46,426.61 263.62,426.60 264.74,426.60 265.79,426.60 266.79,426.59 267.73,426.59 268.59,426.59 269.38,426.59 270.08,426.59 270.70,426.59 270.70,426.59 270.08,426.59 269.38,426.59 268.59,426.59 267.73,426.59 266.79,426.59 265.79,426.60 264.74,426.60 263.62,426.60 262.46,426.61 261.26,426.61 260.02,426.61 258.76,426.62 257.47,426.62 256.16,426.62 254.84,426.62 253.51,426.62 252.19,426.62 250.86,426.62 249.56,426.62 248.27,426.62 247.00,426.61 245.76,426.60 244.56,426.60 243.40,426.59 242.26,426.58 241.13,426.57 239.99,426.56 238.85,426.55 237.71,426.55 236.58,426.54 235.44,426.54 234.30,426.53 233.16,426.52 232.03,426.51 230.89,426.50 229.75,426.49 228.61,426.48 227.48,426.46 226.34,426.44 225.20,426.42 224.06,426.39 222.93,426.36 221.79,426.33 220.65,426.29 219.51,426.24 218.38,426.19 217.24,426.14 216.10,426.08 214.96,426.04 213.83,426.00 212.69,425.97 211.55,425.94 210.41,425.92 209.28,425.89 208.14,425.86 207.00,425.83 205.86,425.81 204.73,425.77 203.59,425.74 202.45,425.70 201.31,425.65 200.18,425.60 199.04,425.54 197.90,425.48 196.76,425.40 195.62,425.32 194.49,425.22 193.35,425.12 192.21,425.00 191.08,424.87 189.94,424.72 188.80,424.56 187.66,424.39 186.53,424.20 185.39,424.01 184.25,423.82 183.11,423.61 181.97,423.40 180.84,423.17 179.70,422.94 178.56,422.70 177.43,422.45 176.29,422.20 175.15,421.93 174.01,421.65 172.88,421.37 171.74,421.07 170.60,420.76 169.46,420.45 168.32,420.13 167.19,419.79 166.05,419.45 164.91,419.09 163.78,418.73 162.64,418.35 161.50,417.97 160.36,417.57 159.22,417.15 158.09,416.71 156.95,416.25 155.81,415.78 154.67,415.29 153.54,414.80 152.40,414.29 151.26,413.77 150.12,413.24 148.99,412.71 147.85,412.17 146.71,411.63 145.58,411.08 144.44,410.53 143.30,409.99 142.16,409.44 141.03,408.90 139.89,408.36 138.75,407.83 137.61,407.31 136.48,406.80 135.34,406.29 134.20,405.80 133.04,405.31 131.84,404.80 130.60,404.28 129.33,403.75 128.04,403.22 126.74,402.68 125.41,402.14 124.09,401.59 122.76,401.05 121.44,400.51 120.13,399.98 118.84,399.46 117.58,398.95 116.34,398.45 115.14,397.97 113.98,397.50 112.86,397.05 111.81,396.63 110.81,396.22 109.87,395.85 109.01,395.50 108.22,395.18 107.52,394.90 106.90,394.65" fill="rgb(104,167,232)" fill-opacity="0.49"/>
<polygon points="106.90,393.63 107.52,393.87 108.22,394.15 109.01,394.46 109.87,394.80 110.81,395.17 111.81,395.57 112.86,395.99 113.98,396.43 115.14,396.89 116.34,397.36 117.58,397.85 118.84,398.35 120.13,398.86 121.44,399.37 122.76,399.89 124.09,400.41 125.41,400.93 126.74,401.44 128.04,401.94 129.33,402.44 130.60,402.92 131.84,403.39 133.04,403.84 134.20,404.28 135.34,404.70 136.48,405.12 137.61,405.53 138.75,405.94 139.89,406.35 141.03,406.76 142.16,407.16 143.30,407.56 144.44,407.96 145.58,408.36 146.71,408.76 147.85,409.16 148.99,409.55 150.12,409.95 151.26,410.34 152.40,410.74 153.54,411.13 154.67,411.53 155.81,411.92 156.95,412.32 158.09,412.71 159.22,413.11 160.36,413.51 161.50,413.91 162.64,414.32 163.78,414.74 164.91,415.16 166.05,415.60 167.19,416.04 168.32,416.49 169.46,416.93 170.60,417.38 171.74,417.84 172.88,418.28 174.01,418.73 175.15,419.17 176.29,419.61 177.43,420.03 178.56,420.45 179.70,420.86 180.84,421.25 181.97,421.63 183.11,422.00 184.25,422.35 185.39,422.68 186.53,422.99 187.66,423.28 188.80,423.54 189.94,423.79 191.08,424.01 192.21,424.21 193.35,424.40 194.49,424.57 195.62,424.72 196.76,424.86 197.90,424.99 199.04,425.10 200.18,425.21 201.31,425.30 202.45,425.38 203.59,425.46 204.73,425.53 205.86,425.59 207.00,425.65 208.14,425.70 209.28,425.75 210.41,425.81 211.55,425.86 212.69,425.91 213.83,425.96 214.96,426.02 216.10,426.08 217.24,426.14 218.38,426.19 219.51,426.24 220.65,426.29 221.79,426.33 222.93,426.36 224.06,426.39 225.20,426.42 226.34,426.44 227.48,426.46 228.61,426.48 229.75,426.49 230.89,426.50 232.03,426.51 233.16,426.52 234.30,426.53 235.44,426.54 236.58,426.54 237.71,426.55 238.85,426.55 239.99,426.56 241.13,426.57 242.26,426.58 243.40,426.59 244.56,426.60 245.76,426.60 247.00,426.61 248.27,426.62 249.56,426.62 250.86,426.62 252.19,426.62 253.51,426.62 254.84,426.62 256.16,426.62 257.47,426.62 258.76,426.62 260.02,426.61 261.26,426.61 262.46,426.61 263.62,426.60 264.74,426.60 265.79,426.60 266.79,426.59 267.73,426.59 268.59,426.59 269.38,426.59 270.08,426.59 270.70,426.59 270.70,426.59 270.08,426.59 269.38,426.59 268.59,426.59 267.73,426.59 266.79,426.59 265.79,426.60 264.74,426.60 263.62,426.60 262.46,426.61 261.26,426.61 260.02,426.61 258.76,426.62 257.47,426.62 256.16,426.62 254.84,426.62 253.51,426.62 252.19,426.62 250.86,426.62 249.56,426.62 248.27,426.62 247.00,426.61 245.76,426.60 244.56,426.60 243.40,426.59 242.26,426.58 241.13,426.57 239.99,426.56 238.85,426.55 237.71,426.55 236.58,426.54 235.44,426.54 234.30,426.53 233.16,426.52 232.03,426.51 230.89,426.50 229.75,426.49 228.61,426.48 227.48,426.46 226.34,426.44 225.20,426.42 224.06,426.39 222.93,426.36 221.79,426.33 220.65,426.29 219.51,426.24 218.38,426.19 217.24,426.14 216.10,426.08 214.96,426.04 213.83,426.00 212.69,425.97 211.55,425.94 210.41,425.92 209.28,425.89 208.14,425.86 207.00,425.83 205.86,425.81 204.73,425.77 203.59,425.74 202.45,425.70 201.31,425.65 200.18,425.60 199.04,425.54 197.90,425.48 196.76,425.40 195.62,425.32 194.49,425.22 193.35,425.12 192.21,425.00 191.08,424.87 189.94,424.72 188.80,424.56 187.66,424.39 186.53,424.20 185.39,424.01 184.25,423.82 183.11,423.61 181.97,423.40 180.84,423.17 179.70,422.94 178.56,422.70 177.43,422.45 176.29,422.20 175.15,421.93 174.01,421.65 172.88,421.37 171.74,421.07 170.60,420.76 169.46,420.45 168.32,420.13 167.19,419.79 166.05,419.45 164.91,419.09 163.78,418.73 162.64,418.35 161.50,417.97 160.36,417.57 159.22,417.15 158.09,416.71 156.95,416.25 155.81,415.78 154.67,415.29 153.54,414.80 152.40,414.29 151.26,413.77 150.12,413.24 148.99,412.71 147.85,412.17 146.71,411.63 145.58,411.08 144.44,410.53 143.30,409.99 142.16,409.44 141.03,408.90 139.89,408.36 138.75,407.83 137.61,407.31 136.48,406.80 135.34,406.29 134.20,405.80 133.04,405.31 131.84,404.80 130.60,404.28 129.33,403.75 128.04,403.22 126.74,402.68 125.41,402.14 124.09,401.59 122.76,401.05 121.44,400.51 120.13,399.98 118.84,399.46 117.58,398.95 116.34,398.45 115.14,397.97 113.98,397.50 112.86,397.05 111.81,396.63 110.81,396.22 109.87,395.85 109.01,395.50 108.22,395.18 107.52,394.90 106.90,394.65" fill="rgb(247,140,130)" fill-opacity="0.5"/>
<rect x="99.90" y="394.65" width="7.00" height="32.95" fill="none" stroke="#222" stroke-width="0.8"/>
<rect x="106.90" y="393.63" width="7.00" height="33.97" fill="none" stroke="#222" stroke-width="0.8"/>
<rect x="127.20" y="405.80" width="7.00" height="21.80" fill="none" stroke="#222" stroke-width="0.8"/>
<rect x="134.20" y="405.29" width="7.00" height="22.31" fill="none" stroke="#222" stroke-width="0.8"/>
<rect x="154.50" y="418.98" width="7.00" height="8.62" fill="none" stroke="#222" stroke-width="0.8"/>
<rect x="161.50" y="414.42" width="7.00" height="13.18" fill="none" stroke="#222" stroke-width="0.8"/>
<rect x="181.80" y="424.56" width="7.00" height="3.04" fill="none" stroke="#222" stroke-width="0.8"/>
<rect x="188.80" y="424.05" width="7.00" height="3.55" fill="none" stroke="#222" stroke-width="0.8"/>
<rect x="209.10" y="426.08" width="7.00" height="1.52" fill="none" stroke="#222" stroke-width="0.8"/>
<rect x="216.10" y="426.08" width="7.00" height="1.52" fill="none" stroke="#222" stroke-width="0.8"/>
<rect x="236.40" y="426.59" width="7.00" height="1.01" fill="none" stroke="#222" stroke-width="0.8"/>
<rect x="243.40" y="426.59" width="7.00" height="1.01" fill="none" stroke="#222" stroke-width="0.8"/>
<rect x="263.70" y="426.59" width="7.00" height="1.01" fill="none" stroke="#222" stroke-width="0.8"/>
<rect x="270.70" y="426.59" width="7.00" height="1.01" fill="none" stroke="#222" stroke-width="0.8"/>
<line x1="103.40" y1="391.68" x2="103.40" y2="397.61" stroke="#1a1a1a" stroke-width="1.1"/>
<line x1="101.80" y1="391.68" x2="105.00" y2="391.68" stroke="#1a1a1a" stroke-width="1"/>
<line x1="101.80" y1="397.61" x2="105.00" y2="397.61" stroke="#1a1a1a" stroke-width="1"/>
<circle cx="102.84" cy="398.13" r="1.05" fill="#111"/>
<circle cx="102.72" cy="391.66" r="1.05" fill="#111"/>
<circle cx="103.19" cy="393.94" r="1.05" fill="#111"/>
<circle cx="103.41" cy="403.38" r="1.05" fill="#111"/>
<circle cx="103.29" cy="403.79" r="1.05" fill="#111"/>
<line x1="110.40" y1="390.57" x2="110.40" y2="396.69" stroke="#1a1a1a" stroke-width="1.1"/>
<line x1="108.80" y1="390.57" x2="112.00" y2="390.57" stroke="#1a1a1a" stroke-width="1"/>
<line x1="108.80" y1="396.69" x2="112.00" y2="396.69" stroke="#1a1a1a" stroke-width="1"/>
<circle cx="109.75" cy="402.40" r="1.05" fill="#111"/>
<circle cx="110.92" cy="395.17" r="1.05" fill="#111"/>
<circle cx="109.96" cy="401.30" r="1.05" fill="#111"/>
<circle cx="111.12" cy="391.03" r="1.05" fill="#111"/>
<circle cx="110.23" cy="392.06" r="1.05" fill="#111"/>
<line x1="130.70" y1="403.84" x2="130.70" y2="407.76" stroke="#1a1a1a" stroke-width="1.1"/>
<line x1="129.10" y1="403.84" x2="132.30" y2="403.84" stroke="#1a1a1a" stroke-width="1"/>
<line x1="129.10" y1="407.76" x2="132.30" y2="407.76" stroke="#1a1a1a" stroke-width="1"/>
<circle cx="129.97" cy="399.57" r="1.05" fill="#111"/>
<circle cx="130.36" cy="401.11" r="1.05" fill="#111"/>
<circle cx="130.09" cy="410.45" r="1.05" fill="#111"/>
<circle cx="131.21" cy="408.30" r="1.05" fill="#111"/>
<circle cx="130.83" cy="409.98" r="1.05" fill="#111"/>
<line x1="137.70" y1="403.28" x2="137.70" y2="407.30" stroke="#1a1a1a" stroke-width="1.1"/>
<line x1="136.10" y1="403.28" x2="139.30" y2="403.28" stroke="#1a1a1a" stroke-width="1"/>
<line x1="136.10" y1="407.30" x2="139.30" y2="407.30" stroke="#1a1a1a" stroke-width="1"/>
<circle cx="137.50" cy="403.43" r="1.05" fill="#111"/>
<circle cx="137.00" cy="404.65" r="1.05" fill="#111"/>
<circle cx="137.23" cy="411.19" r="1.05" fill="#111"/>
<circle cx="137.58" cy="402.88" r="1.05" fill="#111"/>
<circle cx="137.84" cy="407.78" r="1.05" fill="#111"/>
<line x1="158.00" y1="418.21" x2="158.00" y2="419.76" stroke="#1a1a1a" stroke-width="1.1"/>
<line x1="156.40" y1="418.21" x2="159.60" y2="418.21" stroke="#1a1a1a" stroke-width="1"/>
<line x1="156.40" y1="419.76" x2="159.60" y2="419.76" stroke="#1a1a1a" stroke-width="1"/>
<circle cx="157.68" cy="419.27" r="1.05" fill="#111"/>
<circle cx="158.32" cy="417.19" r="1.05" fill="#111"/>
<circle cx="158.12" cy="420.54" r="1.05" fill="#111"/>
<circle cx="158.60" cy="418.83" r="1.05" fill="#111"/>
<circle cx="157.66" cy="417.59" r="1.05" fill="#111"/>
<line x1="165.00" y1="413.23" x2="165.00" y2="415.60" stroke="#1a1a1a" stroke-width="1.1"/>
<line x1="163.40" y1="413.23" x2="166.60" y2="413.23" stroke="#1a1a1a" stroke-width="1"/>
<line x1="163.40" y1="415.60" x2="166.60" y2="415.60" stroke="#1a1a1a" stroke-width="1"/>
<circle cx="164.39" cy="410.62" r="1.05" fill="#111"/>
<circle cx="165.41" cy="415.07" r="1.05" fill="#111"/>
<circle cx="164.98" cy="417.17" r="1.05" fill="#111"/>
<circle cx="165.27" cy="418.06" r="1.05" fill="#111"/>
<circle cx="165.12" cy="412.33" r="1.05" fill="#111"/>
<line x1="185.30" y1="423.80" x2="185.30" y2="425.32" stroke="#1a1a1a" stroke-width="1.1"/>
<line x1="183.70" y1="423.80" x2="186.90" y2="423.80" stroke="#1a1a1a" stroke-width="1"/>
<line x1="183.70" y1="425.32" x2="186.90" y2="425.32" stroke="#1a1a1a" stroke-width="1"/>
<circle cx="185.00" cy="422.27" r="1.05" fill="#111"/>
<circle cx="185.45" cy="423.37" r="1.05" fill="#111"/>
<circle cx="185.23" cy="424.07" r="1.05" fill="#111"/>
<circle cx="186.01" cy="422.49" r="1.05" fill="#111"/>
<circle cx="185.56" cy="424.72" r="1.05" fill="#111"/>
<line x1="192.30" y1="423.29" x2="192.30" y2="424.81" stroke="#1a1a1a" stroke-width="1.1"/>
<line x1="190.70" y1="423.29" x2="193.90" y2="423.29" stroke="#1a1a1a" stroke-width="1"/>
<line x1="190.70" y1="424.81" x2="193.90" y2="424.81" stroke="#1a1a1a" stroke-width="1"/>
<circle cx="192.62" cy="426.72" r="1.05" fill="#111"/>
<circle cx="193.09" cy="423.16" r="1.05" fill="#111"/>
<circle cx="191.96" cy="422.09" r="1.05" fill="#111"/>
<circle cx="192.57" cy="424.75" r="1.05" fill="#111"/>
<circle cx="192.24" cy="426.96" r="1.05" fill="#111"/>
<line x1="212.60" y1="425.47" x2="212.60" y2="426.69" stroke="#1a1a1a" stroke-width="1.1"/>
<line x1="211.00" y1="425.47" x2="214.20" y2="425.47" stroke="#1a1a1a" stroke-width="1"/>
<line x1="211.00" y1="426.69" x2="214.20" y2="426.69" stroke="#1a1a1a" stroke-width="1"/>
<circle cx="211.99" cy="426.92" r="1.05" fill="#111"/>
<circle cx="213.03" cy="427.20" r="1.05" fill="#111"/>
<circle cx="212.20" cy="427.02" r="1.05" fill="#111"/>
<circle cx="213.19" cy="426.36" r="1.05" fill="#111"/>
<circle cx="212.52" cy="427.14" r="1.05" fill="#111"/>
<line x1="219.60" y1="425.47" x2="219.60" y2="426.69" stroke="#1a1a1a" stroke-width="1.1"/>
<line x1="218.00" y1="425.47" x2="221.20" y2="425.47" stroke="#1a1a1a" stroke-width="1"/>
<line x1="218.00" y1="426.69" x2="221.20" y2="426.69" stroke="#1a1a1a" stroke-width="1"/>
<circle cx="220.21" cy="425.95" r="1.05" fill="#111"/>
<circle cx="220.18" cy="425.27" r="1.05" fill="#111"/>
<circle cx="219.46" cy="426.64" r="1.05" fill="#111"/>
<circle cx="220.21" cy="426.44" r="1.05" fill="#111"/>
<circle cx="219.04" cy="424.92" r="1.05" fill="#111"/>
<line x1="239.90" y1="425.98" x2="239.90" y2="427.19" stroke="#1a1a1a" stroke-width="1.1"/>
<line x1="238.30" y1="425.98" x2="241.50" y2="425.98" stroke="#1a1a1a" stroke-width="1"/>
<line x1="238.30" y1="427.19" x2="241.50" y2="427.19" stroke="#1a1a1a" stroke-width="1"/>
<circle cx="239.47" cy="427.35" r="1.05" fill="#111"/>
<circle cx="239.88" cy="427.26" r="1.05" fill="#111"/>
<circle cx="239.52" cy="426.36" r="1.05" fill="#111"/>
<circle cx="239.77" cy="427.35" r="1.05" fill="#111"/>
<circle cx="240.01" cy="426.92" r="1.05" fill="#111"/>
<line x1="246.90" y1="425.98" x2="246.90" y2="427.19" stroke="#1a1a1a" stroke-width="1.1"/>
<line x1="245.30" y1="425.98" x2="248.50" y2="425.98" stroke="#1a1a1a" stroke-width="1"/>
<line x1="245.30" y1="427.19" x2="248.50" y2="427.19" stroke="#1a1a1a" stroke-width="1"/>
<circle cx="247.20" cy="425.44" r="1.05" fill="#111"/>
<circle cx="247.09" cy="426.55" r="1.05" fill="#111"/>
<circle cx="246.19" cy="426.14" r="1.05" fill="#111"/>
<circle cx="247.35" cy="425.57" r="1.05" fill="#111"/>
<circle cx="247.38" cy="425.64" r="1.05" fill="#111"/>
<line x1="267.20" y1="425.98" x2="267.20" y2="427.19" stroke="#1a1a1a" stroke-width="1.1"/>
<line x1="265.60" y1="425.98" x2="268.80" y2="425.98" stroke="#1a1a1a" stroke-width="1"/>
<line x1="265.60" y1="427.19" x2="268.80" y2="427.19" stroke="#1a1a1a" stroke-width="1"/>
<circle cx="267.04" cy="426.86" r="1.05" fill="#111"/>
<circle cx="267.41" cy="427.35" r="1.05" fill="#111"/>
<circle cx="266.51" cy="427.35" r="1.05" fill="#111"/>
<circle cx="266.66" cy="427.32" r="1.05" fill="#111"/>
<circle cx="266.48" cy="426.99" r="1.05" fill="#111"/>
<line x1="274.20" y1="425.98" x2="274.20" y2="427.19" stroke="#1a1a1a" stroke-width="1.1"/>
<line x1="272.60" y1="425.98" x2="275.80" y2="425.98" stroke="#1a1a1a" stroke-width="1"/>
<line x1="272.60" y1="427.19" x2="275.80" y2="427.19" stroke="#1a1a1a" stroke-width="1"/>
<circle cx="273.64" cy="427.35" r="1.05" fill="#111"/>
<circle cx="273.98" cy="427.35" r="1.05" fill="#111"/>
<circle cx="274.80" cy="427.35" r="1.05" fill="#111"/>
<circle cx="273.64" cy="426.30" r="1.05" fill="#111"/>
<circle cx="273.96" cy="427.21" r="1.05" fill="#111"/>
<line x1="90.50" y1="452.20" x2="90.50" y2="508.90" stroke="#1a1a1a" stroke-width="1.1"/>
<line x1="90.00" y1="508.50" x2="286.00" y2="508.50" stroke="#1a1a1a" stroke-width="1.1"/>
<line x1="86.60" y1="505.90" x2="90.50" y2="505.90" stroke="#1a1a1a" stroke-width="1"/>
<text x="84.40" y="510.10" font-size="12" text-anchor="end" fill="#1a1a1a" stroke="#1a1a1a" stroke-width="0.2">0</text>
<line x1="86.60" y1="493.22" x2="90.50" y2="493.22" stroke="#1a1a1a" stroke-width="1"/>
<text x="84.40" y="497.42" font-size="12" text-anchor="end" fill="#1a1a1a" stroke="#1a1a1a" stroke-width="0.2">25</text>
<line x1="86.60" y1="480.55" x2="90.50" y2="480.55" stroke="#1a1a1a" stroke-width="1"/>
<text x="84.40" y="484.75" font-size="12" text-anchor="end" fill="#1a1a1a" stroke="#1a1a1a" stroke-width="0.2">50</text>
<line x1="86.60" y1="467.88" x2="90.50" y2="467.88" stroke="#1a1a1a" stroke-width="1"/>
<text x="84.40" y="472.07" font-size="12" text-anchor="end" fill="#1a1a1a" stroke="#1a1a1a" stroke-width="0.2">75</text>
<line x1="86.60" y1="455.20" x2="90.50" y2="455.20" stroke="#1a1a1a" stroke-width="1"/>
<text x="84.40" y="459.40" font-size="12" text-anchor="end" fill="#1a1a1a" stroke="#1a1a1a" stroke-width="0.2">100</text>
<text x="90.00" y="449.90" font-size="12.3" fill="#1a1a1a" stroke="#1a1a1a" stroke-width="0.2">Neurons</text>
<rect x="99.90" y="497.28" width="7.00" height="8.62" fill="#3585de" stroke="none" stroke-width="0"/>
<rect x="106.90" y="498.29" width="7.00" height="7.61" fill="#f8766d" stroke="none" stroke-width="0"/>
<rect x="127.20" y="484.10" width="7.00" height="21.80" fill="#3585de" stroke="none" stroke-width="0"/>
<rect x="134.20" y="482.07" width="7.00" height="23.83" fill="#f8766d" stroke="none" stroke-width="0"/>
<rect x="154.50" y="469.40" width="7.00" height="36.50" fill="#3585de" stroke="none" stroke-width="0"/>
<rect x="161.50" y="471.42" width="7.00" height="34.48" fill="#f8766d" stroke="none" stroke-width="0"/>
<rect x="181.80" y="469.40" width="7.00" height="36.50" fill="#3585de" stroke="none" stroke-width="0"/>
<rect x="188.80" y="468.38" width="7.00" height="37.52" fill="#f8766d" stroke="none" stroke-width="0"/>
<rect x="209.10" y="472.94" width="7.00" height="32.95" fill="#3585de" stroke="none" stroke-width="0"/>
<rect x="216.10" y="473.96" width="7.00" height="31.94" fill="#f8766d" stroke="none" stroke-width="0"/>
<rect x="236.40" y="492.21" width="7.00" height="13.69" fill="#3585de" stroke="none" stroke-width="0"/>
<rect x="243.40" y="472.94" width="7.00" height="32.95" fill="#f8766d" stroke="none" stroke-width="0"/>
<rect x="263.70" y="495.25" width="7.00" height="10.65" fill="#3585de" stroke="none" stroke-width="0"/>
<rect x="270.70" y="481.56" width="7.00" height="24.34" fill="#f8766d" stroke="none" stroke-width="0"/>
<polyline points="106.90,498.29 107.52,497.92 108.22,497.49 109.01,497.01 109.87,496.47 110.81,495.88 111.81,495.25 112.86,494.58 113.98,493.88 115.14,493.15 116.34,492.40 117.58,491.63 118.84,490.85 120.13,490.06 121.44,489.26 122.76,488.46 124.09,487.67 125.41,486.88 126.74,486.12 128.04,485.37 129.33,484.64 130.60,483.94 131.84,483.28 133.04,482.65 134.20,482.07 135.34,481.51 136.48,480.96 137.61,480.41 138.75,479.87 139.89,479.34 141.03,478.82 142.16,478.30 143.30,477.79 144.44,477.29 145.58,476.80 146.71,476.33 147.85,475.86 148.99,475.41 150.12,474.97 151.26,474.54 152.40,474.13 153.54,473.73 154.67,473.35 155.81,472.98 156.95,472.64 158.09,472.30 159.22,471.99 160.36,471.70 161.50,471.42 162.64,471.17 163.78,470.94 164.91,470.72 166.05,470.52 167.19,470.34 168.32,470.18 169.46,470.03 170.60,469.90 171.74,469.79 172.88,469.69 174.01,469.60 175.15,469.52 176.29,469.46 177.43,469.41 178.56,469.37 179.70,469.34 180.84,469.32 181.97,469.31 183.11,469.31 184.25,469.31 185.39,469.32 186.53,469.34 187.66,469.37 188.80,469.40 189.94,469.44 191.08,469.50 192.21,469.58 193.35,469.68 194.49,469.80 195.62,469.93 196.76,470.07 197.90,470.22 199.04,470.39 200.18,470.56 201.31,470.73 202.45,470.92 203.59,471.10 204.73,471.29 205.86,471.48 207.00,471.67 208.14,471.85 209.28,472.03 210.41,472.21 211.55,472.38 212.69,472.54 213.83,472.68 214.96,472.82 216.10,472.94 217.24,473.05 218.38,473.15 219.51,473.24 220.65,473.32 221.79,473.39 222.93,473.45 224.06,473.51 225.20,473.56 226.34,473.62 227.48,473.67 228.61,473.72 229.75,473.77 230.89,473.82 232.03,473.88 233.16,473.95 234.30,474.02 235.44,474.09 236.58,474.18 237.71,474.28 238.85,474.39 239.99,474.51 241.13,474.65 242.26,474.80 243.40,474.97 244.56,475.17 245.76,475.38 247.00,475.62 248.27,475.88 249.56,476.16 250.86,476.45 252.19,476.76 253.51,477.08 254.84,477.40 256.16,477.73 257.47,478.06 258.76,478.40 260.02,478.73 261.26,479.05 262.46,479.37 263.62,479.69 264.74,479.99 265.79,480.27 266.79,480.54 267.73,480.79 268.59,481.02 269.38,481.23 270.08,481.41 270.70,481.56" fill="none" stroke="#e0534c" stroke-width="1.4" stroke-dasharray="4,2.5"/>
<polyline points="106.90,497.28 107.52,496.96 108.22,496.59 109.01,496.18 109.87,495.72 110.81,495.22 111.81,494.69 112.86,494.13 113.98,493.54 115.14,492.93 116.34,492.30 117.58,491.64 118.84,490.98 120.13,490.30 121.44,489.61 122.76,488.92 124.09,488.23 125.41,487.54 126.74,486.86 128.04,486.19 129.33,485.53 130.60,484.88 131.84,484.26 133.04,483.66 134.20,483.08 135.34,482.52 136.48,481.94 137.61,481.35 138.75,480.76 139.89,480.15 141.03,479.55 142.16,478.94 143.30,478.33 144.44,477.73 145.58,477.13 146.71,476.54 147.85,475.96 148.99,475.38 150.12,474.82 151.26,474.28 152.40,473.75 153.54,473.24 154.67,472.76 155.81,472.30 156.95,471.86 158.09,471.45 159.22,471.07 160.36,470.72 161.50,470.41 162.64,470.13 163.78,469.87 164.91,469.63 166.05,469.42 167.19,469.23 168.32,469.06 169.46,468.91 170.60,468.78 171.74,468.67 172.88,468.57 174.01,468.50 175.15,468.45 176.29,468.41 177.43,468.38 178.56,468.38 179.70,468.38 180.84,468.40 181.97,468.44 183.11,468.48 184.25,468.54 185.39,468.61 186.53,468.70 187.66,468.79 188.80,468.89 189.94,469.00 191.08,469.13 192.21,469.28 193.35,469.44 194.49,469.61 195.62,469.80 196.76,470.00 197.90,470.22 199.04,470.45 200.18,470.70 201.31,470.96 202.45,471.23 203.59,471.52 204.73,471.82 205.86,472.13 207.00,472.46 208.14,472.79 209.28,473.14 210.41,473.50 211.55,473.88 212.69,474.26 213.83,474.66 214.96,475.06 216.10,475.48 217.24,475.92 218.38,476.40 219.51,476.90 220.65,477.44 221.79,478.00 222.93,478.58 224.06,479.18 225.20,479.80 226.34,480.43 227.48,481.07 228.61,481.71 229.75,482.36 230.89,483.00 232.03,483.64 233.16,484.28 234.30,484.91 235.44,485.52 236.58,486.12 237.71,486.69 238.85,487.25 239.99,487.77 241.13,488.27 242.26,488.74 243.40,489.17 244.56,489.57 245.76,489.96 247.00,490.34 248.27,490.69 249.56,491.04 250.86,491.37 252.19,491.68 253.51,491.99 254.84,492.27 256.16,492.55 257.47,492.81 258.76,493.07 260.02,493.31 261.26,493.53 262.46,493.75 263.62,493.96 264.74,494.15 265.79,494.34 266.79,494.51 267.73,494.68 268.59,494.84 269.38,494.98 270.08,495.12 270.70,495.25" fill="none" stroke="#2c66c0" stroke-width="1.4" stroke-dasharray="4,2.5"/>
<polygon points="106.90,498.29 107.52,497.92 108.22,497.49 109.01,497.01 109.87,496.47 110.81,495.88 111.81,495.25 112.86,494.58 113.98,493.88 115.14,493.15 116.34,492.40 117.58,491.64 118.84,490.98 120.13,490.30 121.44,489.61 122.76,488.92 124.09,488.23 125.41,487.54 126.74,486.86 128.04,486.19 129.33,485.53 130.60,484.88 131.84,484.26 133.04,483.66 134.20,483.08 135.34,482.52 136.48,481.94 137.61,481.35 138.75,480.76 139.89,480.15 141.03,479.55 142.16,478.94 143.30,478.33 144.44,477.73 145.58,477.13 146.71,476.54 147.85,475.96 148.99,475.41 150.12,474.97 151.26,474.54 152.40,474.13 153.54,473.73 154.67,473.35 155.81,472.98 156.95,472.64 158.09,472.30 159.22,471.99 160.36,471.70 161.50,471.42 162.64,471.17 163.78,470.94 164.91,470.72 166.05,470.52 167.19,470.34 168.32,470.18 169.46,470.03 170.60,469.90 171.74,469.79 172.88,469.69 174.01,469.60 175.15,469.52 176.29,469.46 177.43,469.41 178.56,469.37 179.70,469.34 180.84,469.32 181.97,469.31 183.11,469.31 184.25,469.31 185.39,469.32 186.53,469.34 187.66,469.37 188.80,469.40 189.94,469.44 191.08,469.50 192.21,469.58 193.35,469.68 194.49,469.80 195.62,469.93 196.76,470.07 197.90,470.22 199.04,470.45 200.18,470.70 201.31,470.96 202.45,471.23 203.59,471.52 204.73,471.82 205.86,472.13 207.00,472.46 208.14,472.79 209.28,473.14 210.41,473.50 211.55,473.88 212.69,474.26 213.83,474.66 214.96,475.06 216.10,475.48 217.24,475.92 218.38,476.40 219.51,476.90 220.65,477.44 221.79,478.00 222.93,478.58 224.06,479.18 225.20,479.80 226.34,480.43 227.48,481.07 228.61,481.71 229.75,482.36 230.89,483.00 232.03,483.64 233.16,484.28 234.30,484.91 235.44,485.52 236.58,486.12 237.71,486.69 238.85,487.25 239.99,487.77 241.13,488.27 242.26,488.74 243.40,489.17 244.56,489.57 245.76,489.96 247.00,490.34 248.27,490.69 249.56,491.04 250.86,491.37 252.19,491.68 253.51,491.99 254.84,492.27 256.16,492.55 257.47,492.81 258.76,493.07 260.02,493.31 261.26,493.53 262.46,493.75 263.62,493.96 264.74,494.15 265.79,494.34 266.79,494.51 267.73,494.68 268.59,494.84 269.38,494.98 270.08,495.12 270.70,495.25 270.70,505.90 106.90,505.90" fill="rgb(135,140,189)" fill-opacity="0.59"/>
<polygon points="106.90,497.28 107.52,496.96 108.22,496.59 109.01,496.18 109.87,495.72 110.81,495.22 111.81,494.69 112.86,494.13 113.98,493.54 115.14,492.93 116.34,492.30 117.58,491.64 118.84,490.98 120.13,490.30 121.44,489.61 122.76,488.92 124.09,488.23 125.41,487.54 126.74,486.86 128.04,486.19 129.33,485.53 130.60,484.88 131.84,484.26 133.04,483.66 134.20,483.08 135.34,482.52 136.48,481.94 137.61,481.35 138.75,480.76 139.89,480.15 141.03,479.55 142.16,478.94 143.30,478.33 144.44,477.73 145.58,477.13 146.71,476.54 147.85,475.96 148.99,475.38 150.12,474.82 151.26,474.28 152.40,473.75 153.54,473.24 154.67,472.76 155.81,472.30 156.95,471.86 158.09,471.45 159.22,471.07 160.36,470.72 161.50,470.41 162.64,470.13 163.78,469.87 164.91,469.63 166.05,469.42 167.19,469.23 168.32,469.06 169.46,468.91 170.60,468.78 171.74,468.67 172.88,468.57 174.01,468.50 175.15,468.45 176.29,468.41 177.43,468.38 178.56,468.38 179.70,468.38 180.84,468.40 181.97,468.44 183.11,468.48 184.25,468.54 185.39,468.61 186.53,468.70 187.66,468.79 188.80,468.89 189.94,469.00 191.08,469.13 192.21,469.28 193.35,469.44 194.49,469.61 195.62,469.80 196.76,470.00 197.90,470.22 199.04,470.45 200.18,470.70 201.31,470.96 202.45,471.23 203.59,471.52 204.73,471.82 205.86,472.13 207.00,472.46 208.14,472.79 209.28,473.14 210.41,473.50 211.55,473.88 212.69,474.26 213.83,474.66 214.96,475.06 216.10,475.48 217.24,475.92 218.38,476.40 219.51,476.90 220.65,477.44 221.79,478.00 222.93,478.58 224.06,479.18 225.20,479.80 226.34,480.43 227.48,481.07 228.61,481.71 229.75,482.36 230.89,483.00 232.03,483.64 233.16,484.28 234.30,484.91 235.44,485.52 236.58,486.12 237.71,486.69 238.85,487.25 239.99,487.77 241.13,488.27 242.26,488.74 243.40,489.17 244.56,489.57 245.76,489.96 247.00,490.34 248.27,490.69 249.56,491.04 250.86,491.37 252.19,491.68 253.51,491.99 254.84,492.27 256.16,492.55 257.47,492.81 258.76,493.07 260.02,493.31 261.26,493.53 262.46,493.75 263.62,493.96 264.74,494.15 265.79,494.34 266.79,494.51 267.73,494.68 268.59,494.84 269.38,494.98 270.08,495.12 270.70,495.25 270.70,495.25 270.08,495.12 269.38,494.98 268.59,494.84 267.73,494.68 266.79,494.51 265.79,494.34 264.74,494.15 263.62,493.96 262.46,493.75 261.26,493.53 260.02,493.31 258.76,493.07 257.47,492.81 256.16,492.55 254.84,492.27 253.51,491.99 252.19,491.68 250.86,491.37 249.56,491.04 248.27,490.69 247.00,490.34 245.76,489.96 244.56,489.57 243.40,489.17 242.26,488.74 241.13,488.27 239.99,487.77 238.85,487.25 237.71,486.69 236.58,486.12 235.44,485.52 234.30,484.91 233.16,484.28 232.03,483.64 230.89,483.00 229.75,482.36 228.61,481.71 227.48,481.07 226.34,480.43 225.20,479.80 224.06,479.18 222.93,478.58 221.79,478.00 220.65,477.44 219.51,476.90 218.38,476.40 217.24,475.92 216.10,475.48 214.96,475.06 213.83,474.66 212.69,474.26 211.55,473.88 210.41,473.50 209.28,473.14 208.14,472.79 207.00,472.46 205.86,472.13 204.73,471.82 203.59,471.52 202.45,471.23 201.31,470.96 200.18,470.70 199.04,470.45 197.90,470.22 196.76,470.07 195.62,469.93 194.49,469.80 193.35,469.68 192.21,469.58 191.08,469.50 189.94,469.44 188.80,469.40 187.66,469.37 186.53,469.34 185.39,469.32 184.25,469.31 183.11,469.31 181.97,469.31 180.84,469.32 179.70,469.34 178.56,469.37 177.43,469.41 176.29,469.46 175.15,469.52 174.01,469.60 172.88,469.69 171.74,469.79 170.60,469.90 169.46,470.03 168.32,470.18 167.19,470.34 166.05,470.52 164.91,470.72 163.78,470.94 162.64,471.17 161.50,471.42 160.36,471.70 159.22,471.99 158.09,472.30 156.95,472.64 155.81,472.98 154.67,473.35 153.54,473.73 152.40,474.13 151.26,474.54 150.12,474.97 148.99,475.41 147.85,475.96 146.71,476.54 145.58,477.13 144.44,477.73 143.30,478.33 142.16,478.94 141.03,479.55 139.89,480.15 138.75,480.76 137.61,481.35 136.48,481.94 135.34,482.52 134.20,483.08 133.04,483.66 131.84,484.26 130.60,484.88 129.33,485.53 128.04,486.19 126.74,486.86 125.41,487.54 124.09,488.23 122.76,488.92 121.44,489.61 120.13,490.30 118.84,490.98 117.58,491.64 116.34,492.40 115.14,493.15 113.98,493.88 112.86,494.58 111.81,495.25 110.81,495.88 109.87,496.47 109.01,497.01 108.22,497.49 107.52,497.92 106.90,498.29" fill="rgb(104,167,232)" fill-opacity="0.49"/>
<polygon points="106.90,498.29 107.52,497.92 108.22,497.49 109.01,497.01 109.87,496.47 110.81,495.88 111.81,495.25 112.86,494.58 113.98,493.88 115.14,493.15 116.34,492.40 117.58,491.63 118.84,490.85 120.13,490.06 121.44,489.26 122.76,488.46 124.09,487.67 125.41,486.88 126.74,486.12 128.04,485.37 129.33,484.64 130.60,483.94 131.84,483.28 133.04,482.65 134.20,482.07 135.34,481.51 136.48,480.96 137.61,480.41 138.75,479.87 139.89,479.34 141.03,478.82 142.16,478.30 143.30,477.79 144.44,477.29 145.58,476.80 146.71,476.33 147.85,475.86 148.99,475.41 150.12,474.97 151.26,474.54 152.40,474.13 153.54,473.73 154.67,473.35 155.81,472.98 156.95,472.64 158.09,472.30 159.22,471.99 160.36,471.70 161.50,471.42 162.64,471.17 163.78,470.94 164.91,470.72 166.05,470.52 167.19,470.34 168.32,470.18 169.46,470.03 170.60,469.90 171.74,469.79 172.88,469.69 174.01,469.60 175.15,469.52 176.29,469.46 177.43,469.41 178.56,469.37 179.70,469.34 180.84,469.32 181.97,469.31 183.11,469.31 184.25,469.31 185.39,469.32 186.53,469.34 187.66,469.37 188.80,469.40 189.94,469.44 191.08,469.50 192.21,469.58 193.35,469.68 194.49,469.80 195.62,469.93 196.76,470.07 197.90,470.22 199.04,470.39 200.18,470.56 201.31,470.73 202.45,470.92 203.59,471.10 204.73,471.29 205.86,471.48 207.00,471.67 208.14,471.85 209.28,472.03 210.41,472.21 211.55,472.38 212.69,472.54 213.83,472.68 214.96,472.82 216.10,472.94 217.24,473.05 218.38,473.15 219.51,473.24 220.65,473.32 221.79,473.39 222.93,473.45 224.06,473.51 225.20,473.56 226.34,473.62 227.48,473.67 228.61,473.72 229.75,473.77 230.89,473.82 232.03,473.88 233.16,473.95 234.30,474.02 235.44,474.09 236.58,474.18 237.71,474.28 238.85,474.39 239.99,474.51 241.13,474.65 242.26,474.80 243.40,474.97 244.56,475.17 245.76,475.38 247.00,475.62 248.27,475.88 249.56,476.16 250.86,476.45 252.19,476.76 253.51,477.08 254.84,477.40 256.16,477.73 257.47,478.06 258.76,478.40 260.02,478.73 261.26,479.05 262.46,479.37 263.62,479.69 264.74,479.99 265.79,480.27 266.79,480.54 267.73,480.79 268.59,481.02 269.38,481.23 270.08,481.41 270.70,481.56 270.70,495.25 270.08,495.12 269.38,494.98 268.59,494.84 267.73,494.68 266.79,494.51 265.79,494.34 264.74,494.15 263.62,493.96 262.46,493.75 261.26,493.53 260.02,493.31 258.76,493.07 257.47,492.81 256.16,492.55 254.84,492.27 253.51,491.99 252.19,491.68 250.86,491.37 249.56,491.04 248.27,490.69 247.00,490.34 245.76,489.96 244.56,489.57 243.40,489.17 242.26,488.74 241.13,488.27 239.99,487.77 238.85,487.25 237.71,486.69 236.58,486.12 235.44,485.52 234.30,484.91 233.16,484.28 232.03,483.64 230.89,483.00 229.75,482.36 228.61,481.71 227.48,481.07 226.34,480.43 225.20,479.80 224.06,479.18 222.93,478.58 221.79,478.00 220.65,477.44 219.51,476.90 218.38,476.40 217.24,475.92 216.10,475.48 214.96,475.06 213.83,474.66 212.69,474.26 211.55,473.88 210.41,473.50 209.28,473.14 208.14,472.79 207.00,472.46 205.86,472.13 204.73,471.82 203.59,471.52 202.45,471.23 201.31,470.96 200.18,470.70 199.04,470.45 197.90,470.22 196.76,470.07 195.62,469.93 194.49,469.80 193.35,469.68 192.21,469.58 191.08,469.50 189.94,469.44 188.80,469.40 187.66,469.37 186.53,469.34 185.39,469.32 184.25,469.31 183.11,469.31 181.97,469.31 180.84,469.32 179.70,469.34 178.56,469.37 177.43,469.41 176.29,469.46 175.15,469.52 174.01,469.60 172.88,469.69 171.74,469.79 170.60,469.90 169.46,470.03 168.32,470.18 167.19,470.34 166.05,470.52 164.91,470.72 163.78,470.94 162.64,471.17 161.50,471.42 160.36,471.70 159.22,471.99 158.09,472.30 156.95,472.64 155.81,472.98 154.67,473.35 153.54,473.73 152.40,474.13 151.26,474.54 150.12,474.97 148.99,475.41 147.85,475.96 146.71,476.54 145.58,477.13 144.44,477.73 143.30,478.33 142.16,478.94 141.03,479.55 139.89,480.15 138.75,480.76 137.61,481.35 136.48,481.94 135.34,482.52 134.20,483.08 133.04,483.66 131.84,484.26 130.60,484.88 129.33,485.53 128.04,486.19 126.74,486.86 125.41,487.54 124.09,488.23 122.76,488.92 121.44,489.61 120.13,490.30 118.84,490.98 117.58,491.64 116.34,492.40 115.14,493.15 113.98,493.88 112.86,494.58 111.81,495.25 110.81,495.88 109.87,496.47 109.01,497.01 108.22,497.49 107.52,497.92 106.90,498.29" fill="rgb(247,140,130)" fill-opacity="0.5"/>
<rect x="99.90" y="497.28" width="7.00" height="8.62" fill="none" stroke="#222" stroke-width="0.8"/>
<rect x="106.90" y="498.29" width="7.00" height="7.61" fill="none" stroke="#222" stroke-width="0.8"/>
<rect x="127.20" y="484.10" width="7.00" height="21.80" fill="none" stroke="#222" stroke-width="0.8"/>
<rect x="134.20" y="482.07" width="7.00" height="23.83" fill="none" stroke="#222" stroke-width="0.8"/>
<rect x="154.50" y="469.40" width="7.00" height="36.50" fill="none" stroke="#222" stroke-width="0.8"/>
<rect x="161.50" y="471.42" width="7.00" height="34.48" fill="none" stroke="#222" stroke-width="0.8"/>
<rect x="181.80" y="469.40" width="7.00" height="36.50" fill="none" stroke="#222" stroke-width="0.8"/>
<rect x="188.80" y="468.38" width="7.00" height="37.52" fill="none" stroke="#222" stroke-width="0.8"/>
<rect x="209.10" y="472.94" width="7.00" height="32.95" fill="none" stroke="#222" stroke-width="0.8"/>
<rect x="216.10" y="473.96" width="7.00" height="31.94" fill="none" stroke="#222" stroke-width="0.8"/>
<rect x="236.40" y="492.21" width="7.00" height="13.69" fill="none" stroke="#222" stroke-width="0.8"/>
<rect x="243.40" y="472.94" width="7.00" height="32.95" fill="none" stroke="#222" stroke-width="0.8"/>
<rect x="263.70" y="495.25" width="7.00" height="10.65" fill="none" stroke="#222" stroke-width="0.8"/>
<rect x="270.70" y="481.56" width="7.00" height="24.34" fill="none" stroke="#222" stroke-width="0.8"/>
<line x1="103.40" y1="496.51" x2="103.40" y2="498.06" stroke="#1a1a1a" stroke-width="1.1"/>
<line x1="101.80" y1="496.51" x2="105.00" y2="496.51" stroke="#1a1a1a" stroke-width="1"/>
<line x1="101.80" y1="498.06" x2="105.00" y2="498.06" stroke="#1a1a1a" stroke-width="1"/>
<circle cx="102.80" cy="498.11" r="1.05" fill="#111"/>
<circle cx="104.19" cy="495.16" r="1.05" fill="#111"/>
<circle cx="103.37" cy="497.49" r="1.05" fill="#111"/>
<circle cx="102.76" cy="499.80" r="1.05" fill="#111"/>
<circle cx="103.02" cy="498.24" r="1.05" fill="#111"/>
<line x1="110.40" y1="497.53" x2="110.40" y2="499.06" stroke="#1a1a1a" stroke-width="1.1"/>
<line x1="108.80" y1="497.53" x2="112.00" y2="497.53" stroke="#1a1a1a" stroke-width="1"/>
<line x1="108.80" y1="499.06" x2="112.00" y2="499.06" stroke="#1a1a1a" stroke-width="1"/>
<circle cx="109.86" cy="496.29" r="1.05" fill="#111"/>
<circle cx="111.12" cy="501.20" r="1.05" fill="#111"/>
<circle cx="109.83" cy="498.12" r="1.05" fill="#111"/>
<circle cx="109.64" cy="498.03" r="1.05" fill="#111"/>
<circle cx="111.17" cy="498.12" r="1.05" fill="#111"/>
<line x1="130.70" y1="482.14" x2="130.70" y2="486.06" stroke="#1a1a1a" stroke-width="1.1"/>
<line x1="129.10" y1="482.14" x2="132.30" y2="482.14" stroke="#1a1a1a" stroke-width="1"/>
<line x1="129.10" y1="486.06" x2="132.30" y2="486.06" stroke="#1a1a1a" stroke-width="1"/>
<circle cx="131.01" cy="479.35" r="1.05" fill="#111"/>
<circle cx="130.49" cy="487.22" r="1.05" fill="#111"/>
<circle cx="131.14" cy="488.45" r="1.05" fill="#111"/>
<circle cx="131.15" cy="483.67" r="1.05" fill="#111"/>
<circle cx="130.26" cy="486.33" r="1.05" fill="#111"/>
<line x1="137.70" y1="479.93" x2="137.70" y2="484.22" stroke="#1a1a1a" stroke-width="1.1"/>
<line x1="136.10" y1="479.93" x2="139.30" y2="479.93" stroke="#1a1a1a" stroke-width="1"/>
<line x1="136.10" y1="484.22" x2="139.30" y2="484.22" stroke="#1a1a1a" stroke-width="1"/>
<circle cx="138.48" cy="477.62" r="1.05" fill="#111"/>
<circle cx="138.19" cy="477.03" r="1.05" fill="#111"/>
<circle cx="138.08" cy="477.52" r="1.05" fill="#111"/>
<circle cx="137.73" cy="485.98" r="1.05" fill="#111"/>
<circle cx="136.95" cy="484.14" r="1.05" fill="#111"/>
<line x1="158.00" y1="466.11" x2="158.00" y2="472.68" stroke="#1a1a1a" stroke-width="1.1"/>
<line x1="156.40" y1="466.11" x2="159.60" y2="466.11" stroke="#1a1a1a" stroke-width="1"/>
<line x1="156.40" y1="472.68" x2="159.60" y2="472.68" stroke="#1a1a1a" stroke-width="1"/>
<circle cx="157.65" cy="479.74" r="1.05" fill="#111"/>
<circle cx="158.31" cy="474.67" r="1.05" fill="#111"/>
<circle cx="157.92" cy="459.40" r="1.05" fill="#111"/>
<circle cx="158.78" cy="459.82" r="1.05" fill="#111"/>
<circle cx="157.78" cy="459.43" r="1.05" fill="#111"/>
<line x1="165.00" y1="468.32" x2="165.00" y2="474.53" stroke="#1a1a1a" stroke-width="1.1"/>
<line x1="163.40" y1="468.32" x2="166.60" y2="468.32" stroke="#1a1a1a" stroke-width="1"/>
<line x1="163.40" y1="474.53" x2="166.60" y2="474.53" stroke="#1a1a1a" stroke-width="1"/>
<circle cx="164.56" cy="477.21" r="1.05" fill="#111"/>
<circle cx="164.53" cy="477.70" r="1.05" fill="#111"/>
<circle cx="165.64" cy="468.86" r="1.05" fill="#111"/>
<circle cx="164.97" cy="464.38" r="1.05" fill="#111"/>
<circle cx="165.48" cy="468.26" r="1.05" fill="#111"/>
<line x1="185.30" y1="466.11" x2="185.30" y2="472.68" stroke="#1a1a1a" stroke-width="1.1"/>
<line x1="183.70" y1="466.11" x2="186.90" y2="466.11" stroke="#1a1a1a" stroke-width="1"/>
<line x1="183.70" y1="472.68" x2="186.90" y2="472.68" stroke="#1a1a1a" stroke-width="1"/>
<circle cx="185.56" cy="478.49" r="1.05" fill="#111"/>
<circle cx="185.75" cy="460.42" r="1.05" fill="#111"/>
<circle cx="185.26" cy="463.92" r="1.05" fill="#111"/>
<circle cx="185.76" cy="476.44" r="1.05" fill="#111"/>
<circle cx="185.78" cy="473.06" r="1.05" fill="#111"/>
<line x1="192.30" y1="465.01" x2="192.30" y2="471.76" stroke="#1a1a1a" stroke-width="1.1"/>
<line x1="190.70" y1="465.01" x2="193.90" y2="465.01" stroke="#1a1a1a" stroke-width="1"/>
<line x1="190.70" y1="471.76" x2="193.90" y2="471.76" stroke="#1a1a1a" stroke-width="1"/>
<circle cx="192.13" cy="457.76" r="1.05" fill="#111"/>
<circle cx="193.01" cy="470.60" r="1.05" fill="#111"/>
<circle cx="191.77" cy="463.32" r="1.05" fill="#111"/>
<circle cx="191.74" cy="476.78" r="1.05" fill="#111"/>
<circle cx="192.79" cy="459.27" r="1.05" fill="#111"/>
<line x1="212.60" y1="469.98" x2="212.60" y2="475.91" stroke="#1a1a1a" stroke-width="1.1"/>
<line x1="211.00" y1="469.98" x2="214.20" y2="469.98" stroke="#1a1a1a" stroke-width="1"/>
<line x1="211.00" y1="475.91" x2="214.20" y2="475.91" stroke="#1a1a1a" stroke-width="1"/>
<circle cx="213.12" cy="479.94" r="1.05" fill="#111"/>
<circle cx="212.85" cy="463.45" r="1.05" fill="#111"/>
<circle cx="212.68" cy="475.90" r="1.05" fill="#111"/>
<circle cx="211.82" cy="480.24" r="1.05" fill="#111"/>
<circle cx="212.84" cy="463.63" r="1.05" fill="#111"/>
<line x1="219.60" y1="471.08" x2="219.60" y2="476.83" stroke="#1a1a1a" stroke-width="1.1"/>
<line x1="218.00" y1="471.08" x2="221.20" y2="471.08" stroke="#1a1a1a" stroke-width="1"/>
<line x1="218.00" y1="476.83" x2="221.20" y2="476.83" stroke="#1a1a1a" stroke-width="1"/>
<circle cx="220.29" cy="473.45" r="1.05" fill="#111"/>
<circle cx="220.19" cy="475.23" r="1.05" fill="#111"/>
<circle cx="219.14" cy="467.71" r="1.05" fill="#111"/>
<circle cx="219.27" cy="478.71" r="1.05" fill="#111"/>
<circle cx="219.74" cy="478.93" r="1.05" fill="#111"/>
<line x1="239.90" y1="490.98" x2="239.90" y2="493.44" stroke="#1a1a1a" stroke-width="1.1"/>
<line x1="238.30" y1="490.98" x2="241.50" y2="490.98" stroke="#1a1a1a" stroke-width="1"/>
<line x1="238.30" y1="493.44" x2="241.50" y2="493.44" stroke="#1a1a1a" stroke-width="1"/>
<circle cx="239.77" cy="494.19" r="1.05" fill="#111"/>
<circle cx="240.56" cy="495.24" r="1.05" fill="#111"/>
<circle cx="239.83" cy="493.41" r="1.05" fill="#111"/>
<circle cx="240.55" cy="491.53" r="1.05" fill="#111"/>
<circle cx="240.57" cy="492.86" r="1.05" fill="#111"/>
<line x1="246.90" y1="469.98" x2="246.90" y2="475.91" stroke="#1a1a1a" stroke-width="1.1"/>
<line x1="245.30" y1="469.98" x2="248.50" y2="469.98" stroke="#1a1a1a" stroke-width="1"/>
<line x1="245.30" y1="475.91" x2="248.50" y2="475.91" stroke="#1a1a1a" stroke-width="1"/>
<circle cx="246.95" cy="472.91" r="1.05" fill="#111"/>
<circle cx="246.13" cy="472.48" r="1.05" fill="#111"/>
<circle cx="246.39" cy="474.13" r="1.05" fill="#111"/>
<circle cx="247.38" cy="482.75" r="1.05" fill="#111"/>
<circle cx="246.86" cy="479.42" r="1.05" fill="#111"/>
<line x1="267.20" y1="494.29" x2="267.20" y2="496.21" stroke="#1a1a1a" stroke-width="1.1"/>
<line x1="265.60" y1="494.29" x2="268.80" y2="494.29" stroke="#1a1a1a" stroke-width="1"/>
<line x1="265.60" y1="496.21" x2="268.80" y2="496.21" stroke="#1a1a1a" stroke-width="1"/>
<circle cx="267.29" cy="493.81" r="1.05" fill="#111"/>
<circle cx="267.23" cy="496.36" r="1.05" fill="#111"/>
<circle cx="267.65" cy="494.90" r="1.05" fill="#111"/>
<circle cx="267.30" cy="497.77" r="1.05" fill="#111"/>
<circle cx="266.84" cy="496.86" r="1.05" fill="#111"/>
<line x1="274.20" y1="479.37" x2="274.20" y2="483.75" stroke="#1a1a1a" stroke-width="1.1"/>
<line x1="272.60" y1="479.37" x2="275.80" y2="479.37" stroke="#1a1a1a" stroke-width="1"/>
<line x1="272.60" y1="483.75" x2="275.80" y2="483.75" stroke="#1a1a1a" stroke-width="1"/>
<circle cx="274.21" cy="477.59" r="1.05" fill="#111"/>
<circle cx="274.62" cy="480.66" r="1.05" fill="#111"/>
<circle cx="274.11" cy="475.54" r="1.05" fill="#111"/>
<circle cx="274.21" cy="479.92" r="1.05" fill="#111"/>
<circle cx="274.51" cy="481.39" r="1.05" fill="#111"/>
<line x1="90.50" y1="530.20" x2="90.50" y2="586.90" stroke="#1a1a1a" stroke-width="1.1"/>
<line x1="90.00" y1="586.50" x2="286.00" y2="586.50" stroke="#1a1a1a" stroke-width="1.1"/>
<line x1="86.60" y1="583.90" x2="90.50" y2="583.90" stroke="#1a1a1a" stroke-width="1"/>
<text x="84.40" y="588.10" font-size="12" text-anchor="end" fill="#1a1a1a" stroke="#1a1a1a" stroke-width="0.2">0</text>
<line x1="86.60" y1="571.23" x2="90.50" y2="571.23" stroke="#1a1a1a" stroke-width="1"/>
<text x="84.40" y="575.43" font-size="12" text-anchor="end" fill="#1a1a1a" stroke="#1a1a1a" stroke-width="0.2">25</text>
<line x1="86.60" y1="558.55" x2="90.50" y2="558.55" stroke="#1a1a1a" stroke-width="1"/>
<text x="84.40" y="562.75" font-size="12" text-anchor="end" fill="#1a1a1a" stroke="#1a1a1a" stroke-width="0.2">50</text>
<line x1="86.60" y1="545.88" x2="90.50" y2="545.88" stroke="#1a1a1a" stroke-width="1"/>
<text x="84.40" y="550.08" font-size="12" text-anchor="end" fill="#1a1a1a" stroke="#1a1a1a" stroke-width="0.2">75</text>
<line x1="86.60" y1="533.20" x2="90.50" y2="533.20" stroke="#1a1a1a" stroke-width="1"/>
<text x="84.40" y="537.40" font-size="12" text-anchor="end" fill="#1a1a1a" stroke="#1a1a1a" stroke-width="0.2">100</text>
<text x="90.00" y="527.90" font-size="12.3" fill="#1a1a1a" stroke="#1a1a1a" stroke-width="0.2">Astroglia</text>
<rect x="99.90" y="574.77" width="7.00" height="9.13" fill="#3585de" stroke="none" stroke-width="0"/>
<rect x="106.90" y="575.79" width="7.00" height="8.11" fill="#f8766d" stroke="none" stroke-width="0"/>
<rect x="127.20" y="577.82" width="7.00" height="6.08" fill="#3585de" stroke="none" stroke-width="0"/>
<rect x="134.20" y="579.84" width="7.00" height="4.06" fill="#f8766d" stroke="none" stroke-width="0"/>
<rect x="154.50" y="578.83" width="7.00" height="5.07" fill="#3585de" stroke="none" stroke-width="0"/>
<rect x="161.50" y="579.84" width="7.00" height="4.06" fill="#f8766d" stroke="none" stroke-width="0"/>
<rect x="181.80" y="571.73" width="7.00" height="12.17" fill="#3585de" stroke="none" stroke-width="0"/>
<rect x="188.80" y="573.76" width="7.00" height="10.14" fill="#f8766d" stroke="none" stroke-width="0"/>
<rect x="209.10" y="568.69" width="7.00" height="15.21" fill="#3585de" stroke="none" stroke-width="0"/>
<rect x="216.10" y="567.68" width="7.00" height="16.22" fill="#f8766d" stroke="none" stroke-width="0"/>
<rect x="236.40" y="548.41" width="7.00" height="35.49" fill="#3585de" stroke="none" stroke-width="0"/>
<rect x="243.40" y="566.66" width="7.00" height="17.24" fill="#f8766d" stroke="none" stroke-width="0"/>
<rect x="263.70" y="544.86" width="7.00" height="39.04" fill="#3585de" stroke="none" stroke-width="0"/>
<rect x="270.70" y="558.04" width="7.00" height="25.86" fill="#f8766d" stroke="none" stroke-width="0"/>
<polyline points="106.90,576.29 107.52,576.34 108.22,576.40 109.01,576.46 109.87,576.53 110.81,576.60 111.81,576.68 112.86,576.77 113.98,576.86 115.14,576.95 116.34,577.05 117.58,577.15 118.84,577.25 120.13,577.35 121.44,577.45 122.76,577.55 124.09,577.65 125.41,577.74 126.74,577.84 128.04,577.93 129.33,578.02 130.60,578.10 131.84,578.18 133.04,578.26 134.20,578.32 135.34,578.39 136.48,578.47 137.61,578.55 138.75,578.64 139.89,578.73 141.03,578.83 142.16,578.92 143.30,579.02 144.44,579.11 145.58,579.20 146.71,579.29 147.85,579.37 148.99,579.44 150.12,579.50 151.26,579.56 152.40,579.60 153.54,579.63 154.67,579.64 155.81,579.64 156.95,579.62 158.09,579.58 159.22,579.52 160.36,579.44 161.50,579.34 162.64,579.21 163.78,579.05 164.91,578.87 166.05,578.66 167.19,578.43 168.32,578.19 169.46,577.93 170.60,577.65 171.74,577.36 172.88,577.05 174.01,576.74 175.15,576.42 176.29,576.10 177.43,575.77 178.56,575.44 179.70,575.11 180.84,574.79 181.97,574.47 183.11,574.15 184.25,573.84 185.39,573.55 186.53,573.27 187.66,573.00 188.80,572.75 189.94,572.50 191.08,572.27 192.21,572.03 193.35,571.80 194.49,571.57 195.62,571.35 196.76,571.13 197.90,570.91 199.04,570.69 200.18,570.47 201.31,570.26 202.45,570.05 203.59,569.85 204.73,569.64 205.86,569.44 207.00,569.23 208.14,569.03 209.28,568.84 210.41,568.64 211.55,568.44 212.69,568.25 213.83,568.06 214.96,567.87 216.10,567.68 217.24,567.49 218.38,567.31 219.51,567.13 220.65,566.95 221.79,566.78 222.93,566.61 224.06,566.45 225.20,566.29 226.34,566.13 227.48,565.97 228.61,565.81 229.75,565.65 230.89,565.49 232.03,565.33 233.16,565.17 234.30,565.01 235.44,564.85 236.58,564.68 237.71,564.51 238.85,564.34 239.99,564.17 241.13,563.99 242.26,563.81 243.40,563.62 244.56,563.42 245.76,563.22 247.00,563.00 248.27,562.77 249.56,562.54 250.86,562.30 252.19,562.06 253.51,561.82 254.84,561.57 256.16,561.32 257.47,561.08 258.76,560.83 260.02,560.59 261.26,560.35 262.46,560.12 263.62,559.90 264.74,559.69 265.79,559.48 266.79,559.29 267.73,559.11 268.59,558.95 269.38,558.80 270.08,558.67 270.70,558.55" fill="none" stroke="#e0534c" stroke-width="1.4" stroke-dasharray="4,2.5"/>
<polyline points="106.90,575.28 107.52,575.33 108.22,575.38 109.01,575.44 109.87,575.51 110.81,575.59 111.81,575.67 112.86,575.75 113.98,575.84 115.14,575.94 116.34,576.03 117.58,576.13 118.84,576.23 120.13,576.33 121.44,576.43 122.76,576.53 124.09,576.63 125.41,576.73 126.74,576.83 128.04,576.92 129.33,577.01 130.60,577.09 131.84,577.17 133.04,577.24 134.20,577.31 135.34,577.38 136.48,577.45 137.61,577.53 138.75,577.61 139.89,577.69 141.03,577.78 142.16,577.86 143.30,577.95 144.44,578.03 145.58,578.11 146.71,578.19 147.85,578.26 148.99,578.33 150.12,578.38 151.26,578.43 152.40,578.47 153.54,578.50 154.67,578.52 155.81,578.53 156.95,578.52 158.09,578.49 159.22,578.45 160.36,578.40 161.50,578.32 162.64,578.23 163.78,578.12 164.91,577.99 166.05,577.84 167.19,577.68 168.32,577.51 169.46,577.32 170.60,577.12 171.74,576.91 172.88,576.69 174.01,576.47 175.15,576.23 176.29,575.99 177.43,575.75 178.56,575.50 179.70,575.24 180.84,574.99 181.97,574.73 183.11,574.48 184.25,574.23 185.39,573.98 186.53,573.73 187.66,573.49 188.80,573.25 189.94,573.03 191.08,572.81 192.21,572.60 193.35,572.40 194.49,572.20 195.62,572.01 196.76,571.81 197.90,571.62 199.04,571.42 200.18,571.23 201.31,571.02 202.45,570.81 203.59,570.59 204.73,570.37 205.86,570.13 207.00,569.87 208.14,569.60 209.28,569.32 210.41,569.02 211.55,568.69 212.69,568.35 213.83,567.98 214.96,567.59 216.10,567.17 217.24,566.72 218.38,566.22 219.51,565.70 220.65,565.14 221.79,564.55 222.93,563.93 224.06,563.30 225.20,562.64 226.34,561.97 227.48,561.29 228.61,560.61 229.75,559.91 230.89,559.22 232.03,558.53 233.16,557.84 234.30,557.16 235.44,556.49 236.58,555.84 237.71,555.21 238.85,554.61 239.99,554.02 241.13,553.47 242.26,552.95 243.40,552.47 244.56,552.01 245.76,551.56 247.00,551.12 248.27,550.70 249.56,550.29 250.86,549.89 252.19,549.50 253.51,549.12 254.84,548.76 256.16,548.41 257.47,548.07 258.76,547.74 260.02,547.43 261.26,547.13 262.46,546.84 263.62,546.57 264.74,546.31 265.79,546.06 266.79,545.83 267.73,545.61 268.59,545.40 269.38,545.21 270.08,545.03 270.70,544.86" fill="none" stroke="#2c66c0" stroke-width="1.4" stroke-dasharray="4,2.5"/>
<polygon points="106.90,576.29 107.52,576.34 108.22,576.40 109.01,576.46 109.87,576.53 110.81,576.60 111.81,576.68 112.86,576.77 113.98,576.86 115.14,576.95 116.34,577.05 117.58,577.15 118.84,577.25 120.13,577.35 121.44,577.45 122.76,577.55 124.09,577.65 125.41,577.74 126.74,577.84 128.04,577.93 129.33,578.02 130.60,578.10 131.84,578.18 133.04,578.26 134.20,578.32 135.34,578.39 136.48,578.47 137.61,578.55 138.75,578.64 139.89,578.73 141.03,578.83 142.16,578.92 143.30,579.02 144.44,579.11 145.58,579.20 146.71,579.29 147.85,579.37 148.99,579.44 150.12,579.50 151.26,579.56 152.40,579.60 153.54,579.63 154.67,579.64 155.81,579.64 156.95,579.62 158.09,579.58 159.22,579.52 160.36,579.44 161.50,579.34 162.64,579.21 163.78,579.05 164.91,578.87 166.05,578.66 167.19,578.43 168.32,578.19 169.46,577.93 170.60,577.65 171.74,577.36 172.88,577.05 174.01,576.74 175.15,576.42 176.29,576.10 177.43,575.77 178.56,575.50 179.70,575.24 180.84,574.99 181.97,574.73 183.11,574.48 184.25,574.23 185.39,573.98 186.53,573.73 187.66,573.49 188.80,573.25 189.94,573.03 191.08,572.81 192.21,572.60 193.35,572.40 194.49,572.20 195.62,572.01 196.76,571.81 197.90,571.62 199.04,571.42 200.18,571.23 201.31,571.02 202.45,570.81 203.59,570.59 204.73,570.37 205.86,570.13 207.00,569.87 208.14,569.60 209.28,569.32 210.41,569.02 211.55,568.69 212.69,568.35 213.83,568.06 214.96,567.87 216.10,567.68 217.24,567.49 218.38,567.31 219.51,567.13 220.65,566.95 221.79,566.78 222.93,566.61 224.06,566.45 225.20,566.29 226.34,566.13 227.48,565.97 228.61,565.81 229.75,565.65 230.89,565.49 232.03,565.33 233.16,565.17 234.30,565.01 235.44,564.85 236.58,564.68 237.71,564.51 238.85,564.34 239.99,564.17 241.13,563.99 242.26,563.81 243.40,563.62 244.56,563.42 245.76,563.22 247.00,563.00 248.27,562.77 249.56,562.54 250.86,562.30 252.19,562.06 253.51,561.82 254.84,561.57 256.16,561.32 257.47,561.08 258.76,560.83 260.02,560.59 261.26,560.35 262.46,560.12 263.62,559.90 264.74,559.69 265.79,559.48 266.79,559.29 267.73,559.11 268.59,558.95 269.38,558.80 270.08,558.67 270.70,558.55 270.70,583.90 106.90,583.90" fill="rgb(135,140,189)" fill-opacity="0.59"/>
<polygon points="106.90,575.28 107.52,575.33 108.22,575.38 109.01,575.44 109.87,575.51 110.81,575.59 111.81,575.67 112.86,575.75 113.98,575.84 115.14,575.94 116.34,576.03 117.58,576.13 118.84,576.23 120.13,576.33 121.44,576.43 122.76,576.53 124.09,576.63 125.41,576.73 126.74,576.83 128.04,576.92 129.33,577.01 130.60,577.09 131.84,577.17 133.04,577.24 134.20,577.31 135.34,577.38 136.48,577.45 137.61,577.53 138.75,577.61 139.89,577.69 141.03,577.78 142.16,577.86 143.30,577.95 144.44,578.03 145.58,578.11 146.71,578.19 147.85,578.26 148.99,578.33 150.12,578.38 151.26,578.43 152.40,578.47 153.54,578.50 154.67,578.52 155.81,578.53 156.95,578.52 158.09,578.49 159.22,578.45 160.36,578.40 161.50,578.32 162.64,578.23 163.78,578.12 164.91,577.99 166.05,577.84 167.19,577.68 168.32,577.51 169.46,577.32 170.60,577.12 171.74,576.91 172.88,576.69 174.01,576.47 175.15,576.23 176.29,575.99 177.43,575.75 178.56,575.50 179.70,575.24 180.84,574.99 181.97,574.73 183.11,574.48 184.25,574.23 185.39,573.98 186.53,573.73 187.66,573.49 188.80,573.25 189.94,573.03 191.08,572.81 192.21,572.60 193.35,572.40 194.49,572.20 195.62,572.01 196.76,571.81 197.90,571.62 199.04,571.42 200.18,571.23 201.31,571.02 202.45,570.81 203.59,570.59 204.73,570.37 205.86,570.13 207.00,569.87 208.14,569.60 209.28,569.32 210.41,569.02 211.55,568.69 212.69,568.35 213.83,567.98 214.96,567.59 216.10,567.17 217.24,566.72 218.38,566.22 219.51,565.70 220.65,565.14 221.79,564.55 222.93,563.93 224.06,563.30 225.20,562.64 226.34,561.97 227.48,561.29 228.61,560.61 229.75,559.91 230.89,559.22 232.03,558.53 233.16,557.84 234.30,557.16 235.44,556.49 236.58,555.84 237.71,555.21 238.85,554.61 239.99,554.02 241.13,553.47 242.26,552.95 243.40,552.47 244.56,552.01 245.76,551.56 247.00,551.12 248.27,550.70 249.56,550.29 250.86,549.89 252.19,549.50 253.51,549.12 254.84,548.76 256.16,548.41 257.47,548.07 258.76,547.74 260.02,547.43 261.26,547.13 262.46,546.84 263.62,546.57 264.74,546.31 265.79,546.06 266.79,545.83 267.73,545.61 268.59,545.40 269.38,545.21 270.08,545.03 270.70,544.86 270.70,558.55 270.08,558.67 269.38,558.80 268.59,558.95 267.73,559.11 266.79,559.29 265.79,559.48 264.74,559.69 263.62,559.90 262.46,560.12 261.26,560.35 260.02,560.59 258.76,560.83 257.47,561.08 256.16,561.32 254.84,561.57 253.51,561.82 252.19,562.06 250.86,562.30 249.56,562.54 248.27,562.77 247.00,563.00 245.76,563.22 244.56,563.42 243.40,563.62 242.26,563.81 241.13,563.99 239.99,564.17 238.85,564.34 237.71,564.51 236.58,564.68 235.44,564.85 234.30,565.01 233.16,565.17 232.03,565.33 230.89,565.49 229.75,565.65 228.61,565.81 227.48,565.97 226.34,566.13 225.20,566.29 224.06,566.45 222.93,566.61 221.79,566.78 220.65,566.95 219.51,567.13 218.38,567.31 217.24,567.49 216.10,567.68 214.96,567.87 213.83,568.06 212.69,568.35 211.55,568.69 210.41,569.02 209.28,569.32 208.14,569.60 207.00,569.87 205.86,570.13 204.73,570.37 203.59,570.59 202.45,570.81 201.31,571.02 200.18,571.23 199.04,571.42 197.90,571.62 196.76,571.81 195.62,572.01 194.49,572.20 193.35,572.40 192.21,572.60 191.08,572.81 189.94,573.03 188.80,573.25 187.66,573.49 186.53,573.73 185.39,573.98 184.25,574.23 183.11,574.48 181.97,574.73 180.84,574.99 179.70,575.24 178.56,575.50 177.43,575.77 176.29,576.10 175.15,576.42 174.01,576.74 172.88,577.05 171.74,577.36 170.60,577.65 169.46,577.93 168.32,578.19 167.19,578.43 166.05,578.66 164.91,578.87 163.78,579.05 162.64,579.21 161.50,579.34 160.36,579.44 159.22,579.52 158.09,579.58 156.95,579.62 155.81,579.64 154.67,579.64 153.54,579.63 152.40,579.60 151.26,579.56 150.12,579.50 148.99,579.44 147.85,579.37 146.71,579.29 145.58,579.20 144.44,579.11 143.30,579.02 142.16,578.92 141.03,578.83 139.89,578.73 138.75,578.64 137.61,578.55 136.48,578.47 135.34,578.39 134.20,578.32 133.04,578.26 131.84,578.18 130.60,578.10 129.33,578.02 128.04,577.93 126.74,577.84 125.41,577.74 124.09,577.65 122.76,577.55 121.44,577.45 120.13,577.35 118.84,577.25 117.58,577.15 116.34,577.05 115.14,576.95 113.98,576.86 112.86,576.77 111.81,576.68 110.81,576.60 109.87,576.53 109.01,576.46 108.22,576.40 107.52,576.34 106.90,576.29" fill="rgb(104,167,232)" fill-opacity="0.49"/>
<polygon points="106.90,576.29 107.52,576.34 108.22,576.40 109.01,576.46 109.87,576.53 110.81,576.60 111.81,576.68 112.86,576.77 113.98,576.86 115.14,576.95 116.34,577.05 117.58,577.15 118.84,577.25 120.13,577.35 121.44,577.45 122.76,577.55 124.09,577.65 125.41,577.74 126.74,577.84 128.04,577.93 129.33,578.02 130.60,578.10 131.84,578.18 133.04,578.26 134.20,578.32 135.34,578.39 136.48,578.47 137.61,578.55 138.75,578.64 139.89,578.73 141.03,578.83 142.16,578.92 143.30,579.02 144.44,579.11 145.58,579.20 146.71,579.29 147.85,579.37 148.99,579.44 150.12,579.50 151.26,579.56 152.40,579.60 153.54,579.63 154.67,579.64 155.81,579.64 156.95,579.62 158.09,579.58 159.22,579.52 160.36,579.44 161.50,579.34 162.64,579.21 163.78,579.05 164.91,578.87 166.05,578.66 167.19,578.43 168.32,578.19 169.46,577.93 170.60,577.65 171.74,577.36 172.88,577.05 174.01,576.74 175.15,576.42 176.29,576.10 177.43,575.77 178.56,575.44 179.70,575.11 180.84,574.79 181.97,574.47 183.11,574.15 184.25,573.84 185.39,573.55 186.53,573.27 187.66,573.00 188.80,572.75 189.94,572.50 191.08,572.27 192.21,572.03 193.35,571.80 194.49,571.57 195.62,571.35 196.76,571.13 197.90,570.91 199.04,570.69 200.18,570.47 201.31,570.26 202.45,570.05 203.59,569.85 204.73,569.64 205.86,569.44 207.00,569.23 208.14,569.03 209.28,568.84 210.41,568.64 211.55,568.44 212.69,568.25 213.83,568.06 214.96,567.87 216.10,567.68 217.24,567.49 218.38,567.31 219.51,567.13 220.65,566.95 221.79,566.78 222.93,566.61 224.06,566.45 225.20,566.29 226.34,566.13 227.48,565.97 228.61,565.81 229.75,565.65 230.89,565.49 232.03,565.33 233.16,565.17 234.30,565.01 235.44,564.85 236.58,564.68 237.71,564.51 238.85,564.34 239.99,564.17 241.13,563.99 242.26,563.81 243.40,563.62 244.56,563.42 245.76,563.22 247.00,563.00 248.27,562.77 249.56,562.54 250.86,562.30 252.19,562.06 253.51,561.82 254.84,561.57 256.16,561.32 257.47,561.08 258.76,560.83 260.02,560.59 261.26,560.35 262.46,560.12 263.62,559.90 264.74,559.69 265.79,559.48 266.79,559.29 267.73,559.11 268.59,558.95 269.38,558.80 270.08,558.67 270.70,558.55 270.70,558.55 270.08,558.67 269.38,558.80 268.59,558.95 267.73,559.11 266.79,559.29 265.79,559.48 264.74,559.69 263.62,559.90 262.46,560.12 261.26,560.35 260.02,560.59 258.76,560.83 257.47,561.08 256.16,561.32 254.84,561.57 253.51,561.82 252.19,562.06 250.86,562.30 249.56,562.54 248.27,562.77 247.00,563.00 245.76,563.22 244.56,563.42 243.40,563.62 242.26,563.81 241.13,563.99 239.99,564.17 238.85,564.34 237.71,564.51 236.58,564.68 235.44,564.85 234.30,565.01 233.16,565.17 232.03,565.33 230.89,565.49 229.75,565.65 228.61,565.81 227.48,565.97 226.34,566.13 225.20,566.29 224.06,566.45 222.93,566.61 221.79,566.78 220.65,566.95 219.51,567.13 218.38,567.31 217.24,567.49 216.10,567.68 214.96,567.87 213.83,568.06 212.69,568.35 211.55,568.69 210.41,569.02 209.28,569.32 208.14,569.60 207.00,569.87 205.86,570.13 204.73,570.37 203.59,570.59 202.45,570.81 201.31,571.02 200.18,571.23 199.04,571.42 197.90,571.62 196.76,571.81 195.62,572.01 194.49,572.20 193.35,572.40 192.21,572.60 191.08,572.81 189.94,573.03 188.80,573.25 187.66,573.49 186.53,573.73 185.39,573.98 184.25,574.23 183.11,574.48 181.97,574.73 180.84,574.99 179.70,575.24 178.56,575.50 177.43,575.77 176.29,576.10 175.15,576.42 174.01,576.74 172.88,577.05 171.74,577.36 170.60,577.65 169.46,577.93 168.32,578.19 167.19,578.43 166.05,578.66 164.91,578.87 163.78,579.05 162.64,579.21 161.50,579.34 160.36,579.44 159.22,579.52 158.09,579.58 156.95,579.62 155.81,579.64 154.67,579.64 153.54,579.63 152.40,579.60 151.26,579.56 150.12,579.50 148.99,579.44 147.85,579.37 146.71,579.29 145.58,579.20 144.44,579.11 143.30,579.02 142.16,578.92 141.03,578.83 139.89,578.73 138.75,578.64 137.61,578.55 136.48,578.47 135.34,578.39 134.20,578.32 133.04,578.26 131.84,578.18 130.60,578.10 129.33,578.02 128.04,577.93 126.74,577.84 125.41,577.74 124.09,577.65 122.76,577.55 121.44,577.45 120.13,577.35 118.84,577.25 117.58,577.15 116.34,577.05 115.14,576.95 113.98,576.86 112.86,576.77 111.81,576.68 110.81,576.60 109.87,576.53 109.01,576.46 108.22,576.40 107.52,576.34 106.90,576.29" fill="rgb(247,140,130)" fill-opacity="0.5"/>
<rect x="99.90" y="574.77" width="7.00" height="9.13" fill="none" stroke="#222" stroke-width="0.8"/>
<rect x="106.90" y="575.79" width="7.00" height="8.11" fill="none" stroke="#222" stroke-width="0.8"/>
<rect x="127.20" y="577.82" width="7.00" height="6.08" fill="none" stroke="#222" stroke-width="0.8"/>
<rect x="134.20" y="579.84" width="7.00" height="4.06" fill="none" stroke="#222" stroke-width="0.8"/>
<rect x="154.50" y="578.83" width="7.00" height="5.07" fill="none" stroke="#222" stroke-width="0.8"/>
<rect x="161.50" y="579.84" width="7.00" height="4.06" fill="none" stroke="#222" stroke-width="0.8"/>
<rect x="181.80" y="571.73" width="7.00" height="12.17" fill="none" stroke="#222" stroke-width="0.8"/>
<rect x="188.80" y="573.76" width="7.00" height="10.14" fill="none" stroke="#222" stroke-width="0.8"/>
<rect x="209.10" y="568.69" width="7.00" height="15.21" fill="none" stroke="#222" stroke-width="0.8"/>
<rect x="216.10" y="567.68" width="7.00" height="16.22" fill="none" stroke="#222" stroke-width="0.8"/>
<rect x="236.40" y="548.41" width="7.00" height="35.49" fill="none" stroke="#222" stroke-width="0.8"/>
<rect x="243.40" y="566.66" width="7.00" height="17.24" fill="none" stroke="#222" stroke-width="0.8"/>
<rect x="263.70" y="544.86" width="7.00" height="39.04" fill="none" stroke="#222" stroke-width="0.8"/>
<rect x="270.70" y="558.04" width="7.00" height="25.86" fill="none" stroke="#222" stroke-width="0.8"/>
<line x1="103.40" y1="573.95" x2="103.40" y2="575.60" stroke="#1a1a1a" stroke-width="1.1"/>
<line x1="101.80" y1="573.95" x2="105.00" y2="573.95" stroke="#1a1a1a" stroke-width="1"/>
<line x1="101.80" y1="575.60" x2="105.00" y2="575.60" stroke="#1a1a1a" stroke-width="1"/>
<circle cx="103.45" cy="575.06" r="1.05" fill="#111"/>
<circle cx="104.11" cy="574.91" r="1.05" fill="#111"/>
<circle cx="104.00" cy="573.56" r="1.05" fill="#111"/>
<circle cx="103.02" cy="572.08" r="1.05" fill="#111"/>
<circle cx="104.11" cy="574.41" r="1.05" fill="#111"/>
<line x1="110.40" y1="575.03" x2="110.40" y2="576.55" stroke="#1a1a1a" stroke-width="1.1"/>
<line x1="108.80" y1="575.03" x2="112.00" y2="575.03" stroke="#1a1a1a" stroke-width="1"/>
<line x1="108.80" y1="576.55" x2="112.00" y2="576.55" stroke="#1a1a1a" stroke-width="1"/>
<circle cx="109.82" cy="573.72" r="1.05" fill="#111"/>
<circle cx="110.31" cy="578.09" r="1.05" fill="#111"/>
<circle cx="109.99" cy="578.39" r="1.05" fill="#111"/>
<circle cx="110.67" cy="578.39" r="1.05" fill="#111"/>
<circle cx="111.04" cy="574.06" r="1.05" fill="#111"/>
<line x1="130.70" y1="577.06" x2="130.70" y2="578.58" stroke="#1a1a1a" stroke-width="1.1"/>
<line x1="129.10" y1="577.06" x2="132.30" y2="577.06" stroke="#1a1a1a" stroke-width="1"/>
<line x1="129.10" y1="578.58" x2="132.30" y2="578.58" stroke="#1a1a1a" stroke-width="1"/>
<circle cx="131.05" cy="579.92" r="1.05" fill="#111"/>
<circle cx="130.13" cy="576.84" r="1.05" fill="#111"/>
<circle cx="131.45" cy="575.49" r="1.05" fill="#111"/>
<circle cx="131.42" cy="579.52" r="1.05" fill="#111"/>
<circle cx="130.68" cy="578.44" r="1.05" fill="#111"/>
<line x1="137.70" y1="579.08" x2="137.70" y2="580.60" stroke="#1a1a1a" stroke-width="1.1"/>
<line x1="136.10" y1="579.08" x2="139.30" y2="579.08" stroke="#1a1a1a" stroke-width="1"/>
<line x1="136.10" y1="580.60" x2="139.30" y2="580.60" stroke="#1a1a1a" stroke-width="1"/>
<circle cx="138.23" cy="576.86" r="1.05" fill="#111"/>
<circle cx="137.59" cy="581.90" r="1.05" fill="#111"/>
<circle cx="137.44" cy="579.75" r="1.05" fill="#111"/>
<circle cx="137.41" cy="581.70" r="1.05" fill="#111"/>
<circle cx="136.93" cy="578.49" r="1.05" fill="#111"/>
<line x1="158.00" y1="578.07" x2="158.00" y2="579.59" stroke="#1a1a1a" stroke-width="1.1"/>
<line x1="156.40" y1="578.07" x2="159.60" y2="578.07" stroke="#1a1a1a" stroke-width="1"/>
<line x1="156.40" y1="579.59" x2="159.60" y2="579.59" stroke="#1a1a1a" stroke-width="1"/>
<circle cx="157.90" cy="578.50" r="1.05" fill="#111"/>
<circle cx="157.73" cy="581.76" r="1.05" fill="#111"/>
<circle cx="158.02" cy="578.08" r="1.05" fill="#111"/>
<circle cx="158.78" cy="581.48" r="1.05" fill="#111"/>
<circle cx="158.75" cy="577.08" r="1.05" fill="#111"/>
<line x1="165.00" y1="579.08" x2="165.00" y2="580.60" stroke="#1a1a1a" stroke-width="1.1"/>
<line x1="163.40" y1="579.08" x2="166.60" y2="579.08" stroke="#1a1a1a" stroke-width="1"/>
<line x1="163.40" y1="580.60" x2="166.60" y2="580.60" stroke="#1a1a1a" stroke-width="1"/>
<circle cx="164.62" cy="582.25" r="1.05" fill="#111"/>
<circle cx="165.45" cy="582.65" r="1.05" fill="#111"/>
<circle cx="164.41" cy="581.24" r="1.05" fill="#111"/>
<circle cx="165.66" cy="580.32" r="1.05" fill="#111"/>
<circle cx="164.61" cy="577.90" r="1.05" fill="#111"/>
<line x1="185.30" y1="570.64" x2="185.30" y2="572.83" stroke="#1a1a1a" stroke-width="1.1"/>
<line x1="183.70" y1="570.64" x2="186.90" y2="570.64" stroke="#1a1a1a" stroke-width="1"/>
<line x1="183.70" y1="572.83" x2="186.90" y2="572.83" stroke="#1a1a1a" stroke-width="1"/>
<circle cx="185.97" cy="574.29" r="1.05" fill="#111"/>
<circle cx="185.62" cy="571.22" r="1.05" fill="#111"/>
<circle cx="184.59" cy="574.73" r="1.05" fill="#111"/>
<circle cx="185.18" cy="570.36" r="1.05" fill="#111"/>
<circle cx="186.00" cy="574.85" r="1.05" fill="#111"/>
<line x1="192.30" y1="572.85" x2="192.30" y2="574.67" stroke="#1a1a1a" stroke-width="1.1"/>
<line x1="190.70" y1="572.85" x2="193.90" y2="572.85" stroke="#1a1a1a" stroke-width="1"/>
<line x1="190.70" y1="574.67" x2="193.90" y2="574.67" stroke="#1a1a1a" stroke-width="1"/>
<circle cx="192.78" cy="572.94" r="1.05" fill="#111"/>
<circle cx="192.87" cy="576.29" r="1.05" fill="#111"/>
<circle cx="192.88" cy="576.40" r="1.05" fill="#111"/>
<circle cx="192.04" cy="574.04" r="1.05" fill="#111"/>
<circle cx="192.98" cy="573.44" r="1.05" fill="#111"/>
<line x1="212.60" y1="567.32" x2="212.60" y2="570.06" stroke="#1a1a1a" stroke-width="1.1"/>
<line x1="211.00" y1="567.32" x2="214.20" y2="567.32" stroke="#1a1a1a" stroke-width="1"/>
<line x1="211.00" y1="570.06" x2="214.20" y2="570.06" stroke="#1a1a1a" stroke-width="1"/>
<circle cx="212.01" cy="570.81" r="1.05" fill="#111"/>
<circle cx="212.18" cy="568.44" r="1.05" fill="#111"/>
<circle cx="212.06" cy="572.25" r="1.05" fill="#111"/>
<circle cx="212.12" cy="572.79" r="1.05" fill="#111"/>
<circle cx="212.29" cy="570.41" r="1.05" fill="#111"/>
<line x1="219.60" y1="566.22" x2="219.60" y2="569.14" stroke="#1a1a1a" stroke-width="1.1"/>
<line x1="218.00" y1="566.22" x2="221.20" y2="566.22" stroke="#1a1a1a" stroke-width="1"/>
<line x1="218.00" y1="569.14" x2="221.20" y2="569.14" stroke="#1a1a1a" stroke-width="1"/>
<circle cx="219.26" cy="565.15" r="1.05" fill="#111"/>
<circle cx="219.08" cy="567.68" r="1.05" fill="#111"/>
<circle cx="218.83" cy="569.17" r="1.05" fill="#111"/>
<circle cx="218.82" cy="570.11" r="1.05" fill="#111"/>
<circle cx="219.68" cy="565.41" r="1.05" fill="#111"/>
<line x1="239.90" y1="545.22" x2="239.90" y2="551.60" stroke="#1a1a1a" stroke-width="1.1"/>
<line x1="238.30" y1="545.22" x2="241.50" y2="545.22" stroke="#1a1a1a" stroke-width="1"/>
<line x1="238.30" y1="551.60" x2="241.50" y2="551.60" stroke="#1a1a1a" stroke-width="1"/>
<circle cx="239.86" cy="555.02" r="1.05" fill="#111"/>
<circle cx="239.27" cy="539.15" r="1.05" fill="#111"/>
<circle cx="239.79" cy="541.62" r="1.05" fill="#111"/>
<circle cx="240.44" cy="548.52" r="1.05" fill="#111"/>
<circle cx="239.91" cy="550.69" r="1.05" fill="#111"/>
<line x1="246.90" y1="565.11" x2="246.90" y2="568.21" stroke="#1a1a1a" stroke-width="1.1"/>
<line x1="245.30" y1="565.11" x2="248.50" y2="565.11" stroke="#1a1a1a" stroke-width="1"/>
<line x1="245.30" y1="568.21" x2="248.50" y2="568.21" stroke="#1a1a1a" stroke-width="1"/>
<circle cx="247.67" cy="564.72" r="1.05" fill="#111"/>
<circle cx="247.43" cy="568.29" r="1.05" fill="#111"/>
<circle cx="247.12" cy="564.52" r="1.05" fill="#111"/>
<circle cx="246.66" cy="567.65" r="1.05" fill="#111"/>
<circle cx="246.31" cy="571.27" r="1.05" fill="#111"/>
<line x1="267.20" y1="541.35" x2="267.20" y2="548.37" stroke="#1a1a1a" stroke-width="1.1"/>
<line x1="265.60" y1="541.35" x2="268.80" y2="541.35" stroke="#1a1a1a" stroke-width="1"/>
<line x1="265.60" y1="548.37" x2="268.80" y2="548.37" stroke="#1a1a1a" stroke-width="1"/>
<circle cx="267.59" cy="554.92" r="1.05" fill="#111"/>
<circle cx="266.66" cy="550.59" r="1.05" fill="#111"/>
<circle cx="267.75" cy="554.59" r="1.05" fill="#111"/>
<circle cx="267.47" cy="536.18" r="1.05" fill="#111"/>
<circle cx="266.79" cy="549.97" r="1.05" fill="#111"/>
<line x1="274.20" y1="555.72" x2="274.20" y2="560.37" stroke="#1a1a1a" stroke-width="1.1"/>
<line x1="272.60" y1="555.72" x2="275.80" y2="555.72" stroke="#1a1a1a" stroke-width="1"/>
<line x1="272.60" y1="560.37" x2="275.80" y2="560.37" stroke="#1a1a1a" stroke-width="1"/>
<circle cx="274.14" cy="561.25" r="1.05" fill="#111"/>
<circle cx="274.11" cy="563.36" r="1.05" fill="#111"/>
<circle cx="274.94" cy="561.72" r="1.05" fill="#111"/>
<circle cx="274.28" cy="550.71" r="1.05" fill="#111"/>
<circle cx="274.95" cy="562.01" r="1.05" fill="#111"/>
<line x1="106.90" y1="586.50" x2="106.90" y2="590.30" stroke="#1a1a1a" stroke-width="1"/>
<text x="106.90" y="601.90" font-size="12" text-anchor="middle" fill="#1a1a1a" stroke="#1a1a1a" stroke-width="0.2">15</text>
<line x1="134.20" y1="586.50" x2="134.20" y2="590.30" stroke="#1a1a1a" stroke-width="1"/>
<text x="134.20" y="601.90" font-size="12" text-anchor="middle" fill="#1a1a1a" stroke="#1a1a1a" stroke-width="0.2">25</text>
<line x1="161.50" y1="586.50" x2="161.50" y2="590.30" stroke="#1a1a1a" stroke-width="1"/>
<text x="161.50" y="601.90" font-size="12" text-anchor="middle" fill="#1a1a1a" stroke="#1a1a1a" stroke-width="0.2">35</text>
<line x1="188.80" y1="586.50" x2="188.80" y2="590.30" stroke="#1a1a1a" stroke-width="1"/>
<text x="188.80" y="601.90" font-size="12" text-anchor="middle" fill="#1a1a1a" stroke="#1a1a1a" stroke-width="0.2">50</text>
<line x1="216.10" y1="586.50" x2="216.10" y2="590.30" stroke="#1a1a1a" stroke-width="1"/>
<text x="216.10" y="601.90" font-size="12" text-anchor="middle" fill="#1a1a1a" stroke="#1a1a1a" stroke-width="0.2">100</text>
<line x1="243.40" y1="586.50" x2="243.40" y2="590.30" stroke="#1a1a1a" stroke-width="1"/>
<text x="243.40" y="601.90" font-size="12" text-anchor="middle" fill="#1a1a1a" stroke="#1a1a1a" stroke-width="0.2">150</text>
<line x1="270.70" y1="586.50" x2="270.70" y2="590.30" stroke="#1a1a1a" stroke-width="1"/>
<text x="270.70" y="601.90" font-size="12" text-anchor="middle" fill="#1a1a1a" stroke="#1a1a1a" stroke-width="0.2">200</text>
<text x="188.50" y="617.00" font-size="12" text-anchor="middle" fill="#1a1a1a" stroke="#1a1a1a" stroke-width="0.2">Time point (days)</text>
<text x="58.80" y="481.40" font-size="12" text-anchor="middle" fill="#1a1a1a" transform="rotate(-90 58.8 481.4)" stroke="#1a1a1a" stroke-width="0.2">Per cent of neuroectoderm</text>
<rect x="232.30" y="365.00" width="8.40" height="8.70" fill="#1f6fd6" stroke="#222" stroke-width="0.8"/>
<rect x="232.30" y="377.50" width="8.40" height="8.70" fill="#f8766d" stroke="#222" stroke-width="0.8"/>
<text x="243.70" y="372.60" font-size="10" fill="#1a1a1a" stroke="#1a1a1a" stroke-width="0.2">Chimp</text>
<text x="243.70" y="385.90" font-size="10" fill="#1a1a1a" stroke="#1a1a1a" stroke-width="0.2">Human</text>
<text x="313.00" y="369.60" font-size="16.2" font-weight="bold" fill="#000" stroke="#000" stroke-width="0.7">f</text>
<text x="367.00" y="372.00" font-size="12" fill="#1a1a1a" stroke="#1a1a1a" stroke-width="0.2">Salmon module genes</text>
<line x1="367.50" y1="377.20" x2="367.50" y2="456.00" stroke="#1a1a1a" stroke-width="1.1"/>
<line x1="367.00" y1="455.50" x2="598.50" y2="455.50" stroke="#1a1a1a" stroke-width="1.1"/>
<line x1="363.00" y1="385.10" x2="367.50" y2="385.10" stroke="#1a1a1a" stroke-width="1"/>
<text x="362.30" y="389.50" font-size="12.5" text-anchor="end" fill="#1a1a1a" stroke="#1a1a1a" stroke-width="0.2">0.6</text>
<line x1="363.00" y1="404.60" x2="367.50" y2="404.60" stroke="#1a1a1a" stroke-width="1"/>
<text x="362.30" y="409.00" font-size="12.5" text-anchor="end" fill="#1a1a1a" stroke="#1a1a1a" stroke-width="0.2">0.4</text>
<line x1="363.00" y1="424.10" x2="367.50" y2="424.10" stroke="#1a1a1a" stroke-width="1"/>
<text x="362.30" y="428.50" font-size="12.5" text-anchor="end" fill="#1a1a1a" stroke="#1a1a1a" stroke-width="0.2">0.2</text>
<line x1="363.00" y1="443.60" x2="367.50" y2="443.60" stroke="#1a1a1a" stroke-width="1"/>
<text x="362.30" y="448.00" font-size="12.5" text-anchor="end" fill="#1a1a1a" stroke="#1a1a1a" stroke-width="0.2">0</text>
<line x1="385.90" y1="455.50" x2="385.90" y2="459.00" stroke="#1a1a1a" stroke-width="1"/>
<text x="385.90" y="471.60" font-size="12" text-anchor="middle" fill="#1a1a1a" stroke="#1a1a1a" stroke-width="0.2">15</text>
<line x1="418.10" y1="455.50" x2="418.10" y2="459.00" stroke="#1a1a1a" stroke-width="1"/>
<text x="418.10" y="471.60" font-size="12" text-anchor="middle" fill="#1a1a1a" stroke="#1a1a1a" stroke-width="0.2">25</text>
<line x1="450.30" y1="455.50" x2="450.30" y2="459.00" stroke="#1a1a1a" stroke-width="1"/>
<text x="450.30" y="471.60" font-size="12" text-anchor="middle" fill="#1a1a1a" stroke="#1a1a1a" stroke-width="0.2">35</text>
<line x1="482.50" y1="455.50" x2="482.50" y2="459.00" stroke="#1a1a1a" stroke-width="1"/>
<text x="482.50" y="471.60" font-size="12" text-anchor="middle" fill="#1a1a1a" stroke="#1a1a1a" stroke-width="0.2">50</text>
<line x1="514.70" y1="455.50" x2="514.70" y2="459.00" stroke="#1a1a1a" stroke-width="1"/>
<text x="514.70" y="471.60" font-size="12" text-anchor="middle" fill="#1a1a1a" stroke="#1a1a1a" stroke-width="0.2">100</text>
<line x1="546.90" y1="455.50" x2="546.90" y2="459.00" stroke="#1a1a1a" stroke-width="1"/>
<text x="546.90" y="471.60" font-size="12" text-anchor="middle" fill="#1a1a1a" stroke="#1a1a1a" stroke-width="0.2">150</text>
<line x1="579.10" y1="455.50" x2="579.10" y2="459.00" stroke="#1a1a1a" stroke-width="1"/>
<text x="579.10" y="471.60" font-size="12" text-anchor="middle" fill="#1a1a1a" stroke="#1a1a1a" stroke-width="0.2">200</text>
<text x="483.00" y="488.60" font-size="12" text-anchor="middle" fill="#1a1a1a" stroke="#1a1a1a" stroke-width="0.2">Timepoint (days)</text>
<text x="341.60" y="416.00" font-size="11.6" text-anchor="middle" fill="#1a1a1a" transform="rotate(-90 341.6 416)" stroke="#1a1a1a" stroke-width="0.2">Eigengene</text>
<line x1="380.25" y1="448.48" x2="380.25" y2="449.45" stroke="#1a1a1a" stroke-width="0.9"/>
<line x1="380.25" y1="450.91" x2="380.25" y2="451.89" stroke="#1a1a1a" stroke-width="0.9"/>
<rect x="374.60" y="449.45" width="11.30" height="1.60" fill="#1f6fd6" stroke="#222" stroke-width="0.9"/>
<line x1="374.60" y1="450.43" x2="385.90" y2="450.43" stroke="#111" stroke-width="1.6"/>
<circle cx="380.39" cy="450.34" r="1.25" fill="#111"/>
<circle cx="380.17" cy="448.73" r="1.25" fill="#111"/>
<circle cx="380.46" cy="450.15" r="1.25" fill="#111"/>
<circle cx="380.28" cy="451.26" r="1.25" fill="#111"/>
<circle cx="380.25" cy="448.48" r="1.25" fill="#111"/>
<circle cx="380.25" cy="451.89" r="1.25" fill="#111"/>
<line x1="391.55" y1="445.55" x2="391.55" y2="446.04" stroke="#1a1a1a" stroke-width="0.9"/>
<line x1="391.55" y1="447.01" x2="391.55" y2="447.50" stroke="#1a1a1a" stroke-width="0.9"/>
<rect x="385.90" y="446.04" width="11.30" height="1.60" fill="#f8766d" stroke="#222" stroke-width="0.9"/>
<line x1="385.90" y1="446.53" x2="397.20" y2="446.53" stroke="#111" stroke-width="1.6"/>
<circle cx="392.25" cy="446.27" r="1.25" fill="#111"/>
<circle cx="391.08" cy="447.32" r="1.25" fill="#111"/>
<circle cx="392.29" cy="447.32" r="1.25" fill="#111"/>
<circle cx="390.45" cy="446.15" r="1.25" fill="#111"/>
<circle cx="391.55" cy="445.55" r="1.25" fill="#111"/>
<circle cx="391.55" cy="447.50" r="1.25" fill="#111"/>
<line x1="412.45" y1="448.48" x2="412.45" y2="448.96" stroke="#1a1a1a" stroke-width="0.9"/>
<line x1="412.45" y1="450.43" x2="412.45" y2="451.40" stroke="#1a1a1a" stroke-width="0.9"/>
<rect x="406.80" y="448.96" width="11.30" height="1.60" fill="#1f6fd6" stroke="#222" stroke-width="0.9"/>
<line x1="406.80" y1="449.94" x2="418.10" y2="449.94" stroke="#111" stroke-width="1.6"/>
<circle cx="413.57" cy="448.53" r="1.25" fill="#111"/>
<circle cx="412.73" cy="449.49" r="1.25" fill="#111"/>
<circle cx="411.29" cy="450.94" r="1.25" fill="#111"/>
<circle cx="411.39" cy="449.85" r="1.25" fill="#111"/>
<circle cx="412.45" cy="448.48" r="1.25" fill="#111"/>
<circle cx="412.45" cy="451.40" r="1.25" fill="#111"/>
<line x1="423.75" y1="446.04" x2="423.75" y2="446.53" stroke="#1a1a1a" stroke-width="0.9"/>
<line x1="423.75" y1="447.50" x2="423.75" y2="447.99" stroke="#1a1a1a" stroke-width="0.9"/>
<rect x="418.10" y="446.53" width="11.30" height="1.60" fill="#f8766d" stroke="#222" stroke-width="0.9"/>
<line x1="418.10" y1="447.01" x2="429.40" y2="447.01" stroke="#111" stroke-width="1.6"/>
<circle cx="423.13" cy="447.62" r="1.25" fill="#111"/>
<circle cx="423.66" cy="447.93" r="1.25" fill="#111"/>
<circle cx="424.57" cy="447.13" r="1.25" fill="#111"/>
<circle cx="424.09" cy="446.98" r="1.25" fill="#111"/>
<circle cx="423.75" cy="446.04" r="1.25" fill="#111"/>
<circle cx="423.75" cy="447.99" r="1.25" fill="#111"/>
<line x1="444.65" y1="446.53" x2="444.65" y2="448.96" stroke="#1a1a1a" stroke-width="0.9"/>
<line x1="444.65" y1="450.43" x2="444.65" y2="451.40" stroke="#1a1a1a" stroke-width="0.9"/>
<rect x="439.00" y="448.96" width="11.30" height="1.60" fill="#1f6fd6" stroke="#222" stroke-width="0.9"/>
<line x1="439.00" y1="449.94" x2="450.30" y2="449.94" stroke="#111" stroke-width="1.6"/>
<circle cx="445.04" cy="448.96" r="1.25" fill="#111"/>
<circle cx="444.12" cy="449.17" r="1.25" fill="#111"/>
<circle cx="445.84" cy="446.54" r="1.25" fill="#111"/>
<circle cx="445.15" cy="447.30" r="1.25" fill="#111"/>
<circle cx="444.65" cy="446.53" r="1.25" fill="#111"/>
<circle cx="444.65" cy="451.40" r="1.25" fill="#111"/>
<line x1="455.95" y1="446.04" x2="455.95" y2="446.53" stroke="#1a1a1a" stroke-width="0.9"/>
<line x1="455.95" y1="447.50" x2="455.95" y2="447.99" stroke="#1a1a1a" stroke-width="0.9"/>
<rect x="450.30" y="446.53" width="11.30" height="1.60" fill="#f8766d" stroke="#222" stroke-width="0.9"/>
<line x1="450.30" y1="447.01" x2="461.60" y2="447.01" stroke="#111" stroke-width="1.6"/>
<circle cx="455.30" cy="447.37" r="1.25" fill="#111"/>
<circle cx="454.92" cy="447.42" r="1.25" fill="#111"/>
<circle cx="455.71" cy="446.49" r="1.25" fill="#111"/>
<circle cx="455.68" cy="446.34" r="1.25" fill="#111"/>
<circle cx="455.95" cy="446.04" r="1.25" fill="#111"/>
<circle cx="455.95" cy="447.99" r="1.25" fill="#111"/>
<line x1="476.85" y1="446.53" x2="476.85" y2="448.96" stroke="#1a1a1a" stroke-width="0.9"/>
<line x1="476.85" y1="450.43" x2="476.85" y2="451.40" stroke="#1a1a1a" stroke-width="0.9"/>
<rect x="471.20" y="448.96" width="11.30" height="1.60" fill="#1f6fd6" stroke="#222" stroke-width="0.9"/>
<line x1="471.20" y1="449.65" x2="482.50" y2="449.65" stroke="#111" stroke-width="1.6"/>
<circle cx="477.68" cy="446.73" r="1.25" fill="#111"/>
<circle cx="476.15" cy="451.40" r="1.25" fill="#111"/>
<circle cx="476.78" cy="446.96" r="1.25" fill="#111"/>
<circle cx="476.60" cy="446.62" r="1.25" fill="#111"/>
<circle cx="476.85" cy="446.53" r="1.25" fill="#111"/>
<circle cx="476.85" cy="451.40" r="1.25" fill="#111"/>
<line x1="488.15" y1="444.58" x2="488.15" y2="445.55" stroke="#1a1a1a" stroke-width="0.9"/>
<line x1="488.15" y1="447.01" x2="488.15" y2="447.99" stroke="#1a1a1a" stroke-width="0.9"/>
<rect x="482.50" y="445.55" width="11.30" height="1.60" fill="#f8766d" stroke="#222" stroke-width="0.9"/>
<line x1="482.50" y1="446.33" x2="493.80" y2="446.33" stroke="#111" stroke-width="1.6"/>
<circle cx="488.46" cy="447.74" r="1.25" fill="#111"/>
<circle cx="487.60" cy="445.33" r="1.25" fill="#111"/>
<circle cx="487.75" cy="447.69" r="1.25" fill="#111"/>
<circle cx="488.77" cy="444.70" r="1.25" fill="#111"/>
<circle cx="488.15" cy="444.58" r="1.25" fill="#111"/>
<circle cx="488.15" cy="447.99" r="1.25" fill="#111"/>
<line x1="509.05" y1="443.60" x2="509.05" y2="444.58" stroke="#1a1a1a" stroke-width="0.9"/>
<line x1="509.05" y1="447.50" x2="509.05" y2="448.48" stroke="#1a1a1a" stroke-width="0.9"/>
<rect x="503.40" y="444.58" width="11.30" height="2.92" fill="#1f6fd6" stroke="#222" stroke-width="0.9"/>
<line x1="503.40" y1="446.53" x2="514.70" y2="446.53" stroke="#111" stroke-width="1.6"/>
<circle cx="508.44" cy="447.90" r="1.25" fill="#111"/>
<circle cx="507.99" cy="447.98" r="1.25" fill="#111"/>
<circle cx="508.28" cy="444.59" r="1.25" fill="#111"/>
<circle cx="508.92" cy="445.75" r="1.25" fill="#111"/>
<circle cx="509.05" cy="443.60" r="1.25" fill="#111"/>
<circle cx="509.05" cy="448.48" r="1.25" fill="#111"/>
<line x1="520.35" y1="434.83" x2="520.35" y2="435.80" stroke="#1a1a1a" stroke-width="0.9"/>
<line x1="520.35" y1="446.53" x2="520.35" y2="450.43" stroke="#1a1a1a" stroke-width="0.9"/>
<rect x="514.70" y="435.80" width="11.30" height="10.73" fill="#f8766d" stroke="#222" stroke-width="0.9"/>
<line x1="514.70" y1="441.16" x2="526.00" y2="441.16" stroke="#111" stroke-width="1.6"/>
<circle cx="520.91" cy="447.45" r="1.25" fill="#111"/>
<circle cx="520.69" cy="448.38" r="1.25" fill="#111"/>
<circle cx="520.16" cy="448.61" r="1.25" fill="#111"/>
<circle cx="519.80" cy="447.10" r="1.25" fill="#111"/>
<circle cx="520.35" cy="434.83" r="1.25" fill="#111"/>
<circle cx="520.35" cy="450.43" r="1.25" fill="#111"/>
<line x1="541.25" y1="434.83" x2="541.25" y2="438.24" stroke="#1a1a1a" stroke-width="0.9"/>
<line x1="541.25" y1="444.09" x2="541.25" y2="444.58" stroke="#1a1a1a" stroke-width="0.9"/>
<rect x="535.60" y="438.24" width="11.30" height="5.85" fill="#1f6fd6" stroke="#222" stroke-width="0.9"/>
<line x1="535.60" y1="440.68" x2="546.90" y2="440.68" stroke="#111" stroke-width="1.6"/>
<circle cx="541.98" cy="435.11" r="1.25" fill="#111"/>
<circle cx="542.17" cy="441.61" r="1.25" fill="#111"/>
<circle cx="541.00" cy="442.52" r="1.25" fill="#111"/>
<circle cx="541.59" cy="436.24" r="1.25" fill="#111"/>
<circle cx="541.25" cy="434.83" r="1.25" fill="#111"/>
<circle cx="541.25" cy="444.58" r="1.25" fill="#111"/>
<line x1="552.55" y1="424.10" x2="552.55" y2="431.41" stroke="#1a1a1a" stroke-width="0.9"/>
<line x1="552.55" y1="445.55" x2="552.55" y2="445.55" stroke="#1a1a1a" stroke-width="0.9"/>
<rect x="546.90" y="431.41" width="11.30" height="14.14" fill="#f8766d" stroke="#222" stroke-width="0.9"/>
<line x1="546.90" y1="441.65" x2="558.20" y2="441.65" stroke="#111" stroke-width="1.6"/>
<circle cx="553.72" cy="443.40" r="1.25" fill="#111"/>
<circle cx="551.97" cy="440.98" r="1.25" fill="#111"/>
<circle cx="552.14" cy="428.98" r="1.25" fill="#111"/>
<circle cx="551.53" cy="439.19" r="1.25" fill="#111"/>
<circle cx="552.55" cy="424.10" r="1.25" fill="#111"/>
<circle cx="552.55" cy="445.55" r="1.25" fill="#111"/>
<line x1="573.45" y1="429.95" x2="573.45" y2="437.26" stroke="#1a1a1a" stroke-width="0.9"/>
<line x1="573.45" y1="443.11" x2="573.45" y2="445.55" stroke="#1a1a1a" stroke-width="0.9"/>
<rect x="567.80" y="437.26" width="11.30" height="5.85" fill="#1f6fd6" stroke="#222" stroke-width="0.9"/>
<line x1="567.80" y1="440.19" x2="579.10" y2="440.19" stroke="#111" stroke-width="1.6"/>
<circle cx="573.65" cy="444.14" r="1.25" fill="#111"/>
<circle cx="573.69" cy="441.76" r="1.25" fill="#111"/>
<circle cx="573.34" cy="439.75" r="1.25" fill="#111"/>
<circle cx="573.41" cy="430.59" r="1.25" fill="#111"/>
<circle cx="573.45" cy="429.95" r="1.25" fill="#111"/>
<circle cx="573.45" cy="445.55" r="1.25" fill="#111"/>
<line x1="584.75" y1="380.23" x2="584.75" y2="391.93" stroke="#1a1a1a" stroke-width="0.9"/>
<line x1="584.75" y1="433.36" x2="584.75" y2="437.75" stroke="#1a1a1a" stroke-width="0.9"/>
<rect x="579.10" y="391.93" width="11.30" height="41.44" fill="#f8766d" stroke="#222" stroke-width="0.9"/>
<line x1="579.10" y1="429.95" x2="590.40" y2="429.95" stroke="#111" stroke-width="1.6"/>
<circle cx="584.75" cy="380.23" r="1.25" fill="#111"/>
<circle cx="584.75" cy="437.75" r="1.25" fill="#111"/>
<polyline points="391.55,446.53 392.28,446.54 393.11,446.55 394.03,446.57 395.05,446.58 396.16,446.60 397.34,446.62 398.59,446.65 399.90,446.67 401.27,446.69 402.68,446.72 404.14,446.74 405.64,446.77 407.16,446.79 408.70,446.82 410.26,446.84 411.82,446.87 413.39,446.89 414.95,446.91 416.49,446.93 418.01,446.95 419.50,446.97 420.96,446.99 422.38,447.00 423.75,447.01 425.09,447.02 426.43,447.03 427.77,447.04 429.12,447.05 430.46,447.05 431.80,447.06 433.14,447.06 434.48,447.07 435.82,447.07 437.17,447.07 438.51,447.07 439.85,447.07 441.19,447.07 442.53,447.07 443.87,447.07 445.22,447.07 446.56,447.06 447.90,447.06 449.24,447.05 450.58,447.05 451.92,447.04 453.27,447.03 454.61,447.02 455.95,447.01 457.29,447.00 458.63,447.00 459.97,446.99 461.32,446.99 462.66,446.98 464.00,446.98 465.34,446.98 466.68,446.98 468.02,446.97 469.37,446.97 470.71,446.96 472.05,446.95 473.39,446.94 474.73,446.93 476.07,446.91 477.42,446.89 478.76,446.86 480.10,446.83 481.44,446.79 482.78,446.75 484.13,446.71 485.47,446.65 486.81,446.59 488.15,446.53 489.49,446.45 490.83,446.37 492.17,446.28 493.52,446.19 494.86,446.09 496.20,445.99 497.54,445.88 498.88,445.77 500.23,445.65 501.57,445.53 502.91,445.40 504.25,445.28 505.59,445.14 506.93,445.01 508.27,444.88 509.62,444.74 510.96,444.60 512.30,444.46 513.64,444.31 514.98,444.17 516.32,444.03 517.67,443.89 519.01,443.74 520.35,443.60 521.69,443.46 523.03,443.32 524.38,443.17 525.72,443.03 527.06,442.88 528.40,442.74 529.74,442.59 531.08,442.44 532.43,442.29 533.77,442.14 535.11,441.99 536.45,441.83 537.79,441.67 539.13,441.51 540.48,441.35 541.82,441.18 543.16,441.01 544.50,440.83 545.84,440.66 547.18,440.47 548.52,440.29 549.87,440.10 551.21,439.90 552.55,439.70 553.92,439.49 555.34,439.26 556.80,439.02 558.29,438.77 559.81,438.51 561.35,438.24 562.91,437.96 564.48,437.68 566.04,437.39 567.60,437.10 569.14,436.82 570.66,436.53 572.16,436.25 573.62,435.97 575.03,435.70 576.40,435.44 577.71,435.19 578.96,434.95 580.14,434.72 581.25,434.51 582.27,434.31 583.19,434.14 584.02,433.98 584.75,433.85" fill="none" stroke="#d9534f" stroke-width="1.5" stroke-dasharray="5,3"/>
<polyline points="380.25,450.23 380.98,450.23 381.81,450.22 382.73,450.21 383.75,450.21 384.86,450.20 386.04,450.19 387.29,450.19 388.60,450.18 389.97,450.17 391.38,450.16 392.84,450.15 394.34,450.14 395.86,450.14 397.40,450.13 398.96,450.12 400.52,450.11 402.09,450.10 403.65,450.09 405.19,450.08 406.71,450.07 408.20,450.06 409.66,450.05 411.08,450.04 412.45,450.04 413.79,450.03 415.13,450.02 416.47,450.01 417.82,450.00 419.16,450.00 420.50,449.99 421.84,449.98 423.18,449.98 424.52,449.97 425.87,449.96 427.21,449.96 428.55,449.95 429.89,449.94 431.23,449.94 432.57,449.93 433.92,449.92 435.26,449.91 436.60,449.90 437.94,449.89 439.28,449.88 440.62,449.87 441.97,449.86 443.31,449.85 444.65,449.84 445.99,449.83 447.33,449.82 448.67,449.82 450.02,449.82 451.36,449.82 452.70,449.82 454.04,449.82 455.38,449.82 456.72,449.82 458.07,449.82 459.41,449.82 460.75,449.82 462.09,449.81 463.43,449.80 464.77,449.79 466.12,449.78 467.46,449.76 468.80,449.73 470.14,449.70 471.48,449.66 472.82,449.62 474.17,449.57 475.51,449.51 476.85,449.45 478.19,449.38 479.53,449.30 480.88,449.22 482.22,449.13 483.56,449.04 484.90,448.94 486.24,448.84 487.58,448.74 488.93,448.62 490.27,448.51 491.61,448.39 492.95,448.27 494.29,448.14 495.63,448.01 496.98,447.88 498.32,447.74 499.66,447.60 501.00,447.45 502.34,447.31 503.68,447.15 505.03,447.00 506.37,446.85 507.71,446.69 509.05,446.53 510.39,446.36 511.73,446.18 513.08,445.99 514.42,445.79 515.76,445.59 517.10,445.37 518.44,445.16 519.78,444.94 521.13,444.71 522.47,444.48 523.81,444.26 525.15,444.03 526.49,443.80 527.83,443.57 529.17,443.35 530.52,443.13 531.86,442.92 533.20,442.71 534.54,442.51 535.88,442.32 537.22,442.13 538.57,441.96 539.91,441.80 541.25,441.65 542.62,441.51 544.04,441.38 545.50,441.25 546.99,441.13 548.51,441.02 550.05,440.91 551.61,440.81 553.18,440.71 554.74,440.62 556.30,440.53 557.84,440.45 559.36,440.37 560.86,440.30 562.32,440.23 563.73,440.16 565.10,440.10 566.41,440.04 567.66,439.98 568.84,439.93 569.95,439.88 570.97,439.83 571.89,439.78 572.72,439.74 573.45,439.70" fill="none" stroke="#2a62b8" stroke-width="1.5" stroke-dasharray="5,3"/>
<text x="315.70" y="517.90" font-size="16.2" font-weight="bold" fill="#000" stroke="#000" stroke-width="0.7">g</text>
<line x1="366.50" y1="515.30" x2="366.50" y2="585.00" stroke="#1a1a1a" stroke-width="1.1"/>
<line x1="366.00" y1="584.50" x2="502.30" y2="584.50" stroke="#1a1a1a" stroke-width="1.1"/>
<line x1="362.30" y1="517.60" x2="366.50" y2="517.60" stroke="#1a1a1a" stroke-width="1"/>
<text x="359.20" y="521.90" font-size="12.2" text-anchor="end" fill="#1a1a1a" stroke="#1a1a1a" stroke-width="0.2">30</text>
<line x1="362.30" y1="534.20" x2="366.50" y2="534.20" stroke="#1a1a1a" stroke-width="1"/>
<text x="359.20" y="538.50" font-size="12.2" text-anchor="end" fill="#1a1a1a" stroke="#1a1a1a" stroke-width="0.2">20</text>
<line x1="362.30" y1="550.80" x2="366.50" y2="550.80" stroke="#1a1a1a" stroke-width="1"/>
<text x="359.20" y="555.10" font-size="12.2" text-anchor="end" fill="#1a1a1a" stroke="#1a1a1a" stroke-width="0.2">10</text>
<line x1="362.30" y1="567.40" x2="366.50" y2="567.40" stroke="#1a1a1a" stroke-width="1"/>
<text x="359.20" y="571.70" font-size="12.2" text-anchor="end" fill="#1a1a1a" stroke="#1a1a1a" stroke-width="0.2">0</text>
<line x1="362.30" y1="584.00" x2="366.50" y2="584.00" stroke="#1a1a1a" stroke-width="1"/>
<text x="359.20" y="588.30" font-size="12.2" text-anchor="end" fill="#1a1a1a" stroke="#1a1a1a" stroke-width="0.2">−10</text>
<line x1="385.80" y1="584.50" x2="385.80" y2="588.00" stroke="#1a1a1a" stroke-width="1"/>
<text x="385.80" y="601.20" font-size="12" text-anchor="middle" fill="#1a1a1a" stroke="#1a1a1a" stroke-width="0.2">50</text>
<line x1="417.40" y1="584.50" x2="417.40" y2="588.00" stroke="#1a1a1a" stroke-width="1"/>
<text x="417.40" y="601.20" font-size="12" text-anchor="middle" fill="#1a1a1a" stroke="#1a1a1a" stroke-width="0.2">100</text>
<line x1="449.60" y1="584.50" x2="449.60" y2="588.00" stroke="#1a1a1a" stroke-width="1"/>
<text x="449.60" y="601.20" font-size="12" text-anchor="middle" fill="#1a1a1a" stroke="#1a1a1a" stroke-width="0.2">150</text>
<line x1="482.40" y1="584.50" x2="482.40" y2="588.00" stroke="#1a1a1a" stroke-width="1"/>
<text x="482.40" y="601.20" font-size="12" text-anchor="middle" fill="#1a1a1a" stroke="#1a1a1a" stroke-width="0.2">200</text>
<text x="434.00" y="618.00" font-size="12" text-anchor="middle" fill="#1a1a1a" stroke="#1a1a1a" stroke-width="0.2">Time point (days)</text>
<text x="339.50" y="550.60" font-size="12" text-anchor="middle" fill="#1a1a1a" transform="rotate(-90 339.5 550.6)" stroke="#1a1a1a" stroke-width="0.2">Eigengene</text>
<polyline points="391.40,569.06 392.11,568.93 392.93,568.78 393.83,568.62 394.83,568.45 395.91,568.26 397.06,568.05 398.29,567.84 399.57,567.62 400.91,567.38 402.30,567.14 403.72,566.88 405.19,566.62 406.68,566.36 408.19,566.08 409.72,565.81 411.25,565.52 412.79,565.24 414.32,564.96 415.83,564.67 417.33,564.38 418.81,564.10 420.25,563.81 421.65,563.53 423.00,563.25 424.33,562.98 425.66,562.73 426.99,562.49 428.32,562.26 429.66,562.04 430.99,561.83 432.33,561.62 433.67,561.41 435.00,561.19 436.34,560.97 437.68,560.74 439.03,560.50 440.37,560.25 441.71,559.98 443.05,559.69 444.40,559.38 445.75,559.04 447.09,558.68 448.44,558.29 449.79,557.86 451.14,557.40 452.49,556.90 453.85,556.36 455.20,555.78 456.58,555.13 458.02,554.41 459.50,553.61 461.01,552.75 462.56,551.83 464.13,550.87 465.71,549.87 467.30,548.83 468.90,547.77 470.49,546.70 472.06,545.61 473.61,544.52 475.14,543.44 476.63,542.38 478.08,541.33 479.47,540.32 480.82,539.34 482.09,538.41 483.30,537.53 484.42,536.71 485.47,535.96 486.41,535.29 487.26,534.70 488.00,534.20" fill="none" stroke="#d9534f" stroke-width="1.5" stroke-dasharray="5,3"/>
<polyline points="380.20,579.02 380.91,578.95 381.73,578.86 382.63,578.76 383.63,578.66 384.71,578.55 385.86,578.42 387.09,578.29 388.37,578.16 389.71,578.02 391.10,577.87 392.52,577.72 393.99,577.57 395.48,577.41 396.99,577.25 398.52,577.09 400.05,576.93 401.59,576.77 403.12,576.61 404.63,576.45 406.13,576.29 407.61,576.14 409.05,575.99 410.45,575.84 411.80,575.70 413.13,575.57 414.46,575.45 415.79,575.34 417.12,575.24 418.46,575.15 419.79,575.06 421.13,574.98 422.47,574.90 423.80,574.82 425.14,574.74 426.48,574.65 427.82,574.56 429.17,574.46 430.51,574.35 431.85,574.23 433.20,574.10 434.55,573.96 435.89,573.79 437.24,573.61 438.59,573.41 439.94,573.19 441.29,572.95 442.65,572.68 444.00,572.38 445.38,572.04 446.82,571.67 448.30,571.25 449.81,570.79 451.36,570.30 452.93,569.79 454.51,569.25 456.10,568.69 457.70,568.12 459.29,567.54 460.86,566.95 462.41,566.36 463.94,565.78 465.43,565.20 466.88,564.63 468.27,564.08 469.62,563.55 470.89,563.04 472.10,562.56 473.22,562.12 474.27,561.71 475.21,561.35 476.06,561.03 476.80,560.76" fill="none" stroke="#2a62b8" stroke-width="1.5" stroke-dasharray="5,3"/>
<line x1="380.15" y1="577.86" x2="380.15" y2="578.69" stroke="#1a1a1a" stroke-width="0.9"/>
<line x1="380.15" y1="579.35" x2="380.15" y2="579.85" stroke="#1a1a1a" stroke-width="0.9"/>
<rect x="374.50" y="578.69" width="11.30" height="1.60" fill="#1f6fd6" stroke="#222" stroke-width="0.9"/>
<line x1="374.50" y1="579.02" x2="385.80" y2="579.02" stroke="#111" stroke-width="1.6"/>
<circle cx="380.91" cy="578.04" r="1.25" fill="#111"/>
<circle cx="379.41" cy="579.35" r="1.25" fill="#111"/>
<circle cx="381.21" cy="578.38" r="1.25" fill="#111"/>
<circle cx="381.23" cy="579.46" r="1.25" fill="#111"/>
<circle cx="380.40" cy="578.09" r="1.25" fill="#111"/>
<circle cx="380.15" cy="577.86" r="1.25" fill="#111"/>
<circle cx="380.15" cy="579.85" r="1.25" fill="#111"/>
<line x1="392.00" y1="566.57" x2="392.00" y2="566.57" stroke="#1a1a1a" stroke-width="0.9"/>
<line x1="392.00" y1="570.39" x2="392.00" y2="571.55" stroke="#1a1a1a" stroke-width="0.9"/>
<rect x="385.80" y="566.57" width="12.40" height="3.82" fill="#f8766d" stroke="#222" stroke-width="0.9"/>
<line x1="385.80" y1="568.73" x2="398.20" y2="568.73" stroke="#111" stroke-width="1.6"/>
<circle cx="391.05" cy="569.45" r="1.25" fill="#111"/>
<circle cx="393.11" cy="571.36" r="1.25" fill="#111"/>
<circle cx="392.49" cy="570.36" r="1.25" fill="#111"/>
<circle cx="392.78" cy="570.27" r="1.25" fill="#111"/>
<circle cx="391.50" cy="568.58" r="1.25" fill="#111"/>
<circle cx="392.53" cy="570.68" r="1.25" fill="#111"/>
<circle cx="392.00" cy="566.57" r="1.25" fill="#111"/>
<circle cx="392.00" cy="571.55" r="1.25" fill="#111"/>
<line x1="411.75" y1="571.55" x2="411.75" y2="574.54" stroke="#1a1a1a" stroke-width="0.9"/>
<line x1="411.75" y1="577.86" x2="411.75" y2="580.68" stroke="#1a1a1a" stroke-width="0.9"/>
<rect x="406.10" y="574.54" width="11.30" height="3.32" fill="#1f6fd6" stroke="#222" stroke-width="0.9"/>
<line x1="406.10" y1="576.53" x2="417.40" y2="576.53" stroke="#111" stroke-width="1.6"/>
<circle cx="411.10" cy="580.05" r="1.25" fill="#111"/>
<circle cx="412.60" cy="575.57" r="1.25" fill="#111"/>
<circle cx="411.22" cy="575.07" r="1.25" fill="#111"/>
<circle cx="411.04" cy="572.30" r="1.25" fill="#111"/>
<circle cx="411.20" cy="580.53" r="1.25" fill="#111"/>
<circle cx="411.75" cy="571.55" r="1.25" fill="#111"/>
<circle cx="411.75" cy="580.68" r="1.25" fill="#111"/>
<line x1="423.60" y1="556.61" x2="423.60" y2="559.10" stroke="#1a1a1a" stroke-width="0.9"/>
<line x1="423.60" y1="564.91" x2="423.60" y2="570.72" stroke="#1a1a1a" stroke-width="0.9"/>
<rect x="417.40" y="559.10" width="12.40" height="5.81" fill="#f8766d" stroke="#222" stroke-width="0.9"/>
<line x1="417.40" y1="562.42" x2="429.80" y2="562.42" stroke="#111" stroke-width="1.6"/>
<circle cx="422.55" cy="564.43" r="1.25" fill="#111"/>
<circle cx="423.29" cy="568.23" r="1.25" fill="#111"/>
<circle cx="422.72" cy="562.65" r="1.25" fill="#111"/>
<circle cx="424.54" cy="565.61" r="1.25" fill="#111"/>
<circle cx="423.98" cy="556.89" r="1.25" fill="#111"/>
<circle cx="423.80" cy="560.97" r="1.25" fill="#111"/>
<circle cx="423.60" cy="556.61" r="1.25" fill="#111"/>
<circle cx="423.60" cy="570.72" r="1.25" fill="#111"/>
<line x1="443.95" y1="566.90" x2="443.95" y2="570.39" stroke="#1a1a1a" stroke-width="0.9"/>
<line x1="443.95" y1="575.37" x2="443.95" y2="578.19" stroke="#1a1a1a" stroke-width="0.9"/>
<rect x="438.30" y="570.39" width="11.30" height="4.98" fill="#1f6fd6" stroke="#222" stroke-width="0.9"/>
<line x1="438.30" y1="573.21" x2="449.60" y2="573.21" stroke="#111" stroke-width="1.6"/>
<circle cx="442.83" cy="576.61" r="1.25" fill="#111"/>
<circle cx="444.93" cy="577.99" r="1.25" fill="#111"/>
<circle cx="445.06" cy="570.28" r="1.25" fill="#111"/>
<circle cx="444.28" cy="577.95" r="1.25" fill="#111"/>
<circle cx="444.50" cy="572.75" r="1.25" fill="#111"/>
<circle cx="443.95" cy="566.90" r="1.25" fill="#111"/>
<circle cx="443.95" cy="578.19" r="1.25" fill="#111"/>
<line x1="455.80" y1="544.99" x2="455.80" y2="552.46" stroke="#1a1a1a" stroke-width="0.9"/>
<line x1="455.80" y1="559.10" x2="455.80" y2="564.91" stroke="#1a1a1a" stroke-width="0.9"/>
<rect x="449.60" y="552.46" width="12.40" height="6.64" fill="#f8766d" stroke="#222" stroke-width="0.9"/>
<line x1="449.60" y1="555.78" x2="462.00" y2="555.78" stroke="#111" stroke-width="1.6"/>
<circle cx="457.00" cy="558.56" r="1.25" fill="#111"/>
<circle cx="455.91" cy="563.41" r="1.25" fill="#111"/>
<circle cx="456.76" cy="550.23" r="1.25" fill="#111"/>
<circle cx="456.29" cy="550.23" r="1.25" fill="#111"/>
<circle cx="456.80" cy="549.11" r="1.25" fill="#111"/>
<circle cx="456.24" cy="557.90" r="1.25" fill="#111"/>
<circle cx="455.80" cy="544.99" r="1.25" fill="#111"/>
<circle cx="455.80" cy="564.91" r="1.25" fill="#111"/>
<line x1="476.75" y1="550.80" x2="476.75" y2="555.28" stroke="#1a1a1a" stroke-width="0.9"/>
<line x1="476.75" y1="564.41" x2="476.75" y2="569.06" stroke="#1a1a1a" stroke-width="0.9"/>
<rect x="471.10" y="555.28" width="11.30" height="9.13" fill="#1f6fd6" stroke="#222" stroke-width="0.9"/>
<line x1="471.10" y1="560.43" x2="482.40" y2="560.43" stroke="#111" stroke-width="1.6"/>
<circle cx="477.64" cy="552.61" r="1.25" fill="#111"/>
<circle cx="477.45" cy="561.44" r="1.25" fill="#111"/>
<circle cx="476.92" cy="553.29" r="1.25" fill="#111"/>
<circle cx="476.47" cy="557.65" r="1.25" fill="#111"/>
<circle cx="477.01" cy="558.42" r="1.25" fill="#111"/>
<circle cx="476.75" cy="550.80" r="1.25" fill="#111"/>
<circle cx="476.75" cy="569.06" r="1.25" fill="#111"/>
<line x1="488.60" y1="519.26" x2="488.60" y2="526.73" stroke="#1a1a1a" stroke-width="0.9"/>
<line x1="488.60" y1="540.84" x2="488.60" y2="548.31" stroke="#1a1a1a" stroke-width="0.9"/>
<rect x="482.40" y="526.73" width="12.40" height="14.11" fill="#f8766d" stroke="#222" stroke-width="0.9"/>
<line x1="482.40" y1="533.37" x2="494.80" y2="533.37" stroke="#111" stroke-width="1.6"/>
<circle cx="488.93" cy="545.98" r="1.25" fill="#111"/>
<circle cx="489.51" cy="519.45" r="1.25" fill="#111"/>
<circle cx="488.33" cy="527.16" r="1.25" fill="#111"/>
<circle cx="488.79" cy="526.96" r="1.25" fill="#111"/>
<circle cx="489.41" cy="535.51" r="1.25" fill="#111"/>
<circle cx="489.20" cy="545.88" r="1.25" fill="#111"/>
<circle cx="488.60" cy="519.26" r="1.25" fill="#111"/>
<circle cx="488.60" cy="548.31" r="1.25" fill="#111"/>
<text x="512.30" y="517.10" font-size="16.2" font-weight="bold" fill="#000" stroke="#000" stroke-width="0.7">h</text>
<defs><linearGradient id="hgrad" x1="0" x2="1" y1="0" y2="0"><stop offset="0" stop-color="#e2dcea"/><stop offset="1" stop-color="#4a1c8e"/></linearGradient></defs>
<text x="600.20" y="508.50" font-size="10.5" text-anchor="middle" fill="#1a1a1a" stroke="#1a1a1a" stroke-width="0.2">Eigengene</text>
<rect x="574.5" y="512.8" width="51.5" height="9" fill="url(#hgrad)" stroke="#111" stroke-width="0.9"/>
<line x1="574.50" y1="521.80" x2="574.50" y2="524.50" stroke="#1a1a1a" stroke-width="0.9"/>
<line x1="626.00" y1="521.80" x2="626.00" y2="524.50" stroke="#1a1a1a" stroke-width="0.9"/>
<text x="574.30" y="532.80" font-size="10.5" text-anchor="middle" fill="#1a1a1a" stroke="#1a1a1a" stroke-width="0.2">Min</text>
<text x="626.10" y="532.80" font-size="10.5" text-anchor="middle" fill="#1a1a1a" stroke="#1a1a1a" stroke-width="0.2">Max</text>
<path d="M558.6,567.9 C553,553 546,532 535.1,504.5" fill="none" stroke="#111" stroke-width="1"/>
<path d="M558.6,567.9 L583.7,564.7 C600,563 620,561 640.4,559.3" fill="none" stroke="#111" stroke-width="1"/>
<path d="M558.6,567.9 C552,580 546,591 540.5,599" fill="none" stroke="#111" stroke-width="1"/>
<circle cx="538.98" cy="511.35" r="1.1" fill="#6c3fb3" fill-opacity="0.85"/>
<circle cx="536.46" cy="511.54" r="1.1" fill="#6c3fb3" fill-opacity="0.85"/>
<circle cx="535.65" cy="507.52" r="1.1" fill="#6c3fb3" fill-opacity="0.85"/>
<circle cx="533.77" cy="506.78" r="1.1" fill="#6c3fb3" fill-opacity="0.85"/>
<circle cx="537.35" cy="511.49" r="1.1" fill="#6c3fb3" fill-opacity="0.85"/>
<circle cx="538.09" cy="515.81" r="1.1" fill="#6c3fb3" fill-opacity="0.85"/>
<circle cx="537.99" cy="512.83" r="1.1" fill="#6c3fb3" fill-opacity="0.85"/>
<circle cx="537.77" cy="507.90" r="1.1" fill="#6c3fb3" fill-opacity="0.85"/>
<circle cx="535.70" cy="514.14" r="1.1" fill="#6c3fb3" fill-opacity="0.85"/>
<circle cx="537.73" cy="515.50" r="1.1" fill="#6c3fb3" fill-opacity="0.85"/>
<circle cx="538.60" cy="514.15" r="1.1" fill="#6c3fb3" fill-opacity="0.85"/>
<circle cx="535.98" cy="503.97" r="1.1" fill="#6c3fb3" fill-opacity="0.85"/>
<circle cx="537.35" cy="508.56" r="1.1" fill="#6c3fb3" fill-opacity="0.85"/>
<circle cx="535.90" cy="509.85" r="1.1" fill="#6c3fb3" fill-opacity="0.85"/>
<circle cx="538.97" cy="513.60" r="1.1" fill="#6c3fb3" fill-opacity="0.85"/>
<circle cx="536.69" cy="505.25" r="1.1" fill="#6c3fb3" fill-opacity="0.85"/>
<circle cx="534.14" cy="503.49" r="1.1" fill="#6c3fb3" fill-opacity="0.85"/>
<circle cx="537.69" cy="512.99" r="1.1" fill="#6c3fb3" fill-opacity="0.85"/>
<circle cx="536.57" cy="512.07" r="1.1" fill="#6c3fb3" fill-opacity="0.85"/>
<circle cx="538.48" cy="514.19" r="1.1" fill="#6c3fb3" fill-opacity="0.85"/>
<circle cx="535.43" cy="508.60" r="1.1" fill="#6c3fb3" fill-opacity="0.85"/>
<circle cx="538.09" cy="516.96" r="1.1" fill="#6c3fb3" fill-opacity="0.85"/>
<circle cx="538.33" cy="510.21" r="1.1" fill="#6c3fb3" fill-opacity="0.85"/>
<circle cx="537.57" cy="511.29" r="1.1" fill="#6c3fb3" fill-opacity="0.85"/>
<circle cx="537.22" cy="510.25" r="1.1" fill="#6c3fb3" fill-opacity="0.85"/>
<circle cx="535.55" cy="507.04" r="1.1" fill="#6c3fb3" fill-opacity="0.85"/>
<circle cx="538.12" cy="516.59" r="1.1" fill="#6c3fb3" fill-opacity="0.85"/>
<circle cx="537.88" cy="511.02" r="1.1" fill="#6c3fb3" fill-opacity="0.85"/>
<circle cx="537.02" cy="511.28" r="1.1" fill="#6c3fb3" fill-opacity="0.85"/>
<circle cx="536.96" cy="508.78" r="1.1" fill="#6c3fb3" fill-opacity="0.85"/>
<circle cx="541.91" cy="522.62" r="1.1" fill="#8a63c4" fill-opacity="0.85"/>
<circle cx="540.06" cy="520.01" r="1.1" fill="#8a63c4" fill-opacity="0.85"/>
<circle cx="539.56" cy="519.31" r="1.1" fill="#8a63c4" fill-opacity="0.85"/>
<circle cx="539.82" cy="515.07" r="1.1" fill="#8a63c4" fill-opacity="0.85"/>
<circle cx="540.65" cy="520.36" r="1.1" fill="#8a63c4" fill-opacity="0.85"/>
<circle cx="541.08" cy="522.47" r="1.1" fill="#8a63c4" fill-opacity="0.85"/>
<circle cx="542.53" cy="521.87" r="1.1" fill="#8a63c4" fill-opacity="0.85"/>
<circle cx="540.75" cy="520.32" r="1.1" fill="#8a63c4" fill-opacity="0.85"/>
<circle cx="548.13" cy="538.47" r="1.1" fill="#8f6bc7" fill-opacity="0.85"/>
<circle cx="545.06" cy="530.83" r="1.1" fill="#8f6bc7" fill-opacity="0.85"/>
<circle cx="544.29" cy="531.27" r="1.1" fill="#8f6bc7" fill-opacity="0.85"/>
<circle cx="547.20" cy="539.61" r="1.1" fill="#8f6bc7" fill-opacity="0.85"/>
<circle cx="547.01" cy="533.99" r="1.1" fill="#8f6bc7" fill-opacity="0.85"/>
<circle cx="547.47" cy="532.03" r="1.1" fill="#8f6bc7" fill-opacity="0.85"/>
<circle cx="557.08" cy="556.60" r="1.1" fill="#9071c6" fill-opacity="0.85"/>
<circle cx="550.87" cy="548.99" r="1.1" fill="#9071c6" fill-opacity="0.85"/>
<circle cx="555.39" cy="557.77" r="1.1" fill="#9071c6" fill-opacity="0.85"/>
<circle cx="554.52" cy="548.87" r="1.1" fill="#9071c6" fill-opacity="0.85"/>
<circle cx="555.56" cy="552.10" r="1.1" fill="#9071c6" fill-opacity="0.85"/>
<circle cx="553.71" cy="552.15" r="1.1" fill="#9071c6" fill-opacity="0.85"/>
<circle cx="538.30" cy="599.24" r="1.1" fill="#7748bf" fill-opacity="0.85"/>
<circle cx="535.76" cy="600.51" r="1.1" fill="#7748bf" fill-opacity="0.85"/>
<circle cx="532.53" cy="613.90" r="1.1" fill="#7748bf" fill-opacity="0.85"/>
<circle cx="541.90" cy="607.96" r="1.1" fill="#7748bf" fill-opacity="0.85"/>
<circle cx="532.66" cy="602.59" r="1.1" fill="#7748bf" fill-opacity="0.85"/>
<circle cx="529.72" cy="611.88" r="1.1" fill="#7748bf" fill-opacity="0.85"/>
<circle cx="538.10" cy="604.10" r="1.1" fill="#7748bf" fill-opacity="0.85"/>
<circle cx="536.44" cy="608.96" r="1.1" fill="#7748bf" fill-opacity="0.85"/>
<circle cx="533.10" cy="602.26" r="1.1" fill="#7748bf" fill-opacity="0.85"/>
<circle cx="534.96" cy="605.79" r="1.1" fill="#7748bf" fill-opacity="0.85"/>
<circle cx="536.43" cy="604.96" r="1.1" fill="#7748bf" fill-opacity="0.85"/>
<circle cx="537.02" cy="604.16" r="1.1" fill="#7748bf" fill-opacity="0.85"/>
<circle cx="530.70" cy="610.29" r="1.1" fill="#7748bf" fill-opacity="0.85"/>
<circle cx="535.42" cy="607.95" r="1.1" fill="#7748bf" fill-opacity="0.85"/>
<circle cx="532.46" cy="603.58" r="1.1" fill="#7748bf" fill-opacity="0.85"/>
<circle cx="539.70" cy="602.41" r="1.1" fill="#7748bf" fill-opacity="0.85"/>
<circle cx="538.56" cy="605.90" r="1.1" fill="#7748bf" fill-opacity="0.85"/>
<circle cx="536.60" cy="606.00" r="1.1" fill="#7748bf" fill-opacity="0.85"/>
<circle cx="533.65" cy="610.48" r="1.1" fill="#7748bf" fill-opacity="0.85"/>
<circle cx="531.65" cy="611.03" r="1.1" fill="#7748bf" fill-opacity="0.85"/>
<circle cx="535.64" cy="601.83" r="1.1" fill="#7748bf" fill-opacity="0.85"/>
<circle cx="539.04" cy="603.08" r="1.1" fill="#7748bf" fill-opacity="0.85"/>
<circle cx="532.98" cy="608.76" r="1.1" fill="#7748bf" fill-opacity="0.85"/>
<circle cx="541.45" cy="601.16" r="1.1" fill="#7748bf" fill-opacity="0.85"/>
<circle cx="532.95" cy="613.19" r="1.1" fill="#7748bf" fill-opacity="0.85"/>
<circle cx="538.48" cy="606.53" r="1.1" fill="#7748bf" fill-opacity="0.85"/>
<circle cx="534.80" cy="604.27" r="1.1" fill="#7748bf" fill-opacity="0.85"/>
<circle cx="533.58" cy="603.74" r="1.1" fill="#7748bf" fill-opacity="0.85"/>
<circle cx="535.38" cy="605.27" r="1.1" fill="#7748bf" fill-opacity="0.85"/>
<circle cx="538.43" cy="606.55" r="1.1" fill="#7748bf" fill-opacity="0.85"/>
<circle cx="530.41" cy="608.01" r="1.1" fill="#7748bf" fill-opacity="0.85"/>
<circle cx="534.10" cy="603.20" r="1.1" fill="#7748bf" fill-opacity="0.85"/>
<circle cx="535.88" cy="604.64" r="1.1" fill="#7748bf" fill-opacity="0.85"/>
<circle cx="533.86" cy="603.97" r="1.1" fill="#7748bf" fill-opacity="0.85"/>
<circle cx="541.26" cy="606.38" r="1.1" fill="#7748bf" fill-opacity="0.85"/>
<circle cx="540.86" cy="599.25" r="1.1" fill="#8560c4" fill-opacity="0.85"/>
<circle cx="541.74" cy="598.53" r="1.1" fill="#8560c4" fill-opacity="0.85"/>
<circle cx="541.86" cy="593.06" r="1.1" fill="#8560c4" fill-opacity="0.85"/>
<circle cx="540.14" cy="597.26" r="1.1" fill="#8560c4" fill-opacity="0.85"/>
<circle cx="541.50" cy="599.59" r="1.1" fill="#8560c4" fill-opacity="0.85"/>
<circle cx="632.03" cy="559.48" r="1.1" fill="#a08ad0" fill-opacity="0.85"/>
<circle cx="629.24" cy="559.67" r="1.1" fill="#a08ad0" fill-opacity="0.85"/>
<circle cx="630.64" cy="560.48" r="1.1" fill="#a08ad0" fill-opacity="0.85"/>
<circle cx="626.75" cy="559.22" r="1.1" fill="#a08ad0" fill-opacity="0.85"/>
<circle cx="623.52" cy="561.33" r="1.1" fill="#a08ad0" fill-opacity="0.85"/>
<circle cx="637.37" cy="560.39" r="1.1" fill="#a08ad0" fill-opacity="0.85"/>
<circle cx="634.61" cy="560.40" r="1.1" fill="#a08ad0" fill-opacity="0.85"/>
<circle cx="629.02" cy="560.56" r="1.1" fill="#a08ad0" fill-opacity="0.85"/>
<circle cx="622.16" cy="560.11" r="1.1" fill="#a08ad0" fill-opacity="0.85"/>
<circle cx="624.28" cy="560.91" r="1.1" fill="#a08ad0" fill-opacity="0.85"/>
<circle cx="625.23" cy="560.02" r="1.1" fill="#a08ad0" fill-opacity="0.85"/>
<circle cx="631.68" cy="561.10" r="1.1" fill="#a08ad0" fill-opacity="0.85"/>
<circle cx="623.81" cy="559.27" r="1.1" fill="#a08ad0" fill-opacity="0.85"/>
<circle cx="634.24" cy="558.48" r="1.1" fill="#a08ad0" fill-opacity="0.85"/>
<circle cx="631.90" cy="559.15" r="1.1" fill="#a08ad0" fill-opacity="0.85"/>
<circle cx="628.20" cy="558.12" r="1.1" fill="#a08ad0" fill-opacity="0.85"/>
<circle cx="633.60" cy="559.12" r="1.1" fill="#a08ad0" fill-opacity="0.85"/>
<circle cx="623.29" cy="562.32" r="1.1" fill="#a08ad0" fill-opacity="0.85"/>
<circle cx="633.83" cy="563.13" r="1.1" fill="#a08ad0" fill-opacity="0.85"/>
<circle cx="631.63" cy="559.39" r="1.1" fill="#a08ad0" fill-opacity="0.85"/>
<circle cx="629.80" cy="561.46" r="1.1" fill="#a08ad0" fill-opacity="0.85"/>
<circle cx="628.85" cy="560.36" r="1.1" fill="#a08ad0" fill-opacity="0.85"/>
<circle cx="632.30" cy="558.79" r="1.1" fill="#a08ad0" fill-opacity="0.85"/>
<circle cx="629.81" cy="559.35" r="1.1" fill="#a08ad0" fill-opacity="0.85"/>
<circle cx="620.97" cy="561.26" r="1.1" fill="#a08ad0" fill-opacity="0.85"/>
<circle cx="633.32" cy="559.72" r="1.1" fill="#a08ad0" fill-opacity="0.85"/>
<circle cx="622.99" cy="558.25" r="1.1" fill="#a08ad0" fill-opacity="0.85"/>
<circle cx="632.14" cy="559.61" r="1.1" fill="#a08ad0" fill-opacity="0.85"/>
<circle cx="618.07" cy="560.50" r="1.1" fill="#a08ad0" fill-opacity="0.85"/>
<circle cx="619.13" cy="560.47" r="1.1" fill="#a08ad0" fill-opacity="0.85"/>
<circle cx="629.95" cy="560.20" r="1.1" fill="#a08ad0" fill-opacity="0.85"/>
<circle cx="630.42" cy="559.99" r="1.1" fill="#a08ad0" fill-opacity="0.85"/>
<circle cx="621.58" cy="559.96" r="1.1" fill="#a08ad0" fill-opacity="0.85"/>
<circle cx="625.67" cy="559.86" r="1.1" fill="#a08ad0" fill-opacity="0.85"/>
<circle cx="630.79" cy="560.41" r="1.1" fill="#a08ad0" fill-opacity="0.85"/>
<circle cx="639.45" cy="556.70" r="1.1" fill="#a08ad0" fill-opacity="0.85"/>
<circle cx="631.59" cy="559.55" r="1.1" fill="#a08ad0" fill-opacity="0.85"/>
<circle cx="643.82" cy="559.94" r="1.1" fill="#a08ad0" fill-opacity="0.85"/>
<circle cx="618.30" cy="560.95" r="1.1" fill="#a08ad0" fill-opacity="0.85"/>
<circle cx="625.68" cy="561.09" r="1.1" fill="#a08ad0" fill-opacity="0.85"/>
<circle cx="622.15" cy="560.21" r="1.1" fill="#a08ad0" fill-opacity="0.85"/>
<circle cx="628.14" cy="559.85" r="1.1" fill="#a08ad0" fill-opacity="0.85"/>
<circle cx="625.10" cy="558.29" r="1.1" fill="#a08ad0" fill-opacity="0.85"/>
<circle cx="632.05" cy="560.72" r="1.1" fill="#a08ad0" fill-opacity="0.85"/>
<circle cx="628.50" cy="558.91" r="1.1" fill="#a08ad0" fill-opacity="0.85"/>
<circle cx="606.25" cy="562.93" r="1.1" fill="#b2a2d5" fill-opacity="0.85"/>
<circle cx="603.95" cy="562.55" r="1.1" fill="#b2a2d5" fill-opacity="0.85"/>
<circle cx="613.38" cy="560.99" r="1.1" fill="#b2a2d5" fill-opacity="0.85"/>
<circle cx="601.56" cy="560.99" r="1.1" fill="#b2a2d5" fill-opacity="0.85"/>
<circle cx="600.77" cy="562.09" r="1.1" fill="#b2a2d5" fill-opacity="0.85"/>
<circle cx="599.21" cy="562.22" r="1.1" fill="#b2a2d5" fill-opacity="0.85"/>
<circle cx="615.75" cy="561.68" r="1.1" fill="#b2a2d5" fill-opacity="0.85"/>
<circle cx="604.43" cy="564.52" r="1.1" fill="#b2a2d5" fill-opacity="0.85"/>
<circle cx="604.54" cy="560.96" r="1.1" fill="#b2a2d5" fill-opacity="0.85"/>
<circle cx="607.36" cy="561.51" r="1.1" fill="#b2a2d5" fill-opacity="0.85"/>
<circle cx="592.92" cy="563.55" r="1.1" fill="#b8aad8" fill-opacity="0.85"/>
<circle cx="586.26" cy="563.34" r="1.1" fill="#b8aad8" fill-opacity="0.85"/>
<circle cx="588.29" cy="563.69" r="1.1" fill="#b8aad8" fill-opacity="0.85"/>
<circle cx="587.80" cy="564.07" r="1.1" fill="#b8aad8" fill-opacity="0.85"/>
<text x="17.00" y="648.80" font-size="16.2" font-weight="bold" fill="#000" stroke="#000" stroke-width="0.7">i</text>
<text x="59.60" y="656.30" font-size="11.2" fill="#1a1a1a" stroke="#1a1a1a" stroke-width="0.2">Day 50</text>
<text x="64.80" y="667.8" font-size="8.8" fill="#1a1a1a" stroke="#1a1a1a" stroke-width="0.05"><tspan font-style="italic">P</tspan> = 6.0 × 10<tspan dy="-3" font-size="6">−6</tspan></text>
<rect x="62.66" y="747.05" width="1.98" height="3.95" fill="#2176da" stroke="#3a2a2a" stroke-width="0.45"/>
<rect x="80.48" y="747.05" width="1.98" height="3.95" fill="#2176da" stroke="#3a2a2a" stroke-width="0.45"/>
<rect x="84.44" y="747.05" width="1.98" height="3.95" fill="#2176da" stroke="#3a2a2a" stroke-width="0.45"/>
<rect x="96.32" y="747.05" width="1.98" height="3.95" fill="#2176da" stroke="#3a2a2a" stroke-width="0.45"/>
<rect x="98.30" y="743.10" width="1.98" height="7.90" fill="#2176da" stroke="#3a2a2a" stroke-width="0.45"/>
<rect x="100.28" y="747.05" width="1.98" height="3.95" fill="#2176da" stroke="#3a2a2a" stroke-width="0.45"/>
<rect x="102.26" y="743.10" width="1.98" height="7.90" fill="#2176da" stroke="#3a2a2a" stroke-width="0.45"/>
<rect x="104.24" y="743.10" width="1.98" height="7.90" fill="#2176da" stroke="#3a2a2a" stroke-width="0.45"/>
<rect x="106.22" y="739.15" width="1.98" height="11.85" fill="#2176da" stroke="#3a2a2a" stroke-width="0.45"/>
<rect x="108.20" y="735.20" width="1.98" height="15.80" fill="#2176da" stroke="#3a2a2a" stroke-width="0.45"/>
<rect x="110.18" y="719.40" width="1.98" height="31.60" fill="#2176da" stroke="#3a2a2a" stroke-width="0.45"/>
<rect x="112.16" y="735.20" width="1.98" height="15.80" fill="#2176da" stroke="#3a2a2a" stroke-width="0.45"/>
<rect x="114.14" y="695.70" width="1.98" height="55.30" fill="#2176da" stroke="#3a2a2a" stroke-width="0.45"/>
<rect x="116.12" y="687.80" width="1.98" height="63.20" fill="#2176da" stroke="#3a2a2a" stroke-width="0.45"/>
<rect x="118.10" y="672.00" width="1.98" height="79.00" fill="#da675c" stroke="#3a2a2a" stroke-width="0.45"/>
<rect x="120.08" y="679.90" width="1.98" height="71.10" fill="#da675c" stroke="#3a2a2a" stroke-width="0.45"/>
<rect x="122.06" y="723.35" width="1.98" height="27.65" fill="#da675c" stroke="#3a2a2a" stroke-width="0.45"/>
<rect x="124.04" y="719.40" width="1.98" height="31.60" fill="#da675c" stroke="#3a2a2a" stroke-width="0.45"/>
<rect x="126.02" y="731.25" width="1.98" height="19.75" fill="#da675c" stroke="#3a2a2a" stroke-width="0.45"/>
<rect x="128.00" y="731.25" width="1.98" height="19.75" fill="#da675c" stroke="#3a2a2a" stroke-width="0.45"/>
<rect x="129.98" y="747.05" width="1.98" height="3.95" fill="#da675c" stroke="#3a2a2a" stroke-width="0.45"/>
<rect x="131.96" y="743.10" width="1.98" height="7.90" fill="#da675c" stroke="#3a2a2a" stroke-width="0.45"/>
<rect x="133.94" y="739.15" width="1.98" height="11.85" fill="#da675c" stroke="#3a2a2a" stroke-width="0.45"/>
<rect x="135.92" y="743.10" width="1.98" height="7.90" fill="#da675c" stroke="#3a2a2a" stroke-width="0.45"/>
<rect x="137.90" y="743.10" width="1.98" height="7.90" fill="#da675c" stroke="#3a2a2a" stroke-width="0.45"/>
<rect x="139.88" y="747.05" width="1.98" height="3.95" fill="#da675c" stroke="#3a2a2a" stroke-width="0.45"/>
<rect x="141.86" y="743.10" width="1.98" height="7.90" fill="#da675c" stroke="#3a2a2a" stroke-width="0.45"/>
<rect x="145.82" y="747.05" width="1.98" height="3.95" fill="#da675c" stroke="#3a2a2a" stroke-width="0.45"/>
<rect x="147.80" y="747.05" width="1.98" height="3.95" fill="#da675c" stroke="#3a2a2a" stroke-width="0.45"/>
<rect x="151.76" y="747.05" width="1.98" height="3.95" fill="#da675c" stroke="#3a2a2a" stroke-width="0.45"/>
<rect x="153.74" y="747.05" width="1.98" height="3.95" fill="#da675c" stroke="#3a2a2a" stroke-width="0.45"/>
<rect x="155.72" y="747.05" width="1.98" height="3.95" fill="#da675c" stroke="#3a2a2a" stroke-width="0.45"/>
<rect x="157.70" y="747.05" width="1.98" height="3.95" fill="#da675c" stroke="#3a2a2a" stroke-width="0.45"/>
<rect x="159.68" y="747.05" width="1.98" height="3.95" fill="#da675c" stroke="#3a2a2a" stroke-width="0.45"/>
<line x1="62.66" y1="751.00" x2="161.66" y2="751.00" stroke="#333" stroke-width="0.8"/>
<line x1="118.10" y1="751.00" x2="118.10" y2="671.00" stroke="#111" stroke-width="1.2" stroke-dasharray="3.5,2.2"/>
<line x1="59.50" y1="665.70" x2="59.50" y2="755.00" stroke="#1a1a1a" stroke-width="1.1"/>
<line x1="59.00" y1="754.50" x2="172.50" y2="754.50" stroke="#1a1a1a" stroke-width="1.1"/>
<line x1="55.00" y1="751.00" x2="59.50" y2="751.00" stroke="#1a1a1a" stroke-width="1"/>
<text x="52.50" y="755.20" font-size="12.5" text-anchor="end" fill="#1a1a1a" stroke="#1a1a1a" stroke-width="0.2">0</text>
<line x1="55.00" y1="731.25" x2="59.50" y2="731.25" stroke="#1a1a1a" stroke-width="1"/>
<text x="52.50" y="735.45" font-size="12.5" text-anchor="end" fill="#1a1a1a" stroke="#1a1a1a" stroke-width="0.2">5</text>
<line x1="55.00" y1="711.50" x2="59.50" y2="711.50" stroke="#1a1a1a" stroke-width="1"/>
<text x="52.50" y="715.70" font-size="12.5" text-anchor="end" fill="#1a1a1a" stroke="#1a1a1a" stroke-width="0.2">10</text>
<line x1="55.00" y1="691.75" x2="59.50" y2="691.75" stroke="#1a1a1a" stroke-width="1"/>
<text x="52.50" y="695.95" font-size="12.5" text-anchor="end" fill="#1a1a1a" stroke="#1a1a1a" stroke-width="0.2">15</text>
<line x1="55.00" y1="672.00" x2="59.50" y2="672.00" stroke="#1a1a1a" stroke-width="1"/>
<text x="52.50" y="676.20" font-size="12.5" text-anchor="end" fill="#1a1a1a" stroke="#1a1a1a" stroke-width="0.2">20</text>
<line x1="64.10" y1="754.50" x2="64.10" y2="758.00" stroke="#1a1a1a" stroke-width="1"/>
<text x="64.10" y="770.80" font-size="12" text-anchor="middle" fill="#1a1a1a" stroke="#1a1a1a" stroke-width="0.2">−3</text>
<line x1="82.10" y1="754.50" x2="82.10" y2="758.00" stroke="#1a1a1a" stroke-width="1"/>
<text x="82.10" y="770.80" font-size="12" text-anchor="middle" fill="#1a1a1a" stroke="#1a1a1a" stroke-width="0.2">−2</text>
<line x1="100.10" y1="754.50" x2="100.10" y2="758.00" stroke="#1a1a1a" stroke-width="1"/>
<text x="100.10" y="770.80" font-size="12" text-anchor="middle" fill="#1a1a1a" stroke="#1a1a1a" stroke-width="0.2">−1</text>
<line x1="118.10" y1="754.50" x2="118.10" y2="758.00" stroke="#1a1a1a" stroke-width="1"/>
<text x="118.10" y="770.80" font-size="12" text-anchor="middle" fill="#1a1a1a" stroke="#1a1a1a" stroke-width="0.2">0</text>
<line x1="136.10" y1="754.50" x2="136.10" y2="758.00" stroke="#1a1a1a" stroke-width="1"/>
<text x="136.10" y="770.80" font-size="12" text-anchor="middle" fill="#1a1a1a" stroke="#1a1a1a" stroke-width="0.2">1</text>
<line x1="154.10" y1="754.50" x2="154.10" y2="758.00" stroke="#1a1a1a" stroke-width="1"/>
<text x="154.10" y="770.80" font-size="12" text-anchor="middle" fill="#1a1a1a" stroke="#1a1a1a" stroke-width="0.2">2</text>
<text x="65.20" y="785" font-size="12" fill="#1a1a1a" stroke="#1a1a1a" stroke-width="0.2">log<tspan dy="3.2" font-size="9">2</tspan><tspan dy="-3.2"> (human/chimp)</tspan></text>
<text x="31.60" y="711.00" font-size="11.5" text-anchor="middle" fill="#1a1a1a" transform="rotate(-90 31.6 711)" stroke="#1a1a1a" stroke-width="0.2">Frequency</text>
<text x="176.90" y="648.80" font-size="16.2" font-weight="bold" fill="#000" stroke="#000" stroke-width="0.7">j</text>
<text x="218.50" y="656.30" font-size="11.2" fill="#1a1a1a" stroke="#1a1a1a" stroke-width="0.2">Day 100</text>
<text x="225.00" y="667.8" font-size="8.8" fill="#1a1a1a" stroke="#1a1a1a" stroke-width="0.05"><tspan font-style="italic">P</tspan> = 2.6 × 10<tspan dy="-3" font-size="6">−12</tspan></text>
<rect x="222.50" y="747.23" width="1.58" height="3.77" fill="#2176da" stroke="#3a2a2a" stroke-width="0.45"/>
<rect x="227.23" y="747.23" width="1.58" height="3.77" fill="#2176da" stroke="#3a2a2a" stroke-width="0.45"/>
<rect x="235.11" y="747.23" width="1.58" height="3.77" fill="#2176da" stroke="#3a2a2a" stroke-width="0.45"/>
<rect x="241.42" y="747.23" width="1.58" height="3.77" fill="#2176da" stroke="#3a2a2a" stroke-width="0.45"/>
<rect x="246.15" y="747.23" width="1.58" height="3.77" fill="#2176da" stroke="#3a2a2a" stroke-width="0.45"/>
<rect x="247.73" y="747.23" width="1.58" height="3.77" fill="#2176da" stroke="#3a2a2a" stroke-width="0.45"/>
<rect x="250.88" y="747.23" width="1.58" height="3.77" fill="#2176da" stroke="#3a2a2a" stroke-width="0.45"/>
<rect x="252.46" y="743.46" width="1.58" height="7.54" fill="#2176da" stroke="#3a2a2a" stroke-width="0.45"/>
<rect x="254.04" y="743.46" width="1.58" height="7.54" fill="#2176da" stroke="#3a2a2a" stroke-width="0.45"/>
<rect x="257.19" y="720.84" width="1.58" height="30.16" fill="#2176da" stroke="#3a2a2a" stroke-width="0.45"/>
<rect x="258.77" y="728.38" width="1.58" height="22.62" fill="#2176da" stroke="#3a2a2a" stroke-width="0.45"/>
<rect x="260.35" y="720.84" width="1.58" height="30.16" fill="#2176da" stroke="#3a2a2a" stroke-width="0.45"/>
<rect x="261.92" y="709.53" width="1.58" height="41.47" fill="#2176da" stroke="#3a2a2a" stroke-width="0.45"/>
<rect x="263.50" y="671.83" width="1.58" height="79.17" fill="#da675c" stroke="#3a2a2a" stroke-width="0.45"/>
<rect x="265.08" y="675.60" width="1.58" height="75.40" fill="#da675c" stroke="#3a2a2a" stroke-width="0.45"/>
<rect x="266.65" y="698.22" width="1.58" height="52.78" fill="#da675c" stroke="#3a2a2a" stroke-width="0.45"/>
<rect x="268.23" y="705.76" width="1.58" height="45.24" fill="#da675c" stroke="#3a2a2a" stroke-width="0.45"/>
<rect x="269.81" y="709.53" width="1.58" height="41.47" fill="#da675c" stroke="#3a2a2a" stroke-width="0.45"/>
<rect x="271.38" y="739.69" width="1.58" height="11.31" fill="#da675c" stroke="#3a2a2a" stroke-width="0.45"/>
<rect x="272.96" y="735.92" width="1.58" height="15.08" fill="#da675c" stroke="#3a2a2a" stroke-width="0.45"/>
<rect x="274.54" y="709.53" width="1.58" height="41.47" fill="#da675c" stroke="#3a2a2a" stroke-width="0.45"/>
<rect x="276.12" y="735.92" width="1.58" height="15.08" fill="#da675c" stroke="#3a2a2a" stroke-width="0.45"/>
<rect x="277.69" y="739.69" width="1.58" height="11.31" fill="#da675c" stroke="#3a2a2a" stroke-width="0.45"/>
<rect x="279.27" y="732.15" width="1.58" height="18.85" fill="#da675c" stroke="#3a2a2a" stroke-width="0.45"/>
<rect x="280.85" y="739.69" width="1.58" height="11.31" fill="#da675c" stroke="#3a2a2a" stroke-width="0.45"/>
<rect x="282.42" y="739.69" width="1.58" height="11.31" fill="#da675c" stroke="#3a2a2a" stroke-width="0.45"/>
<rect x="284.00" y="747.23" width="1.58" height="3.77" fill="#da675c" stroke="#3a2a2a" stroke-width="0.45"/>
<rect x="285.58" y="747.23" width="1.58" height="3.77" fill="#da675c" stroke="#3a2a2a" stroke-width="0.45"/>
<rect x="287.15" y="743.46" width="1.58" height="7.54" fill="#da675c" stroke="#3a2a2a" stroke-width="0.45"/>
<rect x="290.31" y="747.23" width="1.58" height="3.77" fill="#da675c" stroke="#3a2a2a" stroke-width="0.45"/>
<rect x="298.19" y="747.23" width="1.58" height="3.77" fill="#da675c" stroke="#3a2a2a" stroke-width="0.45"/>
<rect x="307.66" y="747.23" width="1.58" height="3.77" fill="#da675c" stroke="#3a2a2a" stroke-width="0.45"/>
<rect x="318.69" y="747.23" width="1.58" height="3.77" fill="#da675c" stroke="#3a2a2a" stroke-width="0.45"/>
<line x1="222.50" y1="751.00" x2="320.27" y2="751.00" stroke="#333" stroke-width="0.8"/>
<line x1="263.50" y1="751.00" x2="263.50" y2="670.83" stroke="#111" stroke-width="1.2" stroke-dasharray="3.5,2.2"/>
<line x1="217.50" y1="665.70" x2="217.50" y2="755.00" stroke="#1a1a1a" stroke-width="1.1"/>
<line x1="217.00" y1="754.50" x2="332.20" y2="754.50" stroke="#1a1a1a" stroke-width="1.1"/>
<line x1="213.00" y1="751.00" x2="217.50" y2="751.00" stroke="#1a1a1a" stroke-width="1"/>
<text x="210.50" y="755.20" font-size="12" text-anchor="end" fill="#1a1a1a" stroke="#1a1a1a" stroke-width="0.2">0</text>
<line x1="213.00" y1="732.15" x2="217.50" y2="732.15" stroke="#1a1a1a" stroke-width="1"/>
<text x="210.50" y="736.35" font-size="12" text-anchor="end" fill="#1a1a1a" stroke="#1a1a1a" stroke-width="0.2">5</text>
<line x1="213.00" y1="713.30" x2="217.50" y2="713.30" stroke="#1a1a1a" stroke-width="1"/>
<text x="210.50" y="717.50" font-size="12" text-anchor="end" fill="#1a1a1a" stroke="#1a1a1a" stroke-width="0.2">10</text>
<line x1="213.00" y1="694.45" x2="217.50" y2="694.45" stroke="#1a1a1a" stroke-width="1"/>
<text x="210.50" y="698.65" font-size="12" text-anchor="end" fill="#1a1a1a" stroke="#1a1a1a" stroke-width="0.2">15</text>
<line x1="213.00" y1="675.60" x2="217.50" y2="675.60" stroke="#1a1a1a" stroke-width="1"/>
<text x="210.50" y="679.80" font-size="12" text-anchor="end" fill="#1a1a1a" stroke="#1a1a1a" stroke-width="0.2">20</text>
<line x1="231.96" y1="754.50" x2="231.96" y2="758.00" stroke="#1a1a1a" stroke-width="1"/>
<text x="231.96" y="770.80" font-size="12" text-anchor="middle" fill="#1a1a1a" stroke="#1a1a1a" stroke-width="0.2">−2</text>
<line x1="263.50" y1="754.50" x2="263.50" y2="758.00" stroke="#1a1a1a" stroke-width="1"/>
<text x="263.50" y="770.80" font-size="12" text-anchor="middle" fill="#1a1a1a" stroke="#1a1a1a" stroke-width="0.2">0</text>
<line x1="295.04" y1="754.50" x2="295.04" y2="758.00" stroke="#1a1a1a" stroke-width="1"/>
<text x="295.04" y="770.80" font-size="12" text-anchor="middle" fill="#1a1a1a" stroke="#1a1a1a" stroke-width="0.2">2</text>
<text x="224.50" y="785" font-size="12" fill="#1a1a1a" stroke="#1a1a1a" stroke-width="0.2">log<tspan dy="3.2" font-size="9">2</tspan><tspan dy="-3.2"> (human/chimp)</tspan></text>
<text x="190.10" y="711.00" font-size="11.5" text-anchor="middle" fill="#1a1a1a" transform="rotate(-90 190.1 711)" stroke="#1a1a1a" stroke-width="0.2">Frequency</text>
<text x="336.90" y="648.80" font-size="16.2" font-weight="bold" fill="#000" stroke="#000" stroke-width="0.7">k</text>
<text x="377.00" y="656.30" font-size="11.2" fill="#1a1a1a" stroke="#1a1a1a" stroke-width="0.2">Day 150</text>
<text x="380.90" y="667.8" font-size="8.8" fill="#1a1a1a" stroke="#1a1a1a" stroke-width="0.05"><tspan font-style="italic">P</tspan> = 9.5 × 10<tspan dy="-3" font-size="6">−11</tspan></text>
<rect x="381.00" y="745.70" width="1.40" height="5.30" fill="#2176da" stroke="#3a2a2a" stroke-width="0.45"/>
<rect x="393.63" y="745.70" width="1.40" height="5.30" fill="#2176da" stroke="#3a2a2a" stroke-width="0.45"/>
<rect x="397.84" y="745.70" width="1.40" height="5.30" fill="#2176da" stroke="#3a2a2a" stroke-width="0.45"/>
<rect x="399.25" y="745.70" width="1.40" height="5.30" fill="#2176da" stroke="#3a2a2a" stroke-width="0.45"/>
<rect x="400.65" y="745.70" width="1.40" height="5.30" fill="#2176da" stroke="#3a2a2a" stroke-width="0.45"/>
<rect x="402.06" y="740.40" width="1.40" height="10.60" fill="#2176da" stroke="#3a2a2a" stroke-width="0.45"/>
<rect x="403.46" y="745.70" width="1.40" height="5.30" fill="#2176da" stroke="#3a2a2a" stroke-width="0.45"/>
<rect x="404.86" y="735.10" width="1.40" height="15.90" fill="#2176da" stroke="#3a2a2a" stroke-width="0.45"/>
<rect x="406.27" y="745.70" width="1.40" height="5.30" fill="#2176da" stroke="#3a2a2a" stroke-width="0.45"/>
<rect x="407.67" y="724.50" width="1.40" height="26.50" fill="#2176da" stroke="#3a2a2a" stroke-width="0.45"/>
<rect x="409.08" y="740.40" width="1.40" height="10.60" fill="#2176da" stroke="#3a2a2a" stroke-width="0.45"/>
<rect x="410.48" y="703.30" width="1.40" height="47.70" fill="#2176da" stroke="#3a2a2a" stroke-width="0.45"/>
<rect x="411.88" y="735.10" width="1.40" height="15.90" fill="#2176da" stroke="#3a2a2a" stroke-width="0.45"/>
<rect x="413.29" y="729.80" width="1.40" height="21.20" fill="#2176da" stroke="#3a2a2a" stroke-width="0.45"/>
<rect x="414.69" y="687.40" width="1.40" height="63.60" fill="#2176da" stroke="#3a2a2a" stroke-width="0.45"/>
<rect x="416.10" y="703.30" width="1.40" height="47.70" fill="#2176da" stroke="#3a2a2a" stroke-width="0.45"/>
<rect x="417.50" y="687.40" width="1.40" height="63.60" fill="#da675c" stroke="#3a2a2a" stroke-width="0.45"/>
<rect x="418.90" y="687.40" width="1.40" height="63.60" fill="#da675c" stroke="#3a2a2a" stroke-width="0.45"/>
<rect x="420.31" y="676.80" width="1.40" height="74.20" fill="#da675c" stroke="#3a2a2a" stroke-width="0.45"/>
<rect x="421.71" y="671.50" width="1.40" height="79.50" fill="#da675c" stroke="#3a2a2a" stroke-width="0.45"/>
<rect x="423.12" y="676.80" width="1.40" height="74.20" fill="#da675c" stroke="#3a2a2a" stroke-width="0.45"/>
<rect x="424.52" y="682.10" width="1.40" height="68.90" fill="#da675c" stroke="#3a2a2a" stroke-width="0.45"/>
<rect x="425.92" y="719.20" width="1.40" height="31.80" fill="#da675c" stroke="#3a2a2a" stroke-width="0.45"/>
<rect x="427.33" y="740.40" width="1.40" height="10.60" fill="#da675c" stroke="#3a2a2a" stroke-width="0.45"/>
<rect x="428.73" y="740.40" width="1.40" height="10.60" fill="#da675c" stroke="#3a2a2a" stroke-width="0.45"/>
<rect x="430.14" y="735.10" width="1.40" height="15.90" fill="#da675c" stroke="#3a2a2a" stroke-width="0.45"/>
<rect x="431.54" y="729.80" width="1.40" height="21.20" fill="#da675c" stroke="#3a2a2a" stroke-width="0.45"/>
<rect x="432.94" y="740.40" width="1.40" height="10.60" fill="#da675c" stroke="#3a2a2a" stroke-width="0.45"/>
<rect x="434.35" y="745.70" width="1.40" height="5.30" fill="#da675c" stroke="#3a2a2a" stroke-width="0.45"/>
<rect x="435.75" y="740.40" width="1.40" height="10.60" fill="#da675c" stroke="#3a2a2a" stroke-width="0.45"/>
<rect x="437.16" y="740.40" width="1.40" height="10.60" fill="#da675c" stroke="#3a2a2a" stroke-width="0.45"/>
<rect x="438.56" y="740.40" width="1.40" height="10.60" fill="#da675c" stroke="#3a2a2a" stroke-width="0.45"/>
<rect x="439.96" y="735.10" width="1.40" height="15.90" fill="#da675c" stroke="#3a2a2a" stroke-width="0.45"/>
<rect x="444.18" y="745.70" width="1.40" height="5.30" fill="#da675c" stroke="#3a2a2a" stroke-width="0.45"/>
<rect x="451.20" y="745.70" width="1.40" height="5.30" fill="#da675c" stroke="#3a2a2a" stroke-width="0.45"/>
<rect x="452.60" y="745.70" width="1.40" height="5.30" fill="#da675c" stroke="#3a2a2a" stroke-width="0.45"/>
<rect x="454.00" y="745.70" width="1.40" height="5.30" fill="#da675c" stroke="#3a2a2a" stroke-width="0.45"/>
<rect x="465.24" y="745.70" width="1.40" height="5.30" fill="#da675c" stroke="#3a2a2a" stroke-width="0.45"/>
<rect x="477.87" y="745.70" width="1.40" height="5.30" fill="#da675c" stroke="#3a2a2a" stroke-width="0.45"/>
<line x1="381.00" y1="751.00" x2="479.28" y2="751.00" stroke="#333" stroke-width="0.8"/>
<line x1="417.50" y1="751.00" x2="417.50" y2="670.50" stroke="#111" stroke-width="1.2" stroke-dasharray="3.5,2.2"/>
<line x1="375.50" y1="665.70" x2="375.50" y2="755.00" stroke="#1a1a1a" stroke-width="1.1"/>
<line x1="375.00" y1="754.50" x2="489.50" y2="754.50" stroke="#1a1a1a" stroke-width="1.1"/>
<line x1="371.00" y1="751.00" x2="375.50" y2="751.00" stroke="#1a1a1a" stroke-width="1"/>
<text x="370.10" y="755.20" font-size="13" text-anchor="end" fill="#1a1a1a" stroke="#1a1a1a" stroke-width="0.2">0</text>
<line x1="371.00" y1="724.50" x2="375.50" y2="724.50" stroke="#1a1a1a" stroke-width="1"/>
<text x="370.10" y="728.70" font-size="13" text-anchor="end" fill="#1a1a1a" stroke="#1a1a1a" stroke-width="0.2">5</text>
<line x1="371.00" y1="698.00" x2="375.50" y2="698.00" stroke="#1a1a1a" stroke-width="1"/>
<text x="370.10" y="702.20" font-size="13" text-anchor="end" fill="#1a1a1a" stroke="#1a1a1a" stroke-width="0.2">10</text>
<line x1="371.00" y1="671.50" x2="375.50" y2="671.50" stroke="#1a1a1a" stroke-width="1"/>
<text x="370.10" y="675.70" font-size="13" text-anchor="end" fill="#1a1a1a" stroke="#1a1a1a" stroke-width="0.2">15</text>
<line x1="382.40" y1="754.50" x2="382.40" y2="758.00" stroke="#1a1a1a" stroke-width="1"/>
<text x="382.40" y="770.80" font-size="12" text-anchor="middle" fill="#1a1a1a" stroke="#1a1a1a" stroke-width="0.2">−2.5</text>
<line x1="417.50" y1="754.50" x2="417.50" y2="758.00" stroke="#1a1a1a" stroke-width="1"/>
<text x="417.50" y="770.80" font-size="12" text-anchor="middle" fill="#1a1a1a" stroke="#1a1a1a" stroke-width="0.2">0.0</text>
<line x1="452.60" y1="754.50" x2="452.60" y2="758.00" stroke="#1a1a1a" stroke-width="1"/>
<text x="452.60" y="770.80" font-size="12" text-anchor="middle" fill="#1a1a1a" stroke="#1a1a1a" stroke-width="0.2">2.5</text>
<text x="380.90" y="785" font-size="12" fill="#1a1a1a" stroke="#1a1a1a" stroke-width="0.2">log<tspan dy="3.2" font-size="9">2</tspan><tspan dy="-3.2"> (human/chimp)</tspan></text>
<text x="349.10" y="711.00" font-size="11.5" text-anchor="middle" fill="#1a1a1a" transform="rotate(-90 349.1 711)" stroke="#1a1a1a" stroke-width="0.2">Frequency</text>
<text x="495.70" y="648.80" font-size="16.2" font-weight="bold" fill="#000" stroke="#000" stroke-width="0.7">l</text>
<text x="535.90" y="656.30" font-size="11.2" fill="#1a1a1a" stroke="#1a1a1a" stroke-width="0.2">Day 200</text>
<text x="540.00" y="667.8" font-size="8.8" fill="#1a1a1a" stroke="#1a1a1a" stroke-width="0.05"><tspan font-style="italic">P</tspan> = 1.5 × 10<tspan dy="-3" font-size="6">−14</tspan></text>
<rect x="540.33" y="746.07" width="1.39" height="4.93" fill="#2176da" stroke="#3a2a2a" stroke-width="0.45"/>
<rect x="541.72" y="746.07" width="1.39" height="4.93" fill="#2176da" stroke="#3a2a2a" stroke-width="0.45"/>
<rect x="551.45" y="746.07" width="1.39" height="4.93" fill="#2176da" stroke="#3a2a2a" stroke-width="0.45"/>
<rect x="554.23" y="741.14" width="1.39" height="9.86" fill="#2176da" stroke="#3a2a2a" stroke-width="0.45"/>
<rect x="555.62" y="741.14" width="1.39" height="9.86" fill="#2176da" stroke="#3a2a2a" stroke-width="0.45"/>
<rect x="558.40" y="746.07" width="1.39" height="4.93" fill="#2176da" stroke="#3a2a2a" stroke-width="0.45"/>
<rect x="559.79" y="741.14" width="1.39" height="9.86" fill="#2176da" stroke="#3a2a2a" stroke-width="0.45"/>
<rect x="561.18" y="746.07" width="1.39" height="4.93" fill="#2176da" stroke="#3a2a2a" stroke-width="0.45"/>
<rect x="562.57" y="746.07" width="1.39" height="4.93" fill="#2176da" stroke="#3a2a2a" stroke-width="0.45"/>
<rect x="563.96" y="741.14" width="1.39" height="9.86" fill="#2176da" stroke="#3a2a2a" stroke-width="0.45"/>
<rect x="566.74" y="721.42" width="1.39" height="29.58" fill="#2176da" stroke="#3a2a2a" stroke-width="0.45"/>
<rect x="568.13" y="726.35" width="1.39" height="24.65" fill="#2176da" stroke="#3a2a2a" stroke-width="0.45"/>
<rect x="569.52" y="731.28" width="1.39" height="19.72" fill="#2176da" stroke="#3a2a2a" stroke-width="0.45"/>
<rect x="570.91" y="711.56" width="1.39" height="39.44" fill="#2176da" stroke="#3a2a2a" stroke-width="0.45"/>
<rect x="572.30" y="672.12" width="1.39" height="78.88" fill="#da675c" stroke="#3a2a2a" stroke-width="0.45"/>
<rect x="573.69" y="686.91" width="1.39" height="64.09" fill="#da675c" stroke="#3a2a2a" stroke-width="0.45"/>
<rect x="575.08" y="686.91" width="1.39" height="64.09" fill="#da675c" stroke="#3a2a2a" stroke-width="0.45"/>
<rect x="576.47" y="711.56" width="1.39" height="39.44" fill="#da675c" stroke="#3a2a2a" stroke-width="0.45"/>
<rect x="577.86" y="701.70" width="1.39" height="49.30" fill="#da675c" stroke="#3a2a2a" stroke-width="0.45"/>
<rect x="579.25" y="706.63" width="1.39" height="44.37" fill="#da675c" stroke="#3a2a2a" stroke-width="0.45"/>
<rect x="580.64" y="711.56" width="1.39" height="39.44" fill="#da675c" stroke="#3a2a2a" stroke-width="0.45"/>
<rect x="582.03" y="726.35" width="1.39" height="24.65" fill="#da675c" stroke="#3a2a2a" stroke-width="0.45"/>
<rect x="583.42" y="711.56" width="1.39" height="39.44" fill="#da675c" stroke="#3a2a2a" stroke-width="0.45"/>
<rect x="584.81" y="726.35" width="1.39" height="24.65" fill="#da675c" stroke="#3a2a2a" stroke-width="0.45"/>
<rect x="586.20" y="736.21" width="1.39" height="14.79" fill="#da675c" stroke="#3a2a2a" stroke-width="0.45"/>
<rect x="587.59" y="711.56" width="1.39" height="39.44" fill="#da675c" stroke="#3a2a2a" stroke-width="0.45"/>
<rect x="591.76" y="746.07" width="1.39" height="4.93" fill="#da675c" stroke="#3a2a2a" stroke-width="0.45"/>
<rect x="594.54" y="741.14" width="1.39" height="9.86" fill="#da675c" stroke="#3a2a2a" stroke-width="0.45"/>
<rect x="595.93" y="746.07" width="1.39" height="4.93" fill="#da675c" stroke="#3a2a2a" stroke-width="0.45"/>
<rect x="597.32" y="746.07" width="1.39" height="4.93" fill="#da675c" stroke="#3a2a2a" stroke-width="0.45"/>
<rect x="598.71" y="746.07" width="1.39" height="4.93" fill="#da675c" stroke="#3a2a2a" stroke-width="0.45"/>
<rect x="600.10" y="746.07" width="1.39" height="4.93" fill="#da675c" stroke="#3a2a2a" stroke-width="0.45"/>
<rect x="604.27" y="746.07" width="1.39" height="4.93" fill="#da675c" stroke="#3a2a2a" stroke-width="0.45"/>
<rect x="609.83" y="746.07" width="1.39" height="4.93" fill="#da675c" stroke="#3a2a2a" stroke-width="0.45"/>
<rect x="612.61" y="736.21" width="1.39" height="14.79" fill="#da675c" stroke="#3a2a2a" stroke-width="0.45"/>
<rect x="620.95" y="746.07" width="1.39" height="4.93" fill="#da675c" stroke="#3a2a2a" stroke-width="0.45"/>
<rect x="632.07" y="741.14" width="1.39" height="9.86" fill="#da675c" stroke="#3a2a2a" stroke-width="0.45"/>
<rect x="636.24" y="746.07" width="1.39" height="4.93" fill="#da675c" stroke="#3a2a2a" stroke-width="0.45"/>
<line x1="540.33" y1="751.00" x2="637.63" y2="751.00" stroke="#333" stroke-width="0.8"/>
<line x1="572.30" y1="751.00" x2="572.30" y2="671.12" stroke="#111" stroke-width="1.2" stroke-dasharray="3.5,2.2"/>
<line x1="535.50" y1="665.70" x2="535.50" y2="755.00" stroke="#1a1a1a" stroke-width="1.1"/>
<line x1="535.00" y1="754.50" x2="649.00" y2="754.50" stroke="#1a1a1a" stroke-width="1.1"/>
<line x1="531.00" y1="751.00" x2="535.50" y2="751.00" stroke="#1a1a1a" stroke-width="1"/>
<text x="530.30" y="755.20" font-size="13" text-anchor="end" fill="#1a1a1a" stroke="#1a1a1a" stroke-width="0.2">0</text>
<line x1="531.00" y1="726.35" x2="535.50" y2="726.35" stroke="#1a1a1a" stroke-width="1"/>
<text x="530.30" y="730.55" font-size="13" text-anchor="end" fill="#1a1a1a" stroke="#1a1a1a" stroke-width="0.2">5</text>
<line x1="531.00" y1="701.70" x2="535.50" y2="701.70" stroke="#1a1a1a" stroke-width="1"/>
<text x="530.30" y="705.90" font-size="13" text-anchor="end" fill="#1a1a1a" stroke="#1a1a1a" stroke-width="0.2">10</text>
<line x1="531.00" y1="677.05" x2="535.50" y2="677.05" stroke="#1a1a1a" stroke-width="1"/>
<text x="530.30" y="681.25" font-size="13" text-anchor="end" fill="#1a1a1a" stroke="#1a1a1a" stroke-width="0.2">15</text>
<line x1="537.55" y1="754.50" x2="537.55" y2="758.00" stroke="#1a1a1a" stroke-width="1"/>
<text x="537.55" y="770.80" font-size="12" text-anchor="middle" fill="#1a1a1a" stroke="#1a1a1a" stroke-width="0.2">−2.5</text>
<line x1="572.30" y1="754.50" x2="572.30" y2="758.00" stroke="#1a1a1a" stroke-width="1"/>
<text x="572.30" y="770.80" font-size="12" text-anchor="middle" fill="#1a1a1a" stroke="#1a1a1a" stroke-width="0.2">0.0</text>
<line x1="607.05" y1="754.50" x2="607.05" y2="758.00" stroke="#1a1a1a" stroke-width="1"/>
<text x="607.05" y="770.80" font-size="12" text-anchor="middle" fill="#1a1a1a" stroke="#1a1a1a" stroke-width="0.2">2.5</text>
<line x1="641.80" y1="754.50" x2="641.80" y2="758.00" stroke="#1a1a1a" stroke-width="1"/>
<text x="641.80" y="770.80" font-size="12" text-anchor="middle" fill="#1a1a1a" stroke="#1a1a1a" stroke-width="0.2">5.0</text>
<text x="537.00" y="785" font-size="12" fill="#1a1a1a" stroke="#1a1a1a" stroke-width="0.2">log<tspan dy="3.2" font-size="9">2</tspan><tspan dy="-3.2"> (human/chimp)</tspan></text>
<text x="508.10" y="711.00" font-size="11.5" text-anchor="middle" fill="#1a1a1a" transform="rotate(-90 508.1 711)" stroke="#1a1a1a" stroke-width="0.2">Frequency</text>
</svg></body></html>
